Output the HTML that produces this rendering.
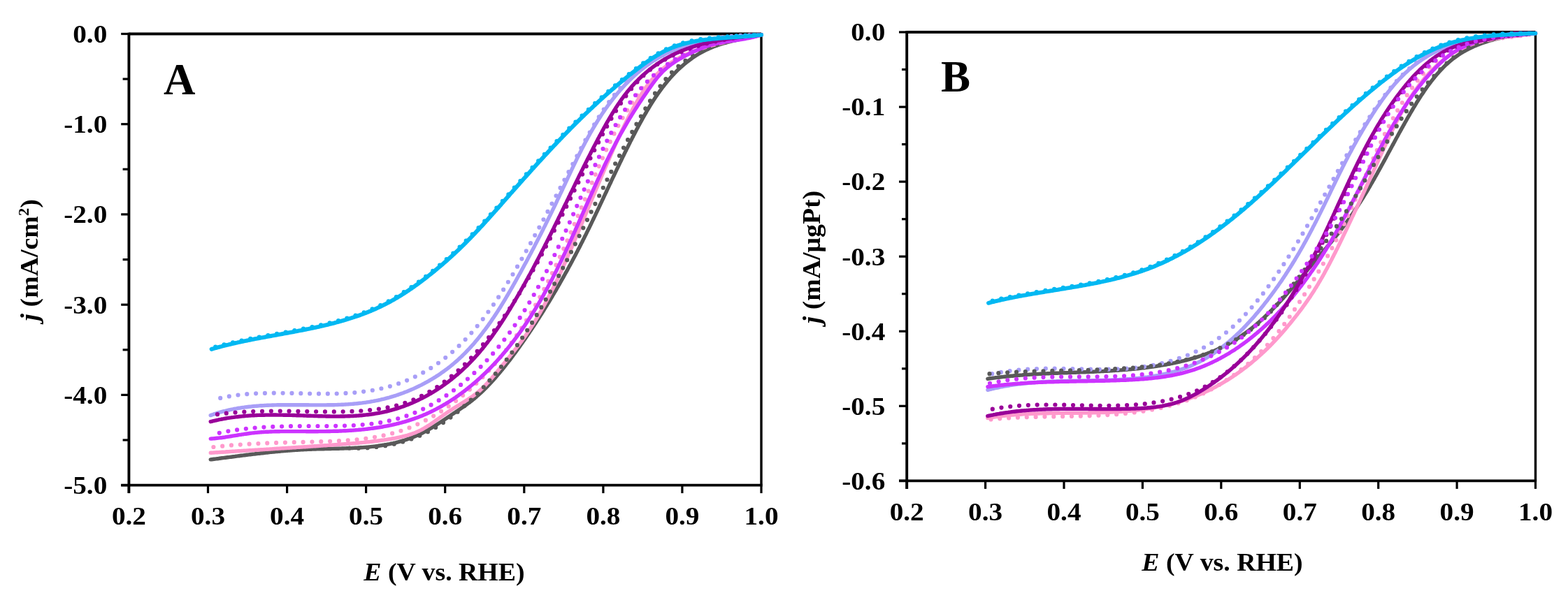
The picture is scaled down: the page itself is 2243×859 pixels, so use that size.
<!DOCTYPE html>
<html><head><meta charset="utf-8"><title>ORR polarization curves</title>
<style>
html,body{margin:0;padding:0;background:#fff;}
body{width:2243px;height:859px;overflow:hidden;}
svg{display:block;filter:blur(0.55px);}
.t{font-family:"Liberation Serif","Times New Roman",serif;font-weight:bold;font-size:36px;fill:#000;}
.big{font-family:"Liberation Serif","Times New Roman",serif;font-weight:bold;font-size:63px;fill:#000;}
</style></head><body>
<svg width="2243" height="859" viewBox="0 0 2243 859">
<rect width="2243" height="859" fill="#fff"/>
<defs><clipPath id="clA"><rect x="184.4" y="47.3" width="907.6" height="646.1"/></clipPath><clipPath id="clB"><rect x="1297.2" y="44.8" width="902.3" height="642.4"/></clipPath></defs>
<g id="panelA">
<line x1="184.4" y1="48.5" x2="1089.0" y2="48.5" stroke="#000" stroke-width="3.9"/>
<line x1="1089.0" y1="48.5" x2="1089.0" y2="694.6" stroke="#000" stroke-width="3.4"/>
<line x1="184.4" y1="46.7" x2="184.4" y2="706.1" stroke="#000" stroke-width="3.9"/>
<line x1="173.20000000000002" y1="694.6" x2="1090.6" y2="694.6" stroke="#000" stroke-width="3.9"/>
<line x1="173.20000000000002" y1="48.5" x2="184.4" y2="48.5" stroke="#000" stroke-width="3.2"/>
<text transform="translate(153.3,60.8) scale(1.09,1)" text-anchor="end" class="t">0.0</text>
<line x1="173.20000000000002" y1="177.7" x2="184.4" y2="177.7" stroke="#000" stroke-width="3.2"/>
<text transform="translate(153.3,190.0) scale(1.09,1)" text-anchor="end" class="t">-1.0</text>
<line x1="173.20000000000002" y1="306.9" x2="184.4" y2="306.9" stroke="#000" stroke-width="3.2"/>
<text transform="translate(153.3,319.2) scale(1.09,1)" text-anchor="end" class="t">-2.0</text>
<line x1="173.20000000000002" y1="436.2" x2="184.4" y2="436.2" stroke="#000" stroke-width="3.2"/>
<text transform="translate(153.3,448.5) scale(1.09,1)" text-anchor="end" class="t">-3.0</text>
<line x1="173.20000000000002" y1="565.4" x2="184.4" y2="565.4" stroke="#000" stroke-width="3.2"/>
<text transform="translate(153.3,577.7) scale(1.09,1)" text-anchor="end" class="t">-4.0</text>
<line x1="173.20000000000002" y1="694.6" x2="184.4" y2="694.6" stroke="#000" stroke-width="3.2"/>
<text transform="translate(153.3,706.9) scale(1.09,1)" text-anchor="end" class="t">-5.0</text>
<line x1="175.6" y1="113.1" x2="184.4" y2="113.1" stroke="#000" stroke-width="3.2"/>
<line x1="175.6" y1="242.3" x2="184.4" y2="242.3" stroke="#000" stroke-width="3.2"/>
<line x1="175.6" y1="371.6" x2="184.4" y2="371.6" stroke="#000" stroke-width="3.2"/>
<line x1="175.6" y1="500.8" x2="184.4" y2="500.8" stroke="#000" stroke-width="3.2"/>
<line x1="175.6" y1="630.0" x2="184.4" y2="630.0" stroke="#000" stroke-width="3.2"/>
<line x1="184.4" y1="694.6" x2="184.4" y2="706.1" stroke="#000" stroke-width="3.2"/>
<text transform="translate(184.4,750.5) scale(1.09,1)" text-anchor="middle" class="t">0.2</text>
<line x1="297.5" y1="694.6" x2="297.5" y2="706.1" stroke="#000" stroke-width="3.2"/>
<text transform="translate(297.5,750.5) scale(1.09,1)" text-anchor="middle" class="t">0.3</text>
<line x1="410.6" y1="694.6" x2="410.6" y2="706.1" stroke="#000" stroke-width="3.2"/>
<text transform="translate(410.6,750.5) scale(1.09,1)" text-anchor="middle" class="t">0.4</text>
<line x1="523.6" y1="694.6" x2="523.6" y2="706.1" stroke="#000" stroke-width="3.2"/>
<text transform="translate(523.6,750.5) scale(1.09,1)" text-anchor="middle" class="t">0.5</text>
<line x1="636.7" y1="694.6" x2="636.7" y2="706.1" stroke="#000" stroke-width="3.2"/>
<text transform="translate(636.7,750.5) scale(1.09,1)" text-anchor="middle" class="t">0.6</text>
<line x1="749.8" y1="694.6" x2="749.8" y2="706.1" stroke="#000" stroke-width="3.2"/>
<text transform="translate(749.8,750.5) scale(1.09,1)" text-anchor="middle" class="t">0.7</text>
<line x1="862.9" y1="694.6" x2="862.9" y2="706.1" stroke="#000" stroke-width="3.2"/>
<text transform="translate(862.9,750.5) scale(1.09,1)" text-anchor="middle" class="t">0.8</text>
<line x1="975.9" y1="694.6" x2="975.9" y2="706.1" stroke="#000" stroke-width="3.2"/>
<text transform="translate(975.9,750.5) scale(1.09,1)" text-anchor="middle" class="t">0.9</text>
<line x1="1089.0" y1="694.6" x2="1089.0" y2="706.1" stroke="#000" stroke-width="3.2"/>
<text transform="translate(1089.0,750.5) scale(1.09,1)" text-anchor="middle" class="t">1.0</text>
<g clip-path="url(#clA)">
<path d="M315.2 569.9 L317.0 569.5 L318.7 569.2 L320.5 568.8 L322.2 568.4 L324.0 568.1 L325.7 567.8 L327.5 567.5 L329.2 567.2 L331.0 566.9 L332.8 566.6 L334.5 566.3 L336.3 566.1 L338.0 565.9 L339.8 565.6 L341.6 565.4 L343.3 565.2 L345.1 565.0 L346.9 564.8 L348.6 564.6 L350.4 564.5 L352.2 564.3 L353.9 564.1 L355.7 564.0 L357.5 563.9 L359.3 563.7 L361.0 563.6 L362.8 563.5 L364.6 563.4 L366.4 563.3 L368.1 563.2 L369.9 563.2 L371.7 563.1 L373.5 563.0 L375.3 563.0 L377.0 562.9 L378.8 562.9 L380.6 562.8 L382.4 562.8 L384.2 562.8 L386.0 562.7 L387.7 562.7 L389.5 562.7 L391.3 562.7 L393.1 562.7 L394.9 562.7 L396.7 562.7 L398.5 562.7 L400.2 562.7 L402.0 562.7 L403.8 562.7 L405.6 562.8 L407.4 562.8 L409.2 562.8 L411.0 562.8 L412.8 562.9 L414.6 562.9 L416.3 562.9 L418.1 563.0 L419.9 563.0 L421.7 563.0 L423.5 563.1 L425.3 563.1 L427.1 563.2 L428.9 563.2 L430.7 563.2 L432.5 563.3 L434.3 563.3 L436.1 563.4 L437.9 563.4 L439.6 563.4 L441.4 563.5 L443.2 563.5 L445.0 563.5 L446.8 563.6 L448.6 563.6 L450.4 563.6 L452.2 563.7 L454.0 563.7 L455.8 563.7 L457.6 563.7 L459.4 563.7 L461.2 563.7 L463.0 563.7 L464.7 563.7 L466.5 563.7 L468.3 563.7 L470.1 563.7 L471.9 563.7 L473.7 563.7 L475.5 563.6 L477.3 563.6 L479.1 563.6 L480.9 563.5 L482.7 563.5 L484.5 563.4 L486.2 563.4 L488.0 563.3 L489.8 563.2 L491.6 563.1 L493.4 563.0 L495.2 562.9 L497.0 562.8 L498.8 562.7 L500.5 562.6 L502.3 562.5 L504.1 562.3 L505.9 562.2 L507.7 562.0 L509.5 561.8 L511.2 561.7 L513.0 561.5 L514.8 561.3 L516.6 561.1 L518.3 560.9 L520.1 560.6 L521.9 560.4 L523.7 560.2 L525.4 559.9 L527.2 559.6 L528.9 559.4 L530.7 559.1 L532.5 558.8 L534.2 558.5 L536.0 558.2 L537.7 557.8 L539.5 557.5 L541.2 557.1 L542.9 556.8 L544.7 556.4 L546.4 556.0 L548.1 555.6 L549.9 555.2 L551.6 554.7 L553.3 554.3 L555.0 553.8 L556.7 553.4 L558.4 552.9 L560.1 552.4 L561.8 551.9 L563.5 551.4 L565.2 550.8 L566.9 550.3 L568.6 549.7 L570.2 549.1 L571.9 548.5 L573.6 547.9 L575.2 547.3 L576.9 546.7 L578.5 546.0 L580.2 545.4 L581.8 544.7 L583.4 544.0 L585.0 543.3 L586.7 542.6 L588.3 541.9 L589.9 541.2 L591.5 540.4 L593.1 539.7 L594.7 538.9 L596.3 538.1 L597.8 537.3 L599.4 536.5 L601.0 535.7 L602.5 534.9 L604.1 534.0 L605.6 533.2 L607.2 532.3 L608.7 531.4 L610.2 530.6 L611.8 529.7 L613.3 528.8 L614.8 527.8 L616.3 526.9 L617.8 526.0 L619.2 525.0 L620.7 524.0 L622.2 523.1 L623.6 522.1 L625.1 521.1 L626.5 520.1 L628.0 519.1 L629.4 518.0 L630.8 517.0 L632.2 515.9 L633.6 514.9 L635.0 513.8 L636.4 512.7 L637.8 511.6 L639.2 510.5 L640.5 509.4 L641.9 508.3 L643.2 507.2 L644.6 506.0 L645.9 504.9 L647.3 503.7 L648.6 502.6 L649.9 501.4 L651.2 500.2 L652.5 499.0 L653.8 497.8 L655.1 496.6 L656.4 495.4 L657.6 494.1 L658.9 492.9 L660.2 491.7 L661.4 490.4 L662.7 489.2 L663.9 487.9 L665.1 486.6 L666.4 485.3 L667.6 484.0 L668.8 482.7 L670.0 481.4 L671.2 480.1 L672.4 478.8 L673.6 477.5 L674.8 476.1 L676.0 474.8 L677.1 473.5 L678.3 472.1 L679.5 470.7 L680.6 469.4 L681.8 468.0 L682.9 466.6 L684.0 465.2 L685.2 463.8 L686.3 462.4 L687.4 461.0 L688.5 459.6 L689.6 458.2 L690.8 456.8 L691.9 455.4 L692.9 453.9 L694.0 452.5 L695.1 451.1 L696.2 449.6 L697.3 448.2 L698.3 446.7 L699.4 445.2 L700.5 443.8 L701.5 442.3 L702.6 440.8 L703.6 439.4 L704.7 437.9 L705.7 436.4 L706.7 434.9 L707.8 433.4 L708.8 431.9 L709.8 430.4 L710.8 428.9 L711.8 427.4 L712.8 425.9 L713.8 424.4 L714.8 422.8 L715.8 421.3 L716.8 419.8 L717.8 418.3 L718.8 416.7 L719.8 415.2 L720.7 413.7 L721.7 412.1 L722.7 410.6 L723.6 409.1 L724.6 407.5 L725.5 406.0 L726.5 404.4 L727.4 402.9 L728.4 401.3 L729.3 399.8 L730.3 398.2 L731.2 396.6 L732.1 395.1 L733.1 393.5 L734.0 392.0 L734.9 390.4 L735.9 388.8 L736.8 387.3 L737.7 385.7 L738.6 384.2 L739.5 382.6 L740.4 381.0 L741.3 379.5 L742.2 377.9 L743.1 376.3 L744.0 374.8 L744.9 373.2 L745.8 371.6 L746.7 370.1 L747.6 368.5 L748.5 366.9 L749.4 365.4 L750.3 363.8 L751.1 362.3 L752.0 360.7 L752.9 359.1 L753.8 357.6 L754.6 356.0 L755.5 354.5 L756.4 352.9 L757.2 351.3 L758.1 349.8 L759.0 348.2 L759.8 346.7 L760.7 345.1 L761.6 343.5 L762.4 342.0 L763.3 340.4 L764.1 338.9 L765.0 337.3 L765.8 335.7 L766.7 334.2 L767.5 332.6 L768.4 331.1 L769.2 329.5 L770.1 328.0 L770.9 326.4 L771.8 324.9 L772.6 323.3 L773.4 321.7 L774.3 320.2 L775.1 318.6 L775.9 317.1 L776.8 315.5 L777.6 314.0 L778.4 312.4 L779.3 310.8 L780.1 309.3 L780.9 307.7 L781.8 306.2 L782.6 304.6 L783.4 303.1 L784.3 301.5 L785.1 299.9 L785.9 298.4 L786.7 296.8 L787.6 295.3 L788.4 293.7 L789.2 292.1 L790.0 290.6 L790.9 289.0 L791.7 287.5 L792.5 285.9 L793.3 284.3 L794.2 282.8 L795.0 281.2 L795.8 279.7 L796.6 278.1 L797.4 276.5 L798.3 275.0 L799.1 273.4 L799.9 271.9 L800.7 270.3 L801.6 268.7 L802.4 267.2 L803.2 265.6 L804.0 264.0 L804.8 262.5 L805.7 260.9 L806.5 259.3 L807.3 257.8 L808.1 256.2 L809.0 254.6 L809.8 253.0 L810.6 251.5 L811.4 249.9 L812.3 248.3 L813.1 246.8 L813.9 245.2 L814.7 243.6 L815.6 242.0 L816.4 240.5 L817.2 238.9 L818.0 237.3 L818.9 235.7 L819.7 234.1 L820.5 232.6 L821.4 231.0 L822.2 229.4 L823.0 227.8 L823.9 226.2 L824.7 224.7 L825.5 223.1 L826.4 221.5 L827.2 219.9 L828.1 218.3 L828.9 216.7 L829.7 215.1 L830.6 213.5 L831.4 211.9 L832.3 210.4 L833.1 208.8 L834.0 207.2 L834.8 205.6 L835.7 204.0 L836.6 202.4 L837.4 200.8 L838.3 199.2 L839.2 197.6 L840.0 196.1 L840.9 194.5 L841.8 192.9 L842.7 191.3 L843.6 189.7 L844.4 188.2 L845.3 186.6 L846.2 185.0 L847.1 183.5 L848.0 181.9 L848.9 180.3 L849.9 178.8 L850.8 177.2 L851.7 175.7 L852.6 174.1 L853.6 172.6 L854.5 171.1 L855.5 169.5 L856.4 168.0 L857.4 166.5 L858.3 165.0 L859.3 163.5 L860.3 161.9 L861.3 160.4 L862.2 158.9 L863.2 157.5 L864.2 156.0 L865.2 154.5 L866.3 153.0 L867.3 151.6 L868.3 150.1 L869.3 148.6 L870.4 147.2 L871.4 145.8 L872.5 144.3 L873.6 142.9 L874.6 141.5 L875.7 140.1 L876.8 138.7 L877.9 137.3 L879.0 135.9 L880.2 134.5 L881.3 133.2 L882.4 131.8 L883.6 130.4 L884.7 129.1 L885.9 127.8 L887.1 126.5 L888.2 125.1 L889.4 123.8 L890.6 122.6 L891.8 121.3 L893.1 120.0 L894.3 118.7 L895.5 117.5 L896.8 116.2 L898.0 115.0 L899.3 113.8 L900.6 112.6 L901.9 111.4 L903.2 110.2 L904.5 109.0 L905.8 107.8 L907.1 106.7 L908.4 105.5 L909.8 104.4 L911.1 103.3 L912.5 102.2 L913.9 101.1 L915.2 100.0 L916.6 98.9 L918.0 97.8 L919.4 96.8 L920.8 95.7 L922.3 94.7 L923.7 93.7 L925.1 92.7 L926.6 91.7 L928.0 90.7 L929.5 89.8 L931.0 88.8 L932.5 87.9 L934.0 86.9 L935.5 86.0 L937.0 85.1 L938.5 84.2 L940.0 83.4 L941.6 82.5 L943.1 81.6 L944.7 80.8 L946.3 80.0 L947.8 79.2 L949.4 78.4 L951.0 77.6 L952.6 76.8 L954.2 76.0 L955.8 75.3 L957.4 74.6 L959.0 73.8 L960.7 73.1 L962.3 72.4 L964.0 71.7 L965.6 71.1 L967.3 70.4 L968.9 69.7 L970.6 69.1 L972.3 68.5 L974.0 67.9 L975.6 67.2 L977.3 66.7 L979.0 66.1 L980.7 65.5 L982.4 64.9 L984.2 64.4 L985.9 63.9 L987.6 63.3 L989.3 62.8 L991.0 62.3 L992.8 61.8 L994.5 61.3 L996.3 60.9 L998.0 60.4 L999.8 60.0 L1001.5 59.5 L1003.3 59.1 L1005.0 58.7 L1006.8 58.3 L1008.6 57.9 L1010.3 57.5 L1012.1 57.1 L1013.9 56.7 L1015.6 56.4 L1017.4 56.0 L1019.2 55.7 L1021.0 55.4 L1022.8 55.1 L1024.6 54.8 L1026.3 54.5 L1028.1 54.2 L1029.9 53.9 L1031.7 53.6 L1033.5 53.4 L1035.3 53.1 L1037.1 52.9 L1038.9 52.7 L1040.7 52.4 L1042.5 52.2 L1044.3 52.0 L1046.0 51.8 L1047.8 51.7 L1049.6 51.5 L1051.4 51.3 L1053.2 51.2 L1055.0 51.0 L1056.8 50.9 L1058.6 50.8 L1060.4 50.6 L1062.2 50.5 L1063.9 50.4 L1065.7 50.3 L1067.5 50.2 L1069.3 50.1 L1071.1 50.1 L1072.8 50.0 L1074.6 50.0 L1076.4 49.9 L1078.2 49.9 L1079.9 49.8 L1081.7 49.8 L1083.4 49.8 L1085.2 49.8 L1087.0 49.8 L1088.7 49.8 L1089.2 49.8" fill="none" stroke="#A89EF7" stroke-width="6.2" stroke-linecap="round" stroke-dasharray="0 12.85"/>
<path d="M301.2 594.6 L302.7 594.1 L304.5 593.5 L306.2 592.9 L308.0 592.3 L309.8 591.7 L311.5 591.2 L313.3 590.7 L315.1 590.2 L316.9 589.7 L318.6 589.2 L320.4 588.7 L322.2 588.3 L324.0 587.8 L325.8 587.4 L327.6 587.0 L329.4 586.6 L331.2 586.2 L333.0 585.9 L334.8 585.5 L336.5 585.2 L338.3 584.9 L340.2 584.5 L342.0 584.2 L343.8 584.0 L345.6 583.7 L347.4 583.4 L349.2 583.2 L351.0 582.9 L352.8 582.7 L354.6 582.5 L356.4 582.3 L358.3 582.1 L360.1 581.9 L361.9 581.7 L363.7 581.5 L365.5 581.4 L367.4 581.2 L369.2 581.1 L371.0 580.9 L372.8 580.8 L374.7 580.7 L376.5 580.6 L378.3 580.5 L380.2 580.4 L382.0 580.3 L383.8 580.2 L385.7 580.1 L387.5 580.1 L389.3 580.0 L391.2 580.0 L393.0 579.9 L394.8 579.9 L396.7 579.8 L398.5 579.8 L400.3 579.8 L402.2 579.7 L404.0 579.7 L405.9 579.7 L407.7 579.7 L409.6 579.7 L411.4 579.7 L413.2 579.7 L415.1 579.7 L416.9 579.7 L418.8 579.7 L420.6 579.7 L422.5 579.7 L424.3 579.7 L426.1 579.7 L428.0 579.7 L429.8 579.7 L431.7 579.8 L433.5 579.8 L435.4 579.8 L437.2 579.8 L439.1 579.8 L440.9 579.8 L442.8 579.9 L444.6 579.9 L446.4 579.9 L448.3 579.9 L450.1 579.9 L452.0 579.9 L453.8 579.9 L455.7 579.9 L457.5 579.9 L459.3 579.9 L461.2 579.9 L463.0 579.9 L464.9 579.9 L466.7 579.9 L468.5 579.8 L470.4 579.8 L472.2 579.8 L474.1 579.8 L475.9 579.7 L477.7 579.7 L479.6 579.6 L481.4 579.6 L483.2 579.5 L485.1 579.4 L486.9 579.4 L488.7 579.3 L490.6 579.2 L492.4 579.1 L494.2 579.0 L496.0 578.9 L497.9 578.8 L499.7 578.6 L501.5 578.5 L503.3 578.4 L505.2 578.2 L507.0 578.0 L508.8 577.9 L510.6 577.7 L512.4 577.5 L514.2 577.3 L516.0 577.1 L517.9 576.9 L519.7 576.6 L521.5 576.4 L523.3 576.2 L525.1 575.9 L526.9 575.6 L528.7 575.3 L530.5 575.0 L532.3 574.7 L534.1 574.4 L535.9 574.0 L537.7 573.7 L539.5 573.3 L541.2 573.0 L543.0 572.6 L544.8 572.2 L546.6 571.7 L548.4 571.3 L550.2 570.9 L551.9 570.4 L553.7 569.9 L555.5 569.5 L557.2 569.0 L559.0 568.4 L560.8 567.9 L562.5 567.4 L564.3 566.8 L566.0 566.3 L567.8 565.7 L569.5 565.1 L571.2 564.5 L573.0 563.9 L574.7 563.3 L576.4 562.7 L578.1 562.0 L579.9 561.3 L581.6 560.7 L583.3 560.0 L585.0 559.3 L586.7 558.6 L588.4 557.8 L590.0 557.1 L591.7 556.4 L593.4 555.6 L595.1 554.8 L596.7 554.0 L598.4 553.3 L600.0 552.4 L601.7 551.6 L603.3 550.8 L605.0 549.9 L606.6 549.1 L608.2 548.2 L609.8 547.3 L611.4 546.5 L613.0 545.6 L614.6 544.6 L616.2 543.7 L617.8 542.8 L619.3 541.8 L620.9 540.9 L622.5 539.9 L624.0 538.9 L625.6 537.9 L627.1 536.9 L628.6 535.9 L630.1 534.9 L631.6 533.8 L633.1 532.8 L634.6 531.7 L636.1 530.6 L637.6 529.6 L639.0 528.5 L640.5 527.4 L641.9 526.2 L643.4 525.1 L644.8 524.0 L646.2 522.8 L647.6 521.7 L649.0 520.5 L650.4 519.3 L651.8 518.1 L653.2 516.9 L654.5 515.7 L655.9 514.5 L657.2 513.2 L658.5 512.0 L659.9 510.8 L661.2 509.5 L662.5 508.2 L663.8 506.9 L665.1 505.6 L666.3 504.3 L667.6 503.0 L668.9 501.7 L670.1 500.4 L671.4 499.1 L672.6 497.7 L673.8 496.4 L675.0 495.0 L676.3 493.6 L677.5 492.3 L678.7 490.9 L679.8 489.5 L681.0 488.1 L682.2 486.7 L683.4 485.3 L684.5 483.9 L685.7 482.4 L686.8 481.0 L688.0 479.6 L689.1 478.1 L690.2 476.7 L691.3 475.2 L692.4 473.7 L693.5 472.3 L694.6 470.8 L695.7 469.3 L696.8 467.8 L697.9 466.3 L699.0 464.8 L700.0 463.3 L701.1 461.8 L702.2 460.3 L703.2 458.8 L704.2 457.2 L705.3 455.7 L706.3 454.2 L707.3 452.6 L708.4 451.1 L709.4 449.5 L710.4 448.0 L711.4 446.4 L712.4 444.9 L713.4 443.3 L714.4 441.8 L715.4 440.2 L716.4 438.6 L717.3 437.0 L718.3 435.5 L719.3 433.9 L720.3 432.3 L721.2 430.7 L722.2 429.1 L723.1 427.5 L724.1 425.9 L725.0 424.3 L726.0 422.7 L726.9 421.1 L727.8 419.5 L728.8 417.9 L729.7 416.3 L730.6 414.7 L731.5 413.1 L732.5 411.5 L733.4 409.9 L734.3 408.3 L735.2 406.7 L736.1 405.1 L737.0 403.5 L737.9 401.9 L738.8 400.2 L739.7 398.6 L740.6 397.0 L741.5 395.4 L742.4 393.8 L743.3 392.2 L744.2 390.6 L745.1 389.0 L746.0 387.4 L746.8 385.7 L747.7 384.1 L748.6 382.5 L749.5 380.9 L750.3 379.3 L751.2 377.7 L752.1 376.1 L753.0 374.5 L753.8 372.9 L754.7 371.2 L755.5 369.6 L756.4 368.0 L757.3 366.4 L758.1 364.8 L759.0 363.2 L759.8 361.6 L760.7 359.9 L761.5 358.3 L762.4 356.7 L763.2 355.1 L764.1 353.5 L764.9 351.9 L765.7 350.3 L766.6 348.6 L767.4 347.0 L768.3 345.4 L769.1 343.8 L769.9 342.2 L770.7 340.5 L771.6 338.9 L772.4 337.3 L773.2 335.7 L774.1 334.1 L774.9 332.4 L775.7 330.8 L776.5 329.2 L777.3 327.6 L778.1 325.9 L779.0 324.3 L779.8 322.7 L780.6 321.0 L781.4 319.4 L782.2 317.8 L783.0 316.1 L783.8 314.5 L784.6 312.9 L785.4 311.2 L786.2 309.6 L787.0 308.0 L787.8 306.3 L788.6 304.7 L789.4 303.1 L790.2 301.4 L791.0 299.8 L791.8 298.1 L792.6 296.5 L793.4 294.8 L794.2 293.2 L795.0 291.6 L795.8 289.9 L796.5 288.3 L797.3 286.6 L798.1 284.9 L798.9 283.3 L799.7 281.6 L800.5 280.0 L801.2 278.3 L802.0 276.7 L802.8 275.0 L803.6 273.3 L804.4 271.7 L805.1 270.0 L805.9 268.4 L806.7 266.7 L807.5 265.0 L808.3 263.4 L809.0 261.7 L809.8 260.0 L810.6 258.4 L811.4 256.7 L812.1 255.0 L812.9 253.4 L813.7 251.7 L814.5 250.0 L815.3 248.4 L816.1 246.7 L816.8 245.0 L817.6 243.4 L818.4 241.7 L819.2 240.0 L820.0 238.4 L820.8 236.7 L821.6 235.0 L822.4 233.4 L823.2 231.7 L824.0 230.1 L824.8 228.4 L825.6 226.7 L826.4 225.1 L827.3 223.4 L828.1 221.8 L828.9 220.1 L829.7 218.5 L830.6 216.8 L831.4 215.2 L832.2 213.5 L833.1 211.9 L833.9 210.3 L834.8 208.6 L835.6 207.0 L836.5 205.4 L837.3 203.7 L838.2 202.1 L839.1 200.5 L840.0 198.9 L840.8 197.3 L841.7 195.6 L842.6 194.0 L843.5 192.4 L844.4 190.8 L845.3 189.2 L846.2 187.6 L847.1 186.0 L848.1 184.4 L849.0 182.8 L849.9 181.3 L850.9 179.7 L851.8 178.1 L852.8 176.5 L853.7 175.0 L854.7 173.4 L855.7 171.8 L856.7 170.3 L857.7 168.7 L858.7 167.2 L859.7 165.6 L860.7 164.1 L861.7 162.6 L862.7 161.1 L863.8 159.5 L864.8 158.0 L865.8 156.5 L866.9 155.0 L868.0 153.5 L869.0 152.0 L870.1 150.5 L871.2 149.0 L872.3 147.6 L873.4 146.1 L874.5 144.6 L875.7 143.2 L876.8 141.7 L877.9 140.3 L879.1 138.8 L880.2 137.4 L881.4 136.0 L882.6 134.6 L883.7 133.2 L884.9 131.8 L886.1 130.4 L887.3 129.0 L888.6 127.6 L889.8 126.3 L891.0 124.9 L892.2 123.6 L893.5 122.2 L894.7 120.9 L896.0 119.6 L897.3 118.3 L898.6 117.0 L899.8 115.7 L901.1 114.4 L902.5 113.1 L903.8 111.9 L905.1 110.6 L906.4 109.4 L907.8 108.1 L909.1 106.9 L910.5 105.7 L911.8 104.5 L913.2 103.4 L914.6 102.2 L916.0 101.0 L917.4 99.9 L918.8 98.7 L920.2 97.6 L921.6 96.5 L923.1 95.4 L924.5 94.3 L926.0 93.3 L927.5 92.2 L928.9 91.2 L930.4 90.1 L931.9 89.1 L933.4 88.1 L934.9 87.1 L936.4 86.1 L938.0 85.2 L939.5 84.2 L941.0 83.3 L942.6 82.4 L944.2 81.5 L945.7 80.6 L947.3 79.7 L948.9 78.9 L950.5 78.0 L952.1 77.2 L953.7 76.4 L955.4 75.6 L957.0 74.8 L958.7 74.0 L960.3 73.3 L962.0 72.6 L963.7 71.8 L965.3 71.2 L967.0 70.5 L968.7 69.8 L970.5 69.2 L972.2 68.5 L973.9 67.9 L975.6 67.3 L977.4 66.7 L979.1 66.2 L980.9 65.6 L982.7 65.1 L984.4 64.5 L986.2 64.0 L988.0 63.5 L989.8 63.0 L991.6 62.6 L993.4 62.1 L995.2 61.7 L997.0 61.2 L998.8 60.8 L1000.4 60.4 L1002.0 60.1 L1003.5 59.8 L1005.1 59.4 L1006.7 59.1 L1008.2 58.8 L1009.8 58.5 L1011.4 58.2 L1013.0 57.9 L1014.6 57.6 L1016.2 57.4 L1017.7 57.1 L1019.3 56.8 L1020.9 56.6 L1022.5 56.3 L1024.1 56.1 L1025.7 55.9 L1027.3 55.6 L1028.9 55.4 L1030.5 55.2 L1032.1 55.0 L1033.7 54.8 L1035.3 54.6 L1036.9 54.4 L1038.4 54.2 L1040.0 54.0 L1041.6 53.8 L1043.5 53.6 L1045.3 53.4 L1047.2 53.2 L1049.0 53.1 L1050.9 52.9 L1052.7 52.7 L1054.6 52.5 L1056.4 52.4 L1058.2 52.2 L1060.1 52.0 L1061.9 51.9 L1063.7 51.7 L1065.6 51.6 L1067.4 51.4 L1069.2 51.3 L1071.0 51.2 L1072.8 51.0 L1074.6 50.9 L1076.4 50.8 L1078.1 50.6 L1079.9 50.5 L1081.7 50.4 L1083.5 50.2 L1085.2 50.1 L1087.0 50.0 L1088.7 49.8 L1089.2 49.8" fill="none" stroke="#A89EF7" stroke-width="5.4" stroke-linecap="round" stroke-linejoin="round"/>
<path d="M301.2 657.9 L302.8 657.7 L304.5 657.5 L306.1 657.3 L307.8 657.1 L309.4 656.9 L311.0 656.7 L312.7 656.5 L314.3 656.2 L315.9 656.0 L317.5 655.8 L319.2 655.6 L320.8 655.4 L322.4 655.2 L324.0 655.0 L325.7 654.8 L327.3 654.6 L328.9 654.4 L330.5 654.2 L332.1 654.0 L333.8 653.8 L335.4 653.6 L337.0 653.3 L338.6 653.1 L340.2 652.9 L341.8 652.7 L343.4 652.5 L345.0 652.3 L346.7 652.1 L348.3 651.9 L349.9 651.7 L351.5 651.5 L353.1 651.3 L354.7 651.1 L356.3 650.9 L357.9 650.7 L359.5 650.5 L361.1 650.3 L362.7 650.1 L364.3 650.0 L365.9 649.8 L367.6 649.6 L369.2 649.4 L370.8 649.2 L372.4 649.0 L374.0 648.8 L375.6 648.7 L377.2 648.5 L378.8 648.3 L380.4 648.1 L382.0 648.0 L383.6 647.8 L385.2 647.6 L386.8 647.4 L388.4 647.3 L390.0 647.1 L391.6 647.0 L393.2 646.8 L394.9 646.6 L396.5 646.5 L398.1 646.3 L399.7 646.2 L401.3 646.0 L402.9 645.9 L404.5 645.8 L406.1 645.6 L407.7 645.5 L409.3 645.3 L411.0 645.2 L412.6 645.1 L414.2 645.0 L415.8 644.8 L417.4 644.7 L419.0 644.6 L420.7 644.5 L422.3 644.4 L423.9 644.3 L425.5 644.2 L427.2 644.1 L428.8 644.0 L430.4 643.9 L432.0 643.8 L433.7 643.7 L435.3 643.6 L436.9 643.5 L438.6 643.5 L440.2 643.4 L441.8 643.3 L443.5 643.3 L445.1 643.2 L446.8 643.1 L448.4 643.1 L450.0 643.0 L451.7 643.0 L453.3 642.9 L455.0 642.9 L456.6 642.8 L458.3 642.8 L459.9 642.8 L461.6 642.7 L463.2 642.7 L464.9 642.6 L466.5 642.6 L468.2 642.6 L469.8 642.5 L471.5 642.5 L473.1 642.5 L474.8 642.4 L476.4 642.4 L478.1 642.3 L479.7 642.3 L481.4 642.3 L483.0 642.2 L484.7 642.2 L486.3 642.1 L488.0 642.1 L489.6 642.0 L491.3 642.0 L492.9 641.9 L494.6 641.9 L496.2 641.8 L497.9 641.8 L499.5 641.7 L501.2 641.6 L502.8 641.6 L504.5 641.5 L506.1 641.4 L507.8 641.3 L509.4 641.2 L511.0 641.1 L512.7 641.1 L514.3 640.9 L515.9 640.8 L517.6 640.7 L519.2 640.6 L520.8 640.5 L522.5 640.4 L524.1 640.2 L525.7 640.1 L527.3 639.9 L529.0 639.8 L530.6 639.6 L532.2 639.4 L533.8 639.3 L535.4 639.1 L537.0 638.9 L538.7 638.7 L540.3 638.5 L541.9 638.2 L543.5 638.0 L545.1 637.8 L546.7 637.5 L548.2 637.3 L549.8 637.0 L551.4 636.7 L553.0 636.5 L554.6 636.2 L556.2 635.9 L557.7 635.6 L559.3 635.2 L560.9 634.9 L562.4 634.6 L564.0 634.2 L565.8 633.8 L567.6 633.3 L569.4 632.9 L571.2 632.4 L573.0 631.9 L574.8 631.4 L576.6 630.8 L578.4 630.3 L580.2 629.7 L581.9 629.1 L583.7 628.5 L585.4 627.9 L587.2 627.3 L588.9 626.6 L590.7 625.9 L592.2 625.3 L593.6 624.7 L595.1 624.1 L596.6 623.5 L598.1 622.8 L599.5 622.1 L601.0 621.4 L602.4 620.7 L603.9 620.0 L605.3 619.3 L606.7 618.5 L608.2 617.7 L609.6 617.0 L611.0 616.2 L612.5 615.4 L613.9 614.6 L615.3 613.7 L616.7 612.9 L618.1 612.1 L619.5 611.2 L620.9 610.4 L622.3 609.5 L623.7 608.6 L625.1 607.7 L626.5 606.8 L627.8 606.0 L629.2 605.1 L630.6 604.2 L632.0 603.2 L633.4 602.3 L634.7 601.4 L636.1 600.5 L637.5 599.6 L638.8 598.7 L640.2 597.7 L641.6 596.8 L642.9 595.9 L644.3 595.0 L645.7 594.0 L647.0 593.1 L648.4 592.2 L649.7 591.3 L651.1 590.4 L652.4 589.5 L653.8 588.6 L655.2 587.6 L656.5 586.7 L657.9 585.8 L659.2 584.9 L660.5 584.0 L661.9 583.1 L663.2 582.1 L664.5 581.2 L665.9 580.3 L667.2 579.3 L668.5 578.4 L669.8 577.4 L671.1 576.5 L672.4 575.5 L673.6 574.5 L674.9 573.5 L676.2 572.5 L677.4 571.5 L678.7 570.5 L679.9 569.4 L681.1 568.4 L682.3 567.3 L683.5 566.3 L684.8 565.2 L685.9 564.1 L687.1 563.0 L688.3 561.9 L689.5 560.8 L690.7 559.7 L691.8 558.6 L693.0 557.5 L694.1 556.3 L695.3 555.2 L696.4 554.0 L697.5 552.9 L698.6 551.7 L699.8 550.5 L700.9 549.3 L702.0 548.2 L703.1 547.0 L704.2 545.8 L705.2 544.6 L706.3 543.4 L707.4 542.1 L708.5 540.9 L709.5 539.7 L710.6 538.5 L711.6 537.2 L712.7 536.0 L713.7 534.8 L714.8 533.5 L715.8 532.3 L716.8 531.0 L717.9 529.8 L718.9 528.5 L719.9 527.3 L720.9 526.0 L721.9 524.7 L722.9 523.5 L723.9 522.2 L724.9 520.9 L725.9 519.6 L726.9 518.3 L727.9 517.1 L728.9 515.8 L729.9 514.5 L730.9 513.2 L731.8 511.9 L732.8 510.6 L733.8 509.3 L734.7 508.0 L735.7 506.7 L736.7 505.4 L737.6 504.1 L738.6 502.8 L739.5 501.5 L740.5 500.1 L741.4 498.8 L742.4 497.5 L743.3 496.2 L744.2 494.9 L745.2 493.5 L746.1 492.2 L747.0 490.9 L748.0 489.6 L748.9 488.2 L749.8 486.9 L750.8 485.6 L751.7 484.2 L752.6 482.9 L753.5 481.5 L754.4 480.2 L755.3 478.8 L756.3 477.5 L757.2 476.1 L758.1 474.8 L759.0 473.4 L759.9 472.1 L760.8 470.7 L761.7 469.4 L762.6 468.0 L763.5 466.7 L764.4 465.3 L765.3 463.9 L766.2 462.6 L767.1 461.2 L767.9 459.8 L768.8 458.5 L769.7 457.1 L770.6 455.7 L771.5 454.3 L772.3 453.0 L773.2 451.6 L774.1 450.2 L775.0 448.8 L775.8 447.4 L776.7 446.1 L777.6 444.7 L778.4 443.3 L779.3 441.9 L780.1 440.5 L781.0 439.1 L781.9 437.7 L782.7 436.3 L783.6 434.9 L784.4 433.6 L785.3 432.2 L786.1 430.8 L787.0 429.4 L787.8 428.0 L788.6 426.6 L789.5 425.2 L790.3 423.7 L791.1 422.3 L792.0 420.9 L792.8 419.5 L793.6 418.1 L794.5 416.7 L795.3 415.3 L796.1 413.9 L796.9 412.5 L797.7 411.1 L798.6 409.6 L799.4 408.2 L800.2 406.8 L801.0 405.4 L801.8 404.0 L802.6 402.5 L803.4 401.1 L804.2 399.7 L805.0 398.3 L805.8 396.9 L806.6 395.4 L807.4 394.0 L808.2 392.6 L809.0 391.1 L809.8 389.7 L810.6 388.3 L811.4 386.9 L812.2 385.4 L812.9 384.0 L813.7 382.6 L814.5 381.1 L815.3 379.7 L816.1 378.2 L816.8 376.8 L817.6 375.4 L818.4 373.9 L819.1 372.5 L819.9 371.1 L820.7 369.6 L821.4 368.2 L822.2 366.7 L823.0 365.3 L823.7 363.8 L824.5 362.4 L825.2 361.0 L826.0 359.5 L826.7 358.1 L827.5 356.6 L828.2 355.2 L829.0 353.7 L829.7 352.3 L830.4 350.8 L831.2 349.4 L831.9 347.9 L832.7 346.5 L833.4 345.0 L834.1 343.6 L834.9 342.1 L835.6 340.7 L836.3 339.2 L837.0 337.8 L837.8 336.3 L838.5 334.9 L839.2 333.4 L839.9 331.9 L840.6 330.5 L841.3 329.0 L842.1 327.6 L842.8 326.1 L843.5 324.7 L844.2 323.2 L844.9 321.8 L845.6 320.3 L846.3 318.8 L847.0 317.4 L847.7 315.9 L848.4 314.5 L849.1 313.0 L849.8 311.5 L850.5 310.1 L851.2 308.6 L851.9 307.2 L852.6 305.7 L853.3 304.2 L854.0 302.8 L854.7 301.3 L855.4 299.9 L856.1 298.4 L856.8 296.9 L857.4 295.5 L858.1 294.0 L858.8 292.5 L859.5 291.1 L860.2 289.6 L860.9 288.2 L861.6 286.7 L862.3 285.2 L863.0 283.8 L863.6 282.3 L864.3 280.8 L865.0 279.4 L865.7 277.9 L866.4 276.4 L867.1 275.0 L867.8 273.5 L868.4 272.0 L869.1 270.6 L869.8 269.1 L870.5 267.6 L871.2 266.2 L871.9 264.7 L872.6 263.2 L873.3 261.8 L874.0 260.3 L874.6 258.8 L875.3 257.4 L876.0 255.9 L876.7 254.4 L877.4 253.0 L878.1 251.5 L878.8 250.0 L879.5 248.6 L880.2 247.1 L880.9 245.6 L881.6 244.2 L882.3 242.7 L883.0 241.2 L883.7 239.8 L884.4 238.3 L885.1 236.8 L885.8 235.4 L886.5 233.9 L887.2 232.4 L887.9 231.0 L888.6 229.5 L889.3 228.0 L890.0 226.6 L890.7 225.1 L891.5 223.6 L892.2 222.2 L892.9 220.7 L893.6 219.2 L894.3 217.8 L895.1 216.3 L895.8 214.8 L896.5 213.4 L897.2 211.9 L898.0 210.4 L898.7 209.0 L899.4 207.5 L900.2 206.0 L900.9 204.6 L901.6 203.1 L902.4 201.6 L903.1 200.2 L903.9 198.7 L904.6 197.2 L905.4 195.8 L906.1 194.3 L906.9 192.8 L907.7 191.4 L908.4 189.9 L909.2 188.4 L909.9 187.0 L910.7 185.5 L911.5 184.0 L912.3 182.6 L913.0 181.1 L913.8 179.7 L914.6 178.2 L915.4 176.7 L916.2 175.3 L917.0 173.8 L917.8 172.4 L918.6 170.9 L919.4 169.5 L920.2 168.0 L921.0 166.6 L921.8 165.2 L922.6 163.7 L923.5 162.3 L924.3 160.9 L925.1 159.4 L926.0 158.0 L926.8 156.6 L927.7 155.2 L928.5 153.7 L929.4 152.3 L930.2 150.9 L931.1 149.5 L932.0 148.1 L932.8 146.7 L933.7 145.4 L934.6 144.0 L935.5 142.6 L936.4 141.2 L937.3 139.9 L938.2 138.5 L939.2 137.1 L940.1 135.8 L941.0 134.5 L941.9 133.1 L942.9 131.8 L943.8 130.5 L944.8 129.1 L945.8 127.8 L946.7 126.5 L947.7 125.2 L948.7 123.9 L949.7 122.7 L950.7 121.4 L951.7 120.1 L952.7 118.9 L953.7 117.6 L954.7 116.4 L955.8 115.1 L956.8 113.9 L957.8 112.7 L958.9 111.5 L960.0 110.3 L961.0 109.1 L962.1 107.9 L963.4 106.6 L964.7 105.2 L966.0 103.9 L967.3 102.5 L968.6 101.2 L969.9 99.9 L971.3 98.6 L972.6 97.4 L974.0 96.1 L975.4 94.9 L976.8 93.7 L978.2 92.5 L979.6 91.3 L981.0 90.1 L982.5 88.9 L983.9 87.8 L985.4 86.7 L986.9 85.6 L988.4 84.5 L989.9 83.4 L991.4 82.3 L993.0 81.3 L994.5 80.3 L996.1 79.3 L997.7 78.3 L999.0 77.5 L1000.4 76.6 L1001.8 75.8 L1003.2 75.1 L1004.6 74.3 L1006.1 73.5 L1007.5 72.8 L1008.9 72.1 L1010.4 71.3 L1011.9 70.7 L1013.4 70.0 L1014.9 69.3 L1016.4 68.7 L1017.9 68.0 L1019.4 67.4 L1021.0 66.8 L1022.5 66.2 L1024.1 65.6 L1025.7 65.1 L1027.3 64.5 L1028.9 64.0 L1030.5 63.5 L1032.1 63.0 L1033.7 62.5 L1035.3 62.0 L1036.9 61.6 L1038.6 61.1 L1040.2 60.6 L1041.8 60.2 L1043.5 59.8 L1045.1 59.4 L1046.8 58.9 L1048.4 58.5 L1050.1 58.2 L1051.7 57.8 L1053.3 57.4 L1055.0 57.0 L1056.6 56.7 L1058.3 56.3 L1059.9 55.9 L1061.5 55.6 L1063.2 55.2 L1064.8 54.9 L1066.4 54.6 L1068.0 54.2 L1069.6 53.9 L1071.2 53.6 L1072.8 53.3 L1074.3 52.9 L1076.2 52.6 L1078.0 52.2 L1079.8 51.8 L1081.5 51.5 L1083.3 51.1 L1085.0 50.7 L1086.8 50.3 L1088.5 50.0 L1089.2 49.8" fill="none" stroke="#595959" stroke-width="5.4" stroke-linecap="round" stroke-linejoin="round"/>
<path d="M305.4 640.0 L307.0 639.8 L308.6 639.6 L310.3 639.5 L311.9 639.3 L313.5 639.1 L315.1 638.9 L316.7 638.8 L318.4 638.6 L320.0 638.5 L321.6 638.3 L323.2 638.2 L324.8 638.0 L326.4 637.9 L328.1 637.7 L329.7 637.6 L331.3 637.4 L332.9 637.3 L334.5 637.2 L336.1 637.1 L337.7 636.9 L339.3 636.8 L341.0 636.7 L342.6 636.6 L344.2 636.5 L345.8 636.4 L347.4 636.2 L349.0 636.1 L350.6 636.0 L352.2 635.9 L353.8 635.8 L355.4 635.7 L357.0 635.6 L358.7 635.6 L360.3 635.5 L361.9 635.4 L363.5 635.3 L365.1 635.2 L366.7 635.1 L368.3 635.0 L369.9 635.0 L371.5 634.9 L373.1 634.8 L374.7 634.7 L376.3 634.7 L377.9 634.6 L379.5 634.5 L381.2 634.5 L382.8 634.4 L384.4 634.3 L386.0 634.3 L387.6 634.2 L389.2 634.2 L390.8 634.1 L392.4 634.1 L394.0 634.0 L395.6 633.9 L397.2 633.9 L398.8 633.8 L400.5 633.8 L402.1 633.7 L403.7 633.7 L405.3 633.6 L406.9 633.6 L408.5 633.5 L410.1 633.5 L411.7 633.5 L413.3 633.4 L414.9 633.4 L416.6 633.3 L418.2 633.3 L419.8 633.2 L421.4 633.2 L423.0 633.2 L424.6 633.1 L426.3 633.1 L427.9 633.0 L429.5 633.0 L431.1 632.9 L432.7 632.9 L434.3 632.9 L436.0 632.8 L437.6 632.8 L439.2 632.7 L440.8 632.7 L442.4 632.7 L444.1 632.6 L445.7 632.6 L447.3 632.5 L448.9 632.5 L450.6 632.4 L452.2 632.4 L453.8 632.4 L455.5 632.3 L457.1 632.3 L458.7 632.2 L460.3 632.2 L462.0 632.1 L463.6 632.1 L465.2 632.0 L466.9 632.0 L468.5 631.9 L470.1 631.8 L471.8 631.8 L473.4 631.7 L475.0 631.6 L476.6 631.6 L478.3 631.5 L479.9 631.4 L481.5 631.3 L483.2 631.3 L484.8 631.2 L486.4 631.1 L488.1 631.0 L489.7 630.9 L491.3 630.8 L492.9 630.7 L494.6 630.6 L496.2 630.5 L497.8 630.3 L499.4 630.2 L501.1 630.1 L502.7 629.9 L504.3 629.8 L505.9 629.7 L507.5 629.5 L509.2 629.4 L510.8 629.2 L512.4 629.0 L514.0 628.9 L515.6 628.7 L517.2 628.5 L518.8 628.3 L520.5 628.1 L522.1 627.9 L523.7 627.7 L525.3 627.5 L526.9 627.3 L528.5 627.0 L530.1 626.8 L531.7 626.5 L533.3 626.3 L534.9 626.0 L536.4 625.8 L538.0 625.5 L539.6 625.2 L541.2 624.9 L542.8 624.6 L544.4 624.3 L545.9 624.0 L547.5 623.6 L549.1 623.3 L550.7 623.0 L552.2 622.6 L553.8 622.2 L555.4 621.9 L556.9 621.5 L558.5 621.1 L560.0 620.7 L561.6 620.3 L563.1 619.8 L564.7 619.4 L566.2 619.0 L567.8 618.5 L569.3 618.0 L570.8 617.6 L572.3 617.1 L573.9 616.6 L575.4 616.1 L576.9 615.6 L578.4 615.0 L579.9 614.5 L581.5 613.9 L583.0 613.4 L584.5 612.8 L586.0 612.2 L587.5 611.6 L589.0 611.0 L590.4 610.4 L591.9 609.8 L593.4 609.1 L594.9 608.5 L596.4 607.8 L597.8 607.1 L599.3 606.5 L600.7 605.8 L602.2 605.1 L603.7 604.4 L605.1 603.6 L606.6 602.9 L608.0 602.2 L609.4 601.4 L610.9 600.7 L612.3 599.9 L613.7 599.1 L615.1 598.4 L616.6 597.6 L618.0 596.8 L619.4 596.0 L620.8 595.1 L622.2 594.3 L623.6 593.5 L625.0 592.6 L626.4 591.8 L627.7 590.9 L629.1 590.1 L630.5 589.2 L631.9 588.3 L633.2 587.4 L634.6 586.5 L635.9 585.6 L637.3 584.7 L638.6 583.8 L640.0 582.9 L641.3 582.0 L642.6 581.0 L644.0 580.1 L645.3 579.1 L646.6 578.2 L647.9 577.2 L649.2 576.2 L650.5 575.2 L651.8 574.3 L653.1 573.3 L654.4 572.3 L655.7 571.3 L656.9 570.3 L658.2 569.2 L659.5 568.2 L660.7 567.2 L662.0 566.2 L663.2 565.1 L664.5 564.1 L665.7 563.0 L667.0 562.0 L668.2 560.9 L669.4 559.9 L670.6 558.8 L671.8 557.7 L673.0 556.6 L674.2 555.6 L675.4 554.5 L676.6 553.4 L677.8 552.3 L679.0 551.2 L680.1 550.1 L681.3 549.0 L682.5 547.9 L683.6 546.7 L684.8 545.6 L685.9 544.5 L687.1 543.4 L688.2 542.2 L689.3 541.1 L690.5 539.9 L691.6 538.8 L692.7 537.6 L693.8 536.5 L694.9 535.3 L696.0 534.2 L697.1 533.0 L698.2 531.8 L699.3 530.6 L700.3 529.4 L701.6 528.1 L702.8 526.7 L704.1 525.3 L705.3 523.9 L706.5 522.5 L707.8 521.1 L709.0 519.6 L710.2 518.2 L711.4 516.8 L712.6 515.4 L713.8 513.9 L714.9 512.5 L716.1 511.0 L717.3 509.6 L718.5 508.1 L719.6 506.7 L720.8 505.2 L721.9 503.7 L723.0 502.3 L724.2 500.8 L725.3 499.3 L726.4 497.8 L727.5 496.3 L728.7 494.8 L729.8 493.3 L730.9 491.8 L731.9 490.3 L733.0 488.8 L734.1 487.3 L735.0 486.0 L736.0 484.6 L736.9 483.3 L737.8 482.0 L738.7 480.7 L739.6 479.4 L740.5 478.0 L741.4 476.7 L742.3 475.4 L743.2 474.1 L744.1 472.7 L744.9 471.4 L745.8 470.0 L746.7 468.7 L747.6 467.3 L748.4 466.0 L749.3 464.6 L750.2 463.3 L751.0 461.9 L751.9 460.6 L752.7 459.2 L753.6 457.8 L754.4 456.4 L755.2 455.1 L756.1 453.7 L756.9 452.3 L757.7 450.9 L758.6 449.6 L759.4 448.2 L760.2 446.8 L761.0 445.4 L761.8 444.0 L762.6 442.6 L763.4 441.2 L764.2 439.8 L765.0 438.4 L765.8 437.0 L766.6 435.6 L767.4 434.2 L768.2 432.8 L769.0 431.4 L769.8 430.0 L770.6 428.5 L771.3 427.1 L772.1 425.7 L772.9 424.3 L773.7 422.8 L774.4 421.4 L775.2 420.0 L775.9 418.6 L776.7 417.1 L777.5 415.7 L778.2 414.3 L779.0 412.8 L779.7 411.4 L780.5 409.9 L781.2 408.5 L781.9 407.0 L782.7 405.6 L783.4 404.1 L784.1 402.7 L784.9 401.2 L785.6 399.8 L786.3 398.3 L787.0 396.9 L787.8 395.4 L788.5 394.0 L789.2 392.5 L789.9 391.0 L790.6 389.6 L791.3 388.1 L792.1 386.6 L792.8 385.2 L793.5 383.7 L794.2 382.2 L794.9 380.8 L795.6 379.3 L796.3 377.8 L797.0 376.3 L797.6 374.9 L798.3 373.4 L799.0 371.9 L799.7 370.4 L800.4 368.9 L801.1 367.4 L801.8 366.0 L802.4 364.5 L803.1 363.0 L803.8 361.5 L804.5 360.0 L805.2 358.5 L805.8 357.0 L806.5 355.6 L807.2 354.1 L807.8 352.6 L808.5 351.1 L809.2 349.6 L809.8 348.1 L810.5 346.6 L811.2 345.1 L811.8 343.6 L812.5 342.1 L813.1 340.6 L813.8 339.1 L814.5 337.6 L815.1 336.1 L815.8 334.6 L816.4 333.1 L817.1 331.6 L817.7 330.1 L818.4 328.6 L819.0 327.1 L819.7 325.6 L820.3 324.1 L820.9 322.6 L821.6 321.1 L822.2 319.6 L822.9 318.1 L823.5 316.6 L824.2 315.1 L824.8 313.6 L825.4 312.1 L826.1 310.6 L826.7 309.1 L827.4 307.6 L828.0 306.1 L828.6 304.6 L829.3 303.1 L829.9 301.6 L830.5 300.1 L831.2 298.6 L831.8 297.1 L832.4 295.6 L833.1 294.1 L833.7 292.6 L834.3 291.1 L835.0 289.5 L835.6 288.0 L836.2 286.5 L836.9 285.0 L837.5 283.5 L838.1 282.0 L838.8 280.5 L839.4 279.0 L840.0 277.5 L840.7 276.1 L841.3 274.6 L841.9 273.1 L842.5 271.6 L843.2 270.1 L843.8 268.6 L844.4 267.1 L845.1 265.6 L845.7 264.1 L846.3 262.6 L847.0 261.1 L847.6 259.6 L848.2 258.1 L848.9 256.6 L849.5 255.1 L850.1 253.7 L850.8 252.2 L851.4 250.7 L852.0 249.2 L852.7 247.7 L853.3 246.2 L853.9 244.8 L854.6 243.3 L855.2 241.8 L855.9 240.3 L856.5 238.8 L857.1 237.4 L857.8 235.9 L858.4 234.4 L859.1 232.9 L859.7 231.5 L860.4 230.0 L861.0 228.5 L861.7 227.1 L862.3 225.6 L863.0 224.1 L863.6 222.7 L864.3 221.2 L864.9 219.7 L865.6 218.3 L866.3 216.8 L866.9 215.4 L867.6 213.9 L868.3 212.5 L869.0 211.0 L869.6 209.6 L870.3 208.1 L871.0 206.7 L871.7 205.2 L872.4 203.8 L873.1 202.3 L873.8 200.9 L874.5 199.5 L875.2 198.0 L875.9 196.6 L876.6 195.2 L877.3 193.7 L878.1 192.3 L878.8 190.9 L879.5 189.4 L880.2 188.0 L881.0 186.6 L881.7 185.2 L882.5 183.8 L883.2 182.3 L884.0 180.9 L884.7 179.5 L885.5 178.1 L886.3 176.7 L887.0 175.3 L887.8 173.9 L888.6 172.5 L889.4 171.1 L890.2 169.7 L891.0 168.3 L891.8 166.9 L892.6 165.5 L893.4 164.1 L894.3 162.7 L895.1 161.4 L895.9 160.0 L896.8 158.6 L897.6 157.2 L898.5 155.9 L899.4 154.5 L900.2 153.1 L901.1 151.8 L902.0 150.4 L902.9 149.0 L903.8 147.7 L904.7 146.3 L905.6 145.0 L906.5 143.7 L907.4 142.3 L908.4 141.0 L909.3 139.7 L910.3 138.4 L911.2 137.1 L912.2 135.8 L913.1 134.5 L914.1 133.2 L915.1 131.9 L916.1 130.6 L917.1 129.3 L918.1 128.1 L919.1 126.8 L920.2 125.6 L921.2 124.3 L922.2 123.1 L923.3 121.9 L924.3 120.7 L925.4 119.5 L926.5 118.3 L927.6 117.1 L928.7 115.9 L929.8 114.7 L930.9 113.6 L932.0 112.4 L933.2 111.3 L934.3 110.2 L935.4 109.1 L936.6 108.0 L937.8 106.9 L939.2 105.6 L940.5 104.4 L942.0 103.1 L943.4 101.9 L944.8 100.7 L946.2 99.6 L947.7 98.4 L949.2 97.3 L950.7 96.1 L952.2 95.0 L953.7 93.9 L955.2 92.9 L956.7 91.8 L958.3 90.8 L959.8 89.7 L961.2 88.9 L962.5 88.0 L963.9 87.2 L965.3 86.3 L966.6 85.5 L968.0 84.7 L969.4 83.9 L970.8 83.1 L972.2 82.4 L973.7 81.6 L975.1 80.8 L976.5 80.1 L977.9 79.4 L979.4 78.6 L980.8 77.9 L982.3 77.2 L983.8 76.5 L985.2 75.9 L986.7 75.2 L988.2 74.5 L989.7 73.9 L991.2 73.2 L992.6 72.6 L994.2 72.0 L995.7 71.4 L997.2 70.8 L998.7 70.2 L1000.2 69.6 L1001.7 69.0 L1003.3 68.5 L1004.8 67.9 L1006.3 67.4 L1007.9 66.8 L1009.4 66.3 L1011.0 65.8 L1012.5 65.3 L1014.1 64.8 L1015.7 64.3 L1017.2 63.8 L1018.8 63.4 L1020.4 62.9 L1022.0 62.4 L1023.5 62.0 L1025.1 61.5 L1026.7 61.1 L1028.3 60.7 L1029.9 60.3 L1031.5 59.9 L1033.1 59.5 L1034.6 59.1 L1036.2 58.7 L1037.8 58.3 L1039.4 58.0 L1041.0 57.6 L1042.6 57.2 L1044.2 56.9 L1045.8 56.6 L1047.4 56.2 L1049.0 55.9 L1050.7 55.6 L1052.3 55.3 L1053.9 55.0 L1055.5 54.7 L1057.1 54.4 L1058.7 54.1 L1060.3 53.8 L1061.9 53.5 L1063.5 53.3 L1065.1 53.0 L1066.7 52.8 L1068.3 52.5 L1069.9 52.3 L1071.5 52.0 L1073.1 51.8 L1074.7 51.6 L1076.3 51.4 L1077.9 51.2 L1079.5 51.0 L1081.3 50.7 L1083.2 50.5 L1085.0 50.3 L1086.8 50.1 L1088.7 49.9 L1089.2 49.8" fill="none" stroke="#FF99CC" stroke-width="6.2" stroke-linecap="round" stroke-dasharray="0 12.85"/>
<path d="M301.2 648.3 L302.8 648.2 L304.5 648.1 L306.1 648.0 L307.8 647.9 L309.4 647.8 L311.0 647.7 L312.7 647.6 L314.3 647.5 L315.9 647.4 L317.6 647.3 L319.2 647.2 L320.9 647.1 L322.5 647.0 L324.1 646.8 L325.8 646.7 L327.4 646.6 L329.0 646.5 L330.7 646.4 L332.3 646.3 L333.9 646.2 L335.6 646.1 L337.2 646.0 L338.8 645.9 L340.5 645.8 L342.1 645.7 L343.7 645.6 L345.4 645.5 L347.0 645.4 L348.6 645.3 L350.3 645.2 L351.9 645.1 L353.5 645.0 L355.2 644.9 L356.8 644.8 L358.4 644.7 L360.1 644.6 L361.7 644.5 L363.3 644.4 L365.0 644.3 L366.6 644.2 L368.2 644.1 L369.9 644.0 L371.5 643.9 L373.1 643.8 L374.8 643.7 L376.4 643.6 L378.0 643.5 L379.7 643.4 L381.3 643.3 L382.9 643.2 L384.6 643.1 L386.2 643.0 L387.8 642.9 L389.5 642.8 L391.1 642.6 L392.7 642.5 L394.4 642.4 L396.0 642.3 L397.6 642.2 L399.3 642.1 L400.9 642.0 L402.5 641.9 L404.2 641.8 L405.8 641.7 L407.4 641.6 L409.0 641.5 L410.7 641.4 L412.3 641.3 L413.9 641.2 L415.6 641.1 L417.2 641.0 L418.8 640.9 L420.5 640.8 L422.1 640.7 L423.7 640.5 L425.4 640.4 L427.0 640.3 L428.6 640.2 L430.3 640.1 L431.9 640.0 L433.5 639.9 L435.2 639.8 L436.8 639.7 L438.4 639.6 L440.1 639.5 L441.7 639.4 L443.3 639.2 L445.0 639.1 L446.6 639.0 L448.2 638.9 L449.9 638.8 L451.5 638.7 L453.1 638.6 L454.8 638.5 L456.4 638.4 L458.0 638.2 L459.7 638.1 L461.3 638.0 L462.9 637.9 L464.6 637.8 L466.2 637.7 L467.8 637.6 L469.5 637.4 L471.1 637.3 L472.7 637.2 L474.4 637.1 L476.0 637.0 L477.7 636.9 L479.3 636.7 L480.9 636.6 L482.6 636.5 L484.2 636.4 L485.8 636.3 L487.5 636.1 L489.1 636.0 L490.7 635.9 L492.4 635.8 L494.0 635.7 L495.7 635.5 L497.3 635.4 L498.9 635.3 L500.6 635.1 L502.2 635.0 L503.8 634.9 L505.5 634.7 L507.1 634.6 L508.8 634.5 L510.4 634.3 L512.0 634.2 L513.7 634.0 L515.3 633.9 L516.9 633.7 L518.6 633.6 L520.2 633.4 L521.8 633.2 L523.5 633.1 L525.1 632.9 L526.7 632.7 L528.4 632.6 L530.0 632.4 L531.6 632.2 L533.3 632.0 L534.9 631.8 L536.5 631.6 L538.2 631.4 L539.8 631.2 L541.4 631.0 L543.1 630.8 L544.7 630.5 L546.3 630.3 L547.9 630.1 L549.6 629.9 L551.2 629.6 L552.8 629.4 L554.4 629.1 L556.1 628.8 L557.7 628.6 L559.3 628.3 L560.9 628.0 L562.5 627.7 L564.2 627.5 L565.8 627.2 L567.4 626.8 L569.0 626.5 L570.6 626.2 L572.2 625.8 L573.8 625.5 L575.4 625.1 L577.0 624.7 L578.6 624.3 L580.1 623.9 L581.7 623.5 L583.3 623.1 L584.8 622.6 L586.4 622.1 L587.9 621.6 L589.4 621.1 L590.9 620.5 L592.4 620.0 L593.9 619.4 L595.4 618.8 L596.9 618.1 L598.4 617.5 L599.8 616.8 L601.3 616.1 L602.7 615.4 L604.1 614.6 L605.5 613.8 L606.9 613.0 L608.3 612.2 L609.7 611.4 L611.0 610.5 L612.4 609.6 L613.8 608.8 L615.1 607.9 L616.5 607.0 L617.8 606.0 L619.1 605.1 L620.5 604.2 L621.8 603.2 L623.1 602.3 L624.5 601.3 L625.8 600.4 L627.1 599.4 L628.5 598.5 L629.8 597.5 L631.2 596.6 L632.5 595.6 L633.9 594.7 L635.2 593.7 L636.6 592.8 L637.9 591.9 L639.3 590.9 L640.6 590.0 L642.0 589.1 L643.4 588.2 L644.8 587.3 L646.2 586.4 L647.5 585.5 L648.9 584.6 L650.3 583.7 L651.7 582.9 L653.1 582.0 L654.5 581.1 L655.9 580.3 L657.3 579.4 L658.7 578.5 L660.1 577.7 L661.5 576.8 L662.9 575.9 L664.3 575.1 L665.7 574.2 L667.0 573.3 L668.4 572.4 L669.8 571.5 L671.1 570.6 L672.5 569.7 L673.8 568.8 L675.2 567.9 L676.5 567.0 L677.8 566.0 L679.1 565.0 L680.4 564.1 L681.6 563.1 L682.9 562.1 L684.1 561.0 L685.3 560.0 L686.6 559.0 L687.7 557.9 L688.9 556.8 L690.1 555.7 L691.2 554.6 L692.4 553.4 L693.5 552.3 L694.6 551.1 L695.7 550.0 L696.8 548.8 L697.9 547.6 L699.0 546.4 L700.1 545.2 L701.2 544.0 L702.2 542.8 L703.3 541.6 L704.3 540.3 L705.4 539.1 L706.4 537.8 L707.5 536.6 L708.5 535.3 L709.5 534.1 L710.6 532.8 L711.6 531.6 L712.7 530.3 L713.7 529.0 L714.7 527.8 L715.8 526.5 L716.8 525.2 L717.9 524.0 L718.9 522.7 L719.9 521.4 L721.0 520.2 L722.0 518.9 L723.1 517.7 L724.1 516.4 L725.2 515.1 L726.2 513.8 L727.2 512.6 L728.3 511.3 L729.3 510.0 L730.3 508.7 L731.4 507.5 L732.4 506.2 L733.4 504.9 L734.5 503.6 L735.5 502.3 L736.5 501.0 L737.5 499.7 L738.5 498.5 L739.5 497.2 L740.5 495.9 L741.5 494.6 L742.5 493.2 L743.5 491.9 L744.4 490.6 L745.4 489.3 L746.4 488.0 L747.3 486.7 L748.3 485.3 L749.2 484.0 L750.2 482.7 L751.1 481.3 L752.1 480.0 L753.0 478.6 L753.9 477.3 L754.8 475.9 L755.7 474.6 L756.6 473.2 L757.5 471.9 L758.4 470.5 L759.3 469.1 L760.2 467.8 L761.1 466.4 L762.0 465.0 L762.8 463.6 L763.7 462.3 L764.6 460.9 L765.4 459.5 L766.3 458.1 L767.1 456.7 L768.0 455.3 L768.8 453.9 L769.6 452.5 L770.4 451.1 L771.3 449.7 L772.1 448.3 L772.9 446.9 L773.7 445.5 L774.5 444.0 L775.3 442.6 L776.1 441.2 L776.9 439.8 L777.7 438.4 L778.5 436.9 L779.3 435.5 L780.1 434.1 L780.8 432.6 L781.6 431.2 L782.4 429.7 L783.1 428.3 L783.9 426.9 L784.6 425.4 L785.4 424.0 L786.1 422.5 L786.9 421.1 L787.6 419.6 L788.4 418.2 L789.1 416.7 L789.8 415.2 L790.6 413.8 L791.3 412.3 L792.0 410.8 L792.7 409.4 L793.5 407.9 L794.2 406.4 L794.9 405.0 L795.6 403.5 L796.3 402.0 L797.0 400.5 L797.7 399.1 L798.4 397.6 L799.1 396.1 L799.8 394.6 L800.5 393.1 L801.2 391.6 L801.9 390.2 L802.6 388.7 L803.2 387.2 L803.9 385.7 L804.6 384.2 L805.3 382.7 L805.9 381.2 L806.6 379.7 L807.3 378.2 L808.0 376.7 L808.6 375.2 L809.3 373.7 L810.0 372.2 L810.6 370.7 L811.3 369.2 L811.9 367.7 L812.6 366.2 L813.2 364.7 L813.9 363.2 L814.6 361.7 L815.2 360.2 L815.9 358.7 L816.5 357.2 L817.2 355.7 L817.8 354.2 L818.4 352.7 L819.1 351.2 L819.7 349.6 L820.4 348.1 L821.0 346.6 L821.7 345.1 L822.3 343.6 L822.9 342.1 L823.6 340.6 L824.2 339.1 L824.9 337.5 L825.5 336.0 L826.1 334.5 L826.8 333.0 L827.4 331.5 L828.0 330.0 L828.7 328.5 L829.3 327.0 L830.0 325.4 L830.6 323.9 L831.2 322.4 L831.9 320.9 L832.5 319.4 L833.1 317.9 L833.8 316.4 L834.4 314.8 L835.0 313.3 L835.7 311.8 L836.3 310.3 L836.9 308.8 L837.5 307.3 L838.2 305.8 L838.8 304.3 L839.4 302.7 L840.1 301.2 L840.7 299.7 L841.3 298.2 L842.0 296.7 L842.6 295.2 L843.2 293.7 L843.9 292.1 L844.5 290.6 L845.1 289.1 L845.8 287.6 L846.4 286.1 L847.0 284.6 L847.6 283.1 L848.3 281.6 L848.9 280.1 L849.5 278.5 L850.2 277.0 L850.8 275.5 L851.4 274.0 L852.1 272.5 L852.7 271.0 L853.3 269.5 L854.0 268.0 L854.6 266.5 L855.2 265.0 L855.9 263.5 L856.5 262.0 L857.1 260.5 L857.8 258.9 L858.4 257.4 L859.1 255.9 L859.7 254.4 L860.3 252.9 L861.0 251.4 L861.6 249.9 L862.3 248.4 L862.9 246.9 L863.5 245.4 L864.2 243.9 L864.8 242.4 L865.5 240.9 L866.1 239.4 L866.8 237.9 L867.4 236.4 L868.0 234.9 L868.7 233.4 L869.3 232.0 L870.0 230.5 L870.6 229.0 L871.3 227.5 L871.9 226.0 L872.6 224.5 L873.2 223.0 L873.9 221.5 L874.5 220.0 L875.2 218.5 L875.9 217.0 L876.5 215.6 L877.2 214.1 L877.8 212.6 L878.5 211.1 L879.2 209.6 L879.8 208.1 L880.5 206.7 L881.2 205.2 L881.8 203.7 L882.5 202.2 L883.2 200.7 L883.8 199.3 L884.5 197.8 L885.2 196.3 L885.9 194.8 L886.6 193.4 L887.3 191.9 L888.0 190.4 L888.7 188.9 L889.4 187.5 L890.1 186.0 L890.8 184.5 L891.5 183.0 L892.2 181.6 L892.9 180.1 L893.6 178.6 L894.3 177.2 L895.1 175.7 L895.8 174.2 L896.5 172.7 L897.3 171.3 L898.0 169.8 L898.7 168.3 L899.5 166.9 L900.2 165.4 L901.0 163.9 L901.8 162.5 L902.5 161.0 L903.3 159.5 L904.1 158.1 L904.9 156.6 L905.7 155.1 L906.5 153.7 L907.3 152.2 L908.1 150.8 L908.9 149.3 L909.7 147.9 L910.5 146.4 L911.4 145.0 L912.2 143.5 L913.1 142.1 L913.9 140.7 L914.8 139.2 L915.6 137.8 L916.5 136.4 L917.4 135.0 L918.3 133.6 L919.2 132.2 L920.1 130.8 L921.0 129.5 L922.0 128.1 L922.9 126.7 L923.9 125.4 L924.8 124.0 L925.8 122.7 L926.8 121.4 L927.8 120.1 L928.8 118.8 L929.8 117.5 L930.8 116.2 L931.9 115.0 L932.9 113.7 L934.0 112.5 L935.0 111.3 L936.1 110.1 L937.2 108.9 L938.3 107.7 L939.4 106.5 L940.6 105.4 L941.7 104.3 L942.9 103.2 L944.1 102.1 L945.2 101.0 L946.4 99.9 L947.7 98.9 L948.9 97.8 L950.1 96.8 L951.4 95.8 L952.6 94.9 L953.9 93.9 L955.2 93.0 L956.5 92.0 L957.8 91.1 L959.2 90.2 L960.5 89.3 L961.9 88.5 L963.2 87.6 L964.6 86.8 L966.0 85.9 L967.4 85.1 L968.8 84.3 L970.2 83.6 L971.6 82.8 L973.1 82.0 L974.5 81.3 L976.0 80.6 L977.4 79.9 L978.9 79.2 L980.4 78.5 L981.9 77.8 L983.4 77.1 L984.9 76.5 L986.4 75.8 L987.9 75.2 L989.4 74.6 L990.9 74.0 L992.5 73.4 L994.0 72.8 L995.6 72.2 L997.1 71.7 L998.7 71.1 L1000.3 70.6 L1001.8 70.0 L1003.4 69.5 L1005.0 69.0 L1006.6 68.5 L1008.2 68.0 L1009.8 67.5 L1011.4 67.0 L1013.0 66.6 L1014.6 66.1 L1016.2 65.6 L1017.8 65.2 L1019.4 64.7 L1021.1 64.3 L1022.7 63.9 L1024.3 63.5 L1025.9 63.1 L1027.6 62.6 L1029.2 62.2 L1030.8 61.9 L1032.5 61.5 L1034.1 61.1 L1035.7 60.7 L1037.4 60.3 L1039.0 60.0 L1040.6 59.6 L1042.3 59.2 L1043.9 58.9 L1045.5 58.5 L1047.1 58.2 L1048.8 57.9 L1050.4 57.5 L1052.0 57.2 L1053.7 56.9 L1055.3 56.5 L1056.9 56.2 L1058.5 55.9 L1060.1 55.6 L1061.7 55.2 L1063.3 54.9 L1064.9 54.6 L1066.5 54.3 L1068.1 54.0 L1069.7 53.7 L1071.3 53.4 L1072.9 53.1 L1074.5 52.7 L1076.1 52.4 L1077.9 52.1 L1079.7 51.7 L1081.5 51.4 L1083.3 51.0 L1085.1 50.6 L1086.9 50.3 L1088.7 49.9 L1089.2 49.8" fill="none" stroke="#FF99CC" stroke-width="5.4" stroke-linecap="round" stroke-linejoin="round"/>
<path d="M500.0 641.5 L501.8 641.6 L503.6 641.6 L505.4 641.6 L507.2 641.7 L509.0 641.7 L510.8 641.7 L512.5 641.7 L514.3 641.6 L516.1 641.6 L517.9 641.6 L519.7 641.5 L521.5 641.4 L523.3 641.3 L525.1 641.2 L526.9 641.1 L528.6 641.0 L530.4 640.8 L532.2 640.7 L534.0 640.5 L535.8 640.3 L537.5 640.1 L539.3 639.9 L541.1 639.7 L542.9 639.5 L544.6 639.2 L546.4 639.0 L548.2 638.7 L549.9 638.4 L551.7 638.1 L553.4 637.8 L555.2 637.5 L556.9 637.1 L558.7 636.8 L560.4 636.4 L562.2 636.0 L563.9 635.6 L565.6 635.2 L567.3 634.8 L569.1 634.4 L570.8 633.9 L572.5 633.4 L574.2 633.0 L575.9 632.5 L577.6 632.0 L579.3 631.5 L581.0 630.9 L582.7 630.4 L584.3 629.8 L586.0 629.2 L587.7 628.7 L589.3 628.1 L591.0 627.4 L592.7 626.8 L594.3 626.2 L595.9 625.5 L597.6 624.9 L599.2 624.2 L600.8 623.5 L602.4 622.8 L604.0 622.0 L605.6 621.3 L607.2 620.5 L608.8 619.8 L610.4 619.0 L612.0 618.2 L613.5 617.4 L615.1 616.6 L616.6 615.7 L618.2 614.9 L619.7 614.0 L621.2 613.1 L622.7 612.2 L624.3 611.3 L625.8 610.4 L627.3 609.5 L628.8 608.5 L630.2 607.6 L631.7 606.6 L633.2 605.7 L634.6 604.7 L636.1 603.7 L637.5 602.7 L639.0 601.6 L640.4 600.6 L641.9 599.6 L643.3 598.5 L644.7 597.4 L646.1 596.4 L647.5 595.3 L648.9 594.2 L650.3 593.1 L651.7 592.0 L653.0 590.9 L654.4 589.8 L655.8 588.6 L657.1 587.5 L658.5 586.3 L659.8 585.2 L661.2 584.0 L662.5 582.8 L663.8 581.7 L665.2 580.5 L666.5 579.3 L667.8 578.1 L669.1 576.9 L670.4 575.7 L671.7 574.5 L673.0 573.3 L674.3 572.0 L675.5 570.8 L676.8 569.6 L678.1 568.3 L679.3 567.1 L680.6 565.8 L681.8 564.6 L683.1 563.3 L684.3 562.1 L685.6 560.8 L686.8 559.5 L688.0 558.2 L689.2 557.0 L690.4 555.7 L691.7 554.4 L692.9 553.1 L694.1 551.8 L695.3 550.5 L696.4 549.2 L697.6 547.8 L698.8 546.5 L700.0 545.2 L701.1 543.9 L702.3 542.5 L703.5 541.2 L704.6 539.9 L705.8 538.5 L706.9 537.2 L708.1 535.8 L709.2 534.5 L710.3 533.1 L711.5 531.8 L712.6 530.4 L713.7 529.0 L714.8 527.6 L715.9 526.3 L717.0 524.9 L718.1 523.5 L719.2 522.1 L720.3 520.7 L721.4 519.3 L722.5 517.9 L723.6 516.5 L724.6 515.1 L725.7 513.7 L726.8 512.3 L727.8 510.8 L728.9 509.4 L729.9 508.0 L731.0 506.6 L732.0 505.1 L733.1 503.7 L734.1 502.3 L735.2 500.8 L736.2 499.4 L737.2 497.9 L738.2 496.5 L739.3 495.0 L740.3 493.6 L741.3 492.1 L742.3 490.7 L743.3 489.2 L744.3 487.7 L745.3 486.2 L746.3 484.8 L747.3 483.3 L748.3 481.8 L749.2 480.3 L750.2 478.9 L751.2 477.4 L752.2 475.9 L753.1 474.4 L754.1 472.9 L755.1 471.4 L756.0 469.9 L757.0 468.4 L757.9 466.9 L758.9 465.4 L759.8 463.9 L760.8 462.4 L761.7 460.9 L762.7 459.3 L763.6 457.8 L764.5 456.3 L765.4 454.8 L766.4 453.3 L767.3 451.7 L768.2 450.2 L769.1 448.7 L770.0 447.2 L771.0 445.6 L771.9 444.1 L772.8 442.6 L773.7 441.0 L774.6 439.5 L775.5 437.9 L776.4 436.4 L777.3 434.9 L778.1 433.3 L779.0 431.8 L779.9 430.2 L780.8 428.7 L781.7 427.1 L782.6 425.6 L783.4 424.0 L784.3 422.5 L785.2 420.9 L786.0 419.4 L786.9 417.8 L787.8 416.2 L788.6 414.7 L789.5 413.1 L790.3 411.6 L791.2 410.0 L792.1 408.4 L792.9 406.9 L793.8 405.3 L794.6 403.7 L795.4 402.2 L796.3 400.6 L797.1 399.0 L798.0 397.5 L798.8 395.9 L799.6 394.3 L800.5 392.8 L801.3 391.2 L802.1 389.6 L803.0 388.0 L803.8 386.5 L804.6 384.9 L805.4 383.3 L806.3 381.7 L807.1 380.2 L807.9 378.6 L808.7 377.0 L809.5 375.4 L810.4 373.9 L811.2 372.3 L812.0 370.7 L812.8 369.1 L813.6 367.5 L814.4 366.0 L815.2 364.4 L816.0 362.8 L816.8 361.2 L817.6 359.6 L818.4 358.1 L819.2 356.5 L820.0 354.9 L820.8 353.3 L821.6 351.7 L822.4 350.1 L823.2 348.6 L824.0 347.0 L824.8 345.4 L825.6 343.8 L826.4 342.2 L827.2 340.6 L828.0 339.1 L828.8 337.5 L829.6 335.9 L830.4 334.3 L831.2 332.7 L832.0 331.1 L832.7 329.5 L833.5 327.9 L834.3 326.4 L835.1 324.8 L835.9 323.2 L836.7 321.6 L837.5 320.0 L838.2 318.4 L839.0 316.8 L839.8 315.2 L840.6 313.7 L841.4 312.1 L842.2 310.5 L843.0 308.9 L843.7 307.3 L844.5 305.7 L845.3 304.1 L846.1 302.5 L846.9 301.0 L847.7 299.4 L848.4 297.8 L849.2 296.2 L850.0 294.6 L850.8 293.0 L851.6 291.4 L852.4 289.8 L853.1 288.2 L853.9 286.7 L854.7 285.1 L855.5 283.5 L856.3 281.9 L857.1 280.3 L857.8 278.7 L858.6 277.1 L859.4 275.5 L860.2 274.0 L861.0 272.4 L861.8 270.8 L862.6 269.2 L863.4 267.6 L864.2 266.0 L864.9 264.4 L865.7 262.9 L866.5 261.3 L867.3 259.7 L868.1 258.1 L868.9 256.5 L869.7 254.9 L870.5 253.4 L871.3 251.8 L872.1 250.2 L872.9 248.6 L873.7 247.0 L874.5 245.5 L875.3 243.9 L876.1 242.3 L876.9 240.7 L877.7 239.1 L878.5 237.6 L879.3 236.0 L880.1 234.4 L880.9 232.8 L881.8 231.2 L882.6 229.7 L883.4 228.1 L884.2 226.5 L885.0 224.9 L885.8 223.4 L886.7 221.8 L887.5 220.2 L888.3 218.6 L889.1 217.1 L890.0 215.5 L890.8 213.9 L891.6 212.4 L892.4 210.8 L893.3 209.2 L894.1 207.7 L894.9 206.1 L895.8 204.5 L896.6 203.0 L897.5 201.4 L898.3 199.8 L899.2 198.3 L900.0 196.7 L900.9 195.1 L901.7 193.6 L902.6 192.0 L903.4 190.5 L904.3 188.9 L905.1 187.3 L906.0 185.8 L906.9 184.2 L907.7 182.7 L908.6 181.1 L909.5 179.6 L910.3 178.0 L911.2 176.5 L912.1 174.9 L913.0 173.4 L913.9 171.8 L914.7 170.3 L915.6 168.7 L916.5 167.2 L917.4 165.6 L918.3 164.1 L919.2 162.5 L920.1 161.0 L921.0 159.4 L921.9 157.9 L922.8 156.4 L923.7 154.8 L924.7 153.3 L925.6 151.8 L926.5 150.2 L927.4 148.7 L928.4 147.2 L929.3 145.7 L930.2 144.1 L931.2 142.6 L932.1 141.1 L933.1 139.6 L934.1 138.1 L935.1 136.6 L936.0 135.2 L937.0 133.7 L938.0 132.2 L939.0 130.8 L940.0 129.3 L941.1 127.9 L942.1 126.4 L943.1 125.0 L944.2 123.6 L945.2 122.2 L946.3 120.8 L947.4 119.4 L948.5 118.0 L949.5 116.6 L950.7 115.2 L951.8 113.9 L952.9 112.6 L954.0 111.2 L955.2 109.9 L956.4 108.6 L957.5 107.3 L958.7 106.1 L959.9 104.8 L961.1 103.5 L962.4 102.3 L963.6 101.1 L964.9 99.9 L966.2 98.7 L967.4 97.5 L968.7 96.4 L970.0 95.2 L971.4 94.1 L972.7 93.0 L974.1 91.9 L975.4 90.8 L976.8 89.7 L978.2 88.7 L979.6 87.6 L981.0 86.6 L982.4 85.6 L983.9 84.6 L985.3 83.6 L986.8 82.6 L988.3 81.7 L989.7 80.8 L991.2 79.8 L992.7 78.9 L994.2 78.0 L995.8 77.2 L997.3 76.3 L998.9 75.5 L1000.4 74.6 L1002.0 73.8 L1003.6 73.0 L1005.1 72.2 L1006.7 71.4 L1008.3 70.7 L1010.0 69.9 L1011.6 69.2 L1013.2 68.5 L1014.8 67.8 L1016.5 67.1 L1018.1 66.5 L1019.8 65.8 L1021.5 65.2 L1023.2 64.5 L1024.8 63.9 L1026.5 63.3 L1028.2 62.8 L1029.9 62.2 L1031.7 61.6 L1033.4 61.1 L1035.1 60.6 L1036.8 60.1 L1038.5 59.6 L1040.3 59.1 L1042.0 58.6 L1043.8 58.1 L1045.5 57.7 L1047.3 57.2 L1049.0 56.8 L1050.8 56.4 L1052.5 56.0 L1054.3 55.6 L1056.0 55.2 L1057.8 54.8 L1059.6 54.5 L1061.3 54.1 L1063.1 53.8 L1064.9 53.5 L1066.6 53.1 L1068.4 52.8 L1070.2 52.5 L1071.9 52.2 L1073.7 52.0 L1075.4 51.7 L1077.2 51.4 L1079.0 51.2 L1080.7 50.9 L1082.5 50.7 L1084.2 50.4 L1086.0 50.2 L1087.7 50.0 L1089.2 49.8" fill="none" stroke="#595959" stroke-width="6.2" stroke-linecap="round" stroke-dasharray="0 12.85"/>
<path d="M313.8 619.8 L315.4 619.5 L316.9 619.2 L318.8 618.8 L320.6 618.4 L322.4 618.1 L324.3 617.8 L326.1 617.4 L327.9 617.1 L329.7 616.8 L331.6 616.5 L333.4 616.2 L335.2 615.9 L337.0 615.7 L338.9 615.4 L340.7 615.2 L342.5 614.9 L344.3 614.7 L346.2 614.4 L348.0 614.2 L349.8 614.0 L351.6 613.8 L353.5 613.6 L355.3 613.4 L357.1 613.2 L358.9 613.0 L360.8 612.8 L362.6 612.7 L364.4 612.5 L366.2 612.4 L368.0 612.2 L369.9 612.1 L371.7 611.9 L373.5 611.8 L375.4 611.7 L377.2 611.6 L379.0 611.5 L380.8 611.4 L382.7 611.3 L384.5 611.2 L386.3 611.1 L388.1 611.0 L390.0 610.9 L391.8 610.8 L393.6 610.8 L395.5 610.7 L397.3 610.6 L399.1 610.6 L401.0 610.5 L402.8 610.5 L404.6 610.4 L406.5 610.4 L408.3 610.3 L410.1 610.3 L412.0 610.2 L413.8 610.2 L415.7 610.2 L417.5 610.2 L419.4 610.1 L421.2 610.1 L423.0 610.1 L424.9 610.1 L426.7 610.1 L428.6 610.1 L430.4 610.0 L432.3 610.0 L434.1 610.0 L436.0 610.0 L437.9 610.0 L439.7 610.0 L441.6 610.0 L443.4 610.0 L445.3 610.0 L447.2 610.0 L449.0 610.0 L450.9 610.0 L452.5 610.0 L454.1 610.0 L455.7 610.0 L457.3 610.0 L458.9 610.0 L460.5 610.0 L462.1 610.0 L463.7 610.0 L465.3 610.0 L466.9 610.0 L468.5 610.0 L470.1 610.0 L471.7 610.0 L473.3 610.0 L474.9 609.9 L476.5 609.9 L478.2 609.9 L479.8 609.9 L481.4 609.8 L483.0 609.8 L484.6 609.8 L486.2 609.7 L487.8 609.7 L489.4 609.7 L491.0 609.6 L492.6 609.6 L494.2 609.5 L495.8 609.5 L497.4 609.4 L499.0 609.3 L500.6 609.3 L502.5 609.2 L504.3 609.1 L506.2 609.0 L508.0 608.9 L509.9 608.7 L511.8 608.6 L513.6 608.5 L515.5 608.3 L517.3 608.2 L519.2 608.0 L521.0 607.9 L522.8 607.7 L524.7 607.5 L526.5 607.3 L528.4 607.1 L530.2 606.9 L532.0 606.7 L533.9 606.4 L535.7 606.2 L537.5 605.9 L539.3 605.7 L541.1 605.4 L543.0 605.1 L544.8 604.8 L546.6 604.5 L548.4 604.2 L550.2 603.8 L552.0 603.5 L553.8 603.1 L555.6 602.7 L557.3 602.3 L559.1 601.9 L560.9 601.5 L562.7 601.1 L564.4 600.6 L566.2 600.2 L568.0 599.7 L569.7 599.2 L571.5 598.7 L573.2 598.2 L574.9 597.6 L576.7 597.1 L578.4 596.5 L580.1 595.9 L581.9 595.3 L583.6 594.7 L585.3 594.1 L587.0 593.4 L588.7 592.8 L590.4 592.1 L592.1 591.4 L593.8 590.7 L595.4 590.0 L597.1 589.3 L598.8 588.5 L600.5 587.8 L602.1 587.0 L603.8 586.2 L605.4 585.5 L607.1 584.7 L608.7 583.8 L610.3 583.0 L612.0 582.2 L613.6 581.3 L615.2 580.4 L616.8 579.6 L618.4 578.7 L620.0 577.8 L621.6 576.8 L623.2 575.9 L624.8 575.0 L626.4 574.0 L627.9 573.1 L629.5 572.1 L631.1 571.1 L632.6 570.1 L634.2 569.1 L635.7 568.1 L637.2 567.1 L638.8 566.0 L640.3 565.0 L641.8 563.9 L643.3 562.9 L644.8 561.8 L646.3 560.7 L647.8 559.6 L649.3 558.5 L650.8 557.4 L652.3 556.3 L653.8 555.1 L655.2 554.0 L656.7 552.8 L658.1 551.7 L659.6 550.5 L661.0 549.3 L662.4 548.2 L663.9 547.0 L665.3 545.8 L666.7 544.6 L668.1 543.3 L669.5 542.1 L670.9 540.9 L672.3 539.6 L673.7 538.4 L675.0 537.1 L676.4 535.9 L677.8 534.6 L679.1 533.3 L680.5 532.1 L681.8 530.8 L683.1 529.5 L684.5 528.2 L685.8 526.9 L687.1 525.6 L688.4 524.3 L689.7 522.9 L691.0 521.6 L692.3 520.3 L693.5 518.9 L694.8 517.6 L696.1 516.3 L697.3 514.9 L698.6 513.5 L699.8 512.2 L701.0 510.8 L702.3 509.4 L703.5 508.1 L704.7 506.7 L705.9 505.3 L707.1 503.9 L708.3 502.5 L709.5 501.1 L710.7 499.7 L711.9 498.3 L713.0 496.9 L714.2 495.4 L715.3 494.0 L716.5 492.6 L717.6 491.1 L718.8 489.7 L719.9 488.3 L721.0 486.8 L722.1 485.4 L723.3 483.9 L724.4 482.5 L725.5 481.0 L726.6 479.5 L727.6 478.0 L728.7 476.6 L729.8 475.1 L730.9 473.6 L731.9 472.1 L733.0 470.6 L734.1 469.1 L735.1 467.6 L736.2 466.1 L737.2 464.6 L738.2 463.1 L739.3 461.6 L740.3 460.1 L741.3 458.5 L742.3 457.0 L743.3 455.5 L744.3 454.0 L745.3 452.4 L746.3 450.9 L747.3 449.3 L748.3 447.8 L749.3 446.2 L750.2 444.7 L751.2 443.1 L752.2 441.6 L753.1 440.0 L754.1 438.4 L755.0 436.9 L756.0 435.3 L756.9 433.7 L757.9 432.1 L758.8 430.5 L759.7 429.0 L760.7 427.4 L761.6 425.8 L762.5 424.2 L763.4 422.6 L764.3 421.0 L765.2 419.4 L766.1 417.8 L767.0 416.2 L767.9 414.6 L768.8 413.0 L769.7 411.3 L770.6 409.7 L771.5 408.1 L772.4 406.5 L773.2 404.8 L774.1 403.2 L775.0 401.6 L775.8 400.0 L776.7 398.3 L777.5 396.7 L778.4 395.0 L779.3 393.4 L780.1 391.8 L780.9 390.1 L781.8 388.5 L782.6 386.8 L783.5 385.2 L784.3 383.5 L785.1 381.9 L785.9 380.2 L786.8 378.5 L787.6 376.9 L788.4 375.2 L789.2 373.6 L790.0 371.9 L790.9 370.2 L791.7 368.6 L792.5 366.9 L793.3 365.2 L794.1 363.5 L794.9 361.9 L795.7 360.2 L796.5 358.5 L797.3 356.8 L798.1 355.1 L798.8 353.5 L799.6 351.8 L800.4 350.1 L801.2 348.4 L802.0 346.7 L802.8 345.0 L803.5 343.3 L804.3 341.7 L805.1 340.0 L805.9 338.3 L806.6 336.6 L807.4 334.9 L808.2 333.2 L809.0 331.5 L809.7 329.8 L810.5 328.1 L811.3 326.4 L812.0 324.7 L812.8 323.0 L813.5 321.3 L814.3 319.6 L815.1 317.9 L815.8 316.2 L816.6 314.5 L817.3 312.8 L818.1 311.1 L818.8 309.4 L819.6 307.7 L820.4 306.0 L821.1 304.3 L821.9 302.6 L822.6 300.9 L823.4 299.2 L824.1 297.5 L824.9 295.8 L825.6 294.1 L826.4 292.4 L827.1 290.7 L827.9 289.0 L828.6 287.3 L829.4 285.6 L830.1 283.9 L830.9 282.2 L831.6 280.5 L832.4 278.8 L833.1 277.1 L833.9 275.4 L834.6 273.7 L835.4 272.0 L836.1 270.3 L836.9 268.6 L837.7 266.9 L838.4 265.2 L839.2 263.5 L839.9 261.8 L840.7 260.1 L841.4 258.4 L842.2 256.7 L842.9 255.0 L843.7 253.3 L844.5 251.6 L845.2 249.9 L846.0 248.2 L846.8 246.5 L847.5 244.8 L848.3 243.2 L849.1 241.5 L849.8 239.8 L850.6 238.1 L851.4 236.4 L852.2 234.7 L852.9 233.1 L853.7 231.4 L854.5 229.7 L855.3 228.0 L856.1 226.4 L856.9 224.7 L857.6 223.0 L858.4 221.4 L859.2 219.7 L860.0 218.0 L860.8 216.4 L861.7 214.7 L862.5 213.1 L863.3 211.4 L864.1 209.8 L864.9 208.1 L865.8 206.5 L866.6 204.8 L867.4 203.2 L868.3 201.6 L869.1 199.9 L870.0 198.3 L870.8 196.7 L871.7 195.0 L872.5 193.4 L873.4 191.8 L874.3 190.2 L875.2 188.6 L876.0 187.0 L876.9 185.4 L877.8 183.8 L878.7 182.2 L879.6 180.6 L880.6 179.0 L881.5 177.4 L882.4 175.8 L883.3 174.2 L884.3 172.6 L885.2 171.1 L886.2 169.5 L887.1 167.9 L888.1 166.4 L889.1 164.8 L890.1 163.2 L891.0 161.7 L892.0 160.1 L893.0 158.6 L894.1 157.1 L895.1 155.5 L896.1 154.0 L897.1 152.5 L898.2 151.0 L899.2 149.5 L900.3 148.0 L901.4 146.5 L902.4 145.0 L903.5 143.5 L904.6 142.0 L905.7 140.5 L906.8 139.1 L907.9 137.6 L909.1 136.2 L910.2 134.7 L911.4 133.3 L912.5 131.8 L913.7 130.4 L914.9 129.0 L916.0 127.6 L917.2 126.2 L918.4 124.9 L919.7 123.5 L920.9 122.1 L922.1 120.8 L923.4 119.4 L924.6 118.1 L925.9 116.8 L927.1 115.5 L928.4 114.2 L929.7 112.9 L931.0 111.6 L932.4 110.4 L933.7 109.1 L935.0 107.9 L936.4 106.6 L937.7 105.4 L939.1 104.2 L940.5 103.0 L941.9 101.9 L943.3 100.7 L944.7 99.6 L946.1 98.4 L947.6 97.3 L949.0 96.2 L950.5 95.1 L952.0 94.0 L953.4 93.0 L954.9 91.9 L956.4 90.9 L958.0 89.9 L959.5 88.9 L961.0 87.9 L962.5 86.9 L964.1 85.9 L965.7 85.0 L967.2 84.0 L968.8 83.1 L970.4 82.2 L972.0 81.3 L973.6 80.4 L975.2 79.5 L976.8 78.6 L978.5 77.8 L980.1 77.0 L981.7 76.1 L983.4 75.3 L985.1 74.5 L986.7 73.7 L988.4 73.0 L990.1 72.2 L991.8 71.5 L993.5 70.7 L995.2 70.0 L996.9 69.3 L998.6 68.6 L1000.3 67.9 L1002.1 67.3 L1003.8 66.6 L1005.5 66.0 L1007.3 65.3 L1009.0 64.7 L1010.8 64.1 L1012.5 63.5 L1014.3 63.0 L1016.1 62.4 L1017.8 61.8 L1019.6 61.3 L1021.4 60.8 L1023.2 60.3 L1025.0 59.7 L1026.8 59.3 L1028.6 58.8 L1030.4 58.3 L1032.2 57.9 L1034.0 57.4 L1035.8 57.0 L1037.6 56.6 L1039.5 56.2 L1041.3 55.8 L1043.1 55.4 L1044.9 55.0 L1046.8 54.7 L1048.6 54.3 L1050.4 54.0 L1052.3 53.7 L1054.1 53.4 L1056.0 53.1 L1057.8 52.8 L1059.6 52.5 L1061.5 52.3 L1063.3 52.0 L1065.2 51.8 L1067.0 51.6 L1068.9 51.4 L1070.7 51.2 L1072.6 51.0 L1074.4 50.8 L1076.3 50.6 L1078.1 50.5 L1080.0 50.3 L1081.8 50.2 L1083.7 50.1 L1085.5 50.0 L1087.4 49.9 L1089.2 49.8" fill="none" stroke="#CC33FF" stroke-width="6.2" stroke-linecap="round" stroke-dasharray="0 12.85"/>
<path d="M301.2 628.1 L303.1 628.0 L304.9 627.9 L306.8 627.7 L308.6 627.5 L310.5 627.3 L312.3 627.1 L314.2 626.9 L316.0 626.7 L317.9 626.5 L319.7 626.2 L321.6 626.0 L323.4 625.7 L325.2 625.4 L327.1 625.1 L328.9 624.8 L330.8 624.5 L332.6 624.2 L334.5 623.9 L336.3 623.6 L338.1 623.3 L340.0 623.0 L341.8 622.7 L343.7 622.4 L345.2 622.2 L346.8 621.9 L348.4 621.7 L350.0 621.4 L351.6 621.2 L353.2 621.0 L354.7 620.8 L356.3 620.5 L357.9 620.3 L359.5 620.1 L361.1 619.9 L362.7 619.8 L364.3 619.6 L365.9 619.4 L367.5 619.3 L369.1 619.1 L370.7 619.0 L372.3 618.9 L373.9 618.7 L375.5 618.6 L377.1 618.5 L378.7 618.4 L380.3 618.3 L381.9 618.2 L383.5 618.2 L385.1 618.1 L386.7 618.0 L388.3 618.0 L389.9 617.9 L391.5 617.9 L393.2 617.8 L394.8 617.8 L396.4 617.7 L398.0 617.7 L399.6 617.7 L401.2 617.6 L402.8 617.6 L404.5 617.6 L406.1 617.6 L407.7 617.6 L409.3 617.6 L410.9 617.6 L412.5 617.6 L414.2 617.6 L415.8 617.6 L417.4 617.6 L419.0 617.6 L420.6 617.6 L422.2 617.6 L423.8 617.6 L425.5 617.6 L427.1 617.6 L428.7 617.6 L430.3 617.6 L431.9 617.6 L433.5 617.6 L435.1 617.6 L436.8 617.6 L438.4 617.7 L440.0 617.7 L441.6 617.7 L443.2 617.7 L444.8 617.7 L446.4 617.7 L448.0 617.7 L449.6 617.7 L451.3 617.7 L452.9 617.7 L454.5 617.7 L456.1 617.6 L457.7 617.6 L459.3 617.6 L460.9 617.6 L462.5 617.6 L464.1 617.6 L465.7 617.6 L467.3 617.5 L468.9 617.5 L470.5 617.5 L472.1 617.5 L473.8 617.4 L475.4 617.4 L477.0 617.3 L478.6 617.3 L480.2 617.3 L481.8 617.2 L483.4 617.2 L485.0 617.1 L486.6 617.0 L488.2 617.0 L489.8 616.9 L491.4 616.8 L493.0 616.8 L494.6 616.7 L496.2 616.6 L497.8 616.5 L499.4 616.4 L501.0 616.3 L502.6 616.2 L504.2 616.1 L505.8 616.0 L507.4 615.9 L509.0 615.7 L510.6 615.6 L512.2 615.5 L513.8 615.3 L515.4 615.2 L517.0 615.1 L518.6 614.9 L520.2 614.7 L521.8 614.6 L523.4 614.4 L525.0 614.2 L526.6 614.0 L528.2 613.8 L529.8 613.6 L531.4 613.4 L533.0 613.2 L534.6 613.0 L536.2 612.8 L537.8 612.5 L539.4 612.3 L541.0 612.1 L542.6 611.8 L544.2 611.5 L545.8 611.3 L547.4 611.0 L548.9 610.7 L550.5 610.4 L552.1 610.1 L553.7 609.8 L555.3 609.5 L556.9 609.2 L558.5 608.9 L560.0 608.5 L561.6 608.2 L563.2 607.8 L564.8 607.4 L566.3 607.1 L567.9 606.7 L569.5 606.3 L571.1 605.9 L572.6 605.5 L574.2 605.1 L575.7 604.7 L577.3 604.2 L578.8 603.8 L580.4 603.3 L581.9 602.9 L583.5 602.4 L585.0 601.9 L586.5 601.4 L588.1 600.9 L589.6 600.4 L591.1 599.9 L592.6 599.4 L594.2 598.8 L595.7 598.3 L597.2 597.7 L598.7 597.2 L600.2 596.6 L601.7 596.0 L603.2 595.4 L604.7 594.8 L606.1 594.1 L607.6 593.5 L609.1 592.9 L610.6 592.2 L612.0 591.6 L613.5 590.9 L614.9 590.2 L616.4 589.5 L617.8 588.8 L619.3 588.1 L620.7 587.4 L622.1 586.6 L623.6 585.9 L625.0 585.2 L626.4 584.4 L627.8 583.6 L629.2 582.9 L630.6 582.1 L632.0 581.3 L633.4 580.5 L634.8 579.7 L636.2 578.9 L637.6 578.0 L638.9 577.2 L640.3 576.4 L641.7 575.5 L643.0 574.7 L644.4 573.8 L645.7 572.9 L647.1 572.0 L648.4 571.2 L649.7 570.3 L651.1 569.4 L652.4 568.5 L653.7 567.5 L655.0 566.6 L656.3 565.7 L657.6 564.7 L658.9 563.8 L660.2 562.9 L661.5 561.9 L662.8 560.9 L664.1 560.0 L665.4 559.0 L666.6 558.0 L667.9 557.0 L669.1 556.0 L670.4 555.0 L671.6 554.0 L672.9 553.0 L674.1 552.0 L675.3 551.0 L676.6 549.9 L677.8 548.9 L679.0 547.9 L680.2 546.8 L681.4 545.8 L682.6 544.7 L683.8 543.6 L685.0 542.6 L686.2 541.5 L687.4 540.4 L688.6 539.3 L689.7 538.2 L690.9 537.1 L692.1 536.0 L693.2 534.9 L694.4 533.8 L695.5 532.7 L696.7 531.6 L697.8 530.4 L698.9 529.3 L700.1 528.1 L701.2 527.0 L702.3 525.9 L703.4 524.7 L704.5 523.5 L705.6 522.4 L706.7 521.2 L707.8 520.0 L708.9 518.9 L710.0 517.7 L711.1 516.5 L712.2 515.3 L713.3 514.1 L714.3 512.9 L715.4 511.7 L716.4 510.5 L717.5 509.3 L718.6 508.0 L719.6 506.8 L720.6 505.6 L721.7 504.4 L722.7 503.1 L723.7 501.9 L724.8 500.6 L725.8 499.4 L726.8 498.1 L727.8 496.9 L728.8 495.6 L729.8 494.4 L730.8 493.1 L731.8 491.8 L732.8 490.6 L733.8 489.3 L734.8 488.0 L735.7 486.7 L736.7 485.4 L737.7 484.1 L738.6 482.8 L739.6 481.5 L740.5 480.2 L741.5 478.9 L742.4 477.6 L743.4 476.3 L744.3 475.0 L745.3 473.7 L746.2 472.4 L747.1 471.0 L748.0 469.7 L749.0 468.4 L749.9 467.0 L750.8 465.7 L751.7 464.4 L752.6 463.0 L753.5 461.7 L754.4 460.3 L755.3 459.0 L756.2 457.6 L757.0 456.3 L757.9 454.9 L758.8 453.5 L759.7 452.2 L760.5 450.8 L761.4 449.4 L762.3 448.1 L763.1 446.7 L764.0 445.3 L764.8 444.0 L765.6 442.6 L766.5 441.2 L767.3 439.8 L768.2 438.4 L769.0 437.0 L769.8 435.6 L770.6 434.3 L771.4 432.9 L772.3 431.5 L773.1 430.1 L773.9 428.7 L774.7 427.3 L775.5 425.9 L776.3 424.5 L777.1 423.1 L777.9 421.7 L778.6 420.2 L779.4 418.8 L780.2 417.4 L781.0 416.0 L781.8 414.6 L782.5 413.2 L783.3 411.8 L784.1 410.3 L784.8 408.9 L785.6 407.5 L786.3 406.1 L787.1 404.7 L787.8 403.2 L788.6 401.8 L789.3 400.4 L790.1 398.9 L790.8 397.5 L791.5 396.1 L792.3 394.6 L793.0 393.2 L793.7 391.8 L794.4 390.3 L795.2 388.9 L795.9 387.5 L796.6 386.0 L797.3 384.6 L798.0 383.1 L798.7 381.7 L799.4 380.2 L800.1 378.8 L800.8 377.4 L801.5 375.9 L802.2 374.5 L802.9 373.0 L803.6 371.6 L804.3 370.1 L805.0 368.6 L805.7 367.2 L806.4 365.7 L807.1 364.3 L807.8 362.8 L808.5 361.4 L809.1 359.9 L809.8 358.5 L810.5 357.0 L811.2 355.5 L811.8 354.1 L812.5 352.6 L813.2 351.2 L813.9 349.7 L814.5 348.2 L815.2 346.8 L815.9 345.3 L816.5 343.8 L817.2 342.4 L817.9 340.9 L818.5 339.4 L819.2 338.0 L819.8 336.5 L820.5 335.0 L821.2 333.6 L821.8 332.1 L822.5 330.6 L823.1 329.2 L823.8 327.7 L824.4 326.2 L825.1 324.8 L825.8 323.3 L826.4 321.8 L827.1 320.3 L827.7 318.9 L828.4 317.4 L829.0 315.9 L829.7 314.5 L830.3 313.0 L831.0 311.5 L831.6 310.0 L832.3 308.6 L832.9 307.1 L833.6 305.6 L834.2 304.2 L834.9 302.7 L835.5 301.2 L836.2 299.7 L836.8 298.3 L837.5 296.8 L838.1 295.3 L838.8 293.9 L839.4 292.4 L840.1 290.9 L840.7 289.4 L841.4 288.0 L842.0 286.5 L842.7 285.0 L843.4 283.6 L844.0 282.1 L844.7 280.6 L845.3 279.2 L846.0 277.7 L846.6 276.2 L847.3 274.8 L848.0 273.3 L848.6 271.8 L849.3 270.4 L849.9 268.9 L850.6 267.4 L851.3 266.0 L851.9 264.5 L852.6 263.0 L853.3 261.6 L853.9 260.1 L854.6 258.6 L855.3 257.2 L856.0 255.7 L856.6 254.3 L857.3 252.8 L858.0 251.3 L858.7 249.9 L859.3 248.4 L860.0 247.0 L860.7 245.5 L861.4 244.1 L862.1 242.6 L862.8 241.1 L863.5 239.7 L864.1 238.2 L864.8 236.8 L865.5 235.3 L866.2 233.9 L866.9 232.4 L867.6 231.0 L868.3 229.6 L869.1 228.1 L869.8 226.7 L870.5 225.2 L871.2 223.8 L871.9 222.3 L872.6 220.9 L873.3 219.5 L874.1 218.0 L874.8 216.6 L875.5 215.2 L876.2 213.7 L877.0 212.3 L877.7 210.9 L878.5 209.4 L879.2 208.0 L879.9 206.6 L880.7 205.2 L881.4 203.7 L882.2 202.3 L882.9 200.9 L883.7 199.5 L884.5 198.1 L885.2 196.6 L886.0 195.2 L886.8 193.8 L887.5 192.4 L888.3 191.0 L889.1 189.6 L889.9 188.2 L890.7 186.8 L891.5 185.4 L892.3 184.0 L893.1 182.6 L893.9 181.2 L894.7 179.8 L895.5 178.4 L896.3 177.0 L897.1 175.6 L897.9 174.2 L898.7 172.8 L899.6 171.4 L900.4 170.0 L901.2 168.6 L902.1 167.3 L902.9 165.9 L903.8 164.5 L904.6 163.1 L905.5 161.8 L906.3 160.4 L907.2 159.0 L908.1 157.6 L908.9 156.3 L909.8 154.9 L910.7 153.6 L911.6 152.2 L912.4 150.8 L913.3 149.5 L914.2 148.1 L915.1 146.8 L916.0 145.4 L916.9 144.1 L917.8 142.7 L918.7 141.4 L919.6 140.0 L920.5 138.7 L921.4 137.4 L922.4 136.0 L923.3 134.7 L924.2 133.4 L925.1 132.0 L926.0 130.7 L926.9 129.4 L927.8 128.0 L928.8 126.7 L929.7 125.4 L930.6 124.1 L931.5 122.8 L932.5 121.5 L933.4 120.2 L934.4 118.9 L935.5 117.4 L936.6 115.9 L937.7 114.4 L938.9 113.0 L940.0 111.5 L941.2 110.1 L942.4 108.7 L943.6 107.3 L944.9 105.9 L946.1 104.6 L947.4 103.2 L948.7 101.9 L950.0 100.6 L951.4 99.4 L952.8 98.2 L954.2 97.0 L955.6 95.8 L957.1 94.6 L958.5 93.5 L960.0 92.4 L961.3 91.4 L962.7 90.5 L964.0 89.6 L965.3 88.7 L966.7 87.8 L968.0 87.0 L969.4 86.1 L970.8 85.3 L972.2 84.4 L973.6 83.6 L975.0 82.8 L976.4 82.0 L977.9 81.2 L979.3 80.5 L980.8 79.7 L982.2 78.9 L983.7 78.2 L985.1 77.5 L986.6 76.7 L988.1 76.0 L989.6 75.3 L991.0 74.6 L992.5 73.9 L994.0 73.2 L995.5 72.5 L996.9 71.9 L998.4 71.2 L999.9 70.5 L1001.4 69.9 L1002.9 69.3 L1004.4 68.7 L1005.9 68.1 L1007.4 67.5 L1008.9 66.9 L1010.4 66.4 L1011.9 65.9 L1013.5 65.4 L1015.2 64.8 L1017.0 64.3 L1018.8 63.8 L1020.6 63.3 L1022.4 62.9 L1024.2 62.5 L1026.1 62.1 L1027.9 61.7 L1029.7 61.3 L1031.5 61.0 L1033.4 60.6 L1035.2 60.3 L1037.0 60.0 L1038.9 59.7 L1040.7 59.4 L1042.3 59.2 L1043.9 58.9 L1045.5 58.7 L1047.1 58.4 L1048.7 58.2 L1050.2 58.0 L1051.8 57.8 L1053.4 57.5 L1055.0 57.3 L1056.6 57.0 L1058.2 56.8 L1059.8 56.6 L1061.3 56.3 L1062.9 56.1 L1064.5 55.8 L1066.1 55.5 L1067.7 55.2 L1069.2 54.9 L1070.8 54.6 L1072.4 54.3 L1073.9 54.0 L1075.5 53.6 L1077.1 53.3 L1078.6 52.9 L1080.2 52.5 L1081.7 52.1 L1083.3 51.7 L1084.8 51.2 L1086.4 50.7 L1087.9 50.2 L1089.2 49.8" fill="none" stroke="#CC33FF" stroke-width="5.4" stroke-linecap="round" stroke-linejoin="round"/>
<path d="M301.2 603.7 L302.8 603.3 L304.3 602.9 L305.9 602.5 L307.5 602.2 L309.0 601.8 L310.6 601.5 L312.2 601.1 L314.0 600.7 L315.8 600.4 L317.6 600.0 L319.5 599.7 L321.3 599.3 L323.1 599.0 L324.9 598.7 L326.8 598.4 L328.6 598.1 L330.4 597.9 L332.2 597.6 L334.1 597.4 L335.9 597.1 L337.7 596.9 L339.6 596.7 L341.4 596.5 L343.2 596.3 L345.1 596.1 L346.9 595.9 L348.7 595.7 L350.5 595.6 L352.4 595.4 L354.2 595.3 L356.0 595.1 L357.9 595.0 L359.7 594.9 L361.5 594.8 L363.4 594.7 L365.2 594.6 L367.1 594.5 L368.9 594.4 L370.7 594.4 L372.6 594.3 L374.4 594.3 L376.2 594.2 L378.1 594.2 L379.9 594.1 L381.8 594.1 L383.6 594.1 L385.5 594.1 L387.3 594.0 L389.1 594.0 L391.0 594.0 L392.8 594.0 L394.7 594.0 L396.5 594.1 L398.4 594.1 L400.2 594.1 L402.1 594.1 L403.9 594.1 L405.8 594.2 L407.6 594.2 L409.5 594.2 L411.3 594.3 L413.2 594.3 L415.1 594.4 L416.9 594.4 L418.8 594.5 L420.6 594.5 L422.5 594.6 L424.4 594.7 L426.2 594.7 L428.1 594.8 L429.7 594.8 L431.3 594.9 L432.9 594.9 L434.5 595.0 L436.1 595.1 L437.7 595.1 L439.3 595.2 L440.9 595.2 L442.5 595.3 L444.1 595.3 L445.7 595.4 L447.3 595.4 L448.9 595.5 L450.6 595.5 L452.2 595.6 L453.8 595.6 L455.4 595.7 L457.0 595.7 L458.6 595.8 L460.2 595.8 L461.8 595.9 L463.4 595.9 L465.0 595.9 L466.6 596.0 L468.2 596.0 L469.9 596.0 L471.5 596.0 L473.1 596.1 L474.7 596.1 L476.3 596.1 L477.9 596.1 L479.5 596.1 L481.1 596.1 L482.7 596.1 L484.3 596.1 L485.9 596.1 L487.5 596.0 L489.1 596.0 L490.7 596.0 L492.6 596.0 L494.4 595.9 L496.3 595.9 L498.2 595.8 L500.0 595.7 L501.9 595.6 L503.7 595.6 L505.6 595.5 L507.4 595.4 L509.3 595.2 L511.1 595.1 L513.0 595.0 L514.8 594.8 L516.7 594.7 L518.5 594.5 L520.4 594.3 L522.2 594.1 L524.0 593.9 L525.9 593.7 L527.7 593.5 L529.5 593.3 L531.3 593.0 L533.2 592.8 L535.0 592.5 L536.8 592.2 L538.6 591.9 L540.4 591.6 L542.2 591.3 L544.0 590.9 L545.8 590.6 L547.6 590.2 L549.4 589.8 L551.2 589.4 L553.0 589.0 L554.7 588.6 L556.5 588.1 L558.3 587.7 L560.1 587.2 L561.8 586.7 L563.6 586.2 L565.3 585.7 L567.1 585.1 L568.8 584.6 L570.6 584.0 L572.3 583.4 L574.1 582.8 L575.8 582.2 L577.5 581.6 L579.2 581.0 L580.9 580.3 L582.7 579.7 L584.4 579.0 L586.1 578.3 L587.8 577.6 L589.5 576.9 L591.1 576.1 L592.8 575.4 L594.5 574.6 L596.2 573.8 L597.8 573.0 L599.5 572.2 L601.1 571.4 L602.8 570.6 L604.4 569.8 L606.1 568.9 L607.7 568.1 L609.3 567.2 L610.9 566.3 L612.5 565.4 L614.1 564.5 L615.7 563.6 L617.3 562.6 L618.9 561.7 L620.5 560.7 L622.1 559.7 L623.6 558.7 L625.2 557.8 L626.7 556.7 L628.3 555.7 L629.8 554.7 L631.4 553.7 L632.9 552.6 L634.4 551.5 L635.9 550.5 L637.4 549.4 L638.9 548.3 L640.4 547.2 L641.9 546.1 L643.4 544.9 L644.8 543.8 L646.3 542.7 L647.7 541.5 L649.2 540.3 L650.6 539.1 L652.0 538.0 L653.4 536.8 L654.9 535.6 L656.3 534.3 L657.7 533.1 L659.0 531.9 L660.4 530.6 L661.8 529.4 L663.1 528.1 L664.5 526.8 L665.8 525.6 L667.2 524.3 L668.5 523.0 L669.8 521.7 L671.1 520.4 L672.4 519.0 L673.7 517.7 L675.0 516.4 L676.3 515.0 L677.5 513.7 L678.8 512.3 L680.0 510.9 L681.3 509.5 L682.5 508.2 L683.7 506.8 L684.9 505.4 L686.1 504.0 L687.3 502.5 L688.5 501.1 L689.7 499.7 L690.9 498.2 L692.0 496.8 L693.2 495.4 L694.3 493.9 L695.5 492.4 L696.6 491.0 L697.8 489.5 L698.9 488.0 L700.0 486.5 L701.1 485.1 L702.2 483.6 L703.3 482.1 L704.4 480.6 L705.5 479.0 L706.6 477.5 L707.6 476.0 L708.7 474.5 L709.8 473.0 L710.8 471.4 L711.9 469.9 L712.9 468.3 L714.0 466.8 L715.0 465.2 L716.0 463.7 L717.1 462.1 L718.1 460.6 L719.1 459.0 L720.1 457.4 L721.1 455.9 L722.1 454.3 L723.1 452.7 L724.1 451.1 L725.1 449.6 L726.1 448.0 L727.0 446.4 L728.0 444.8 L729.0 443.2 L730.0 441.6 L730.9 440.0 L731.9 438.4 L732.8 436.8 L733.8 435.2 L734.7 433.6 L735.7 432.0 L736.6 430.4 L737.6 428.8 L738.5 427.2 L739.4 425.6 L740.4 424.0 L741.3 422.4 L742.2 420.8 L743.2 419.2 L744.1 417.6 L745.0 416.0 L745.9 414.3 L746.8 412.7 L747.7 411.1 L748.6 409.5 L749.6 407.9 L750.5 406.3 L751.4 404.6 L752.3 403.0 L753.1 401.4 L754.0 399.8 L754.9 398.2 L755.8 396.5 L756.7 394.9 L757.6 393.3 L758.5 391.7 L759.4 390.0 L760.2 388.4 L761.1 386.8 L762.0 385.2 L762.9 383.5 L763.7 381.9 L764.6 380.3 L765.5 378.6 L766.3 377.0 L767.2 375.4 L768.0 373.7 L768.9 372.1 L769.8 370.5 L770.6 368.8 L771.5 367.2 L772.3 365.6 L773.2 363.9 L774.0 362.3 L774.9 360.6 L775.7 359.0 L776.5 357.4 L777.4 355.7 L778.2 354.1 L779.1 352.4 L779.9 350.8 L780.7 349.1 L781.6 347.5 L782.4 345.9 L783.2 344.2 L784.1 342.6 L784.9 340.9 L785.7 339.3 L786.5 337.6 L787.4 336.0 L788.2 334.3 L789.0 332.7 L789.8 331.0 L790.7 329.4 L791.5 327.7 L792.3 326.1 L793.1 324.4 L793.9 322.7 L794.8 321.1 L795.6 319.4 L796.4 317.8 L797.2 316.1 L798.0 314.5 L798.8 312.8 L799.6 311.1 L800.5 309.5 L801.3 307.8 L802.1 306.2 L802.9 304.5 L803.7 302.9 L804.5 301.2 L805.3 299.5 L806.1 297.9 L806.9 296.2 L807.7 294.5 L808.6 292.9 L809.4 291.2 L810.2 289.6 L811.0 287.9 L811.8 286.2 L812.6 284.6 L813.4 282.9 L814.2 281.2 L815.0 279.6 L815.8 277.9 L816.6 276.2 L817.4 274.6 L818.3 272.9 L819.1 271.2 L819.9 269.6 L820.7 267.9 L821.5 266.3 L822.3 264.6 L823.1 262.9 L823.9 261.3 L824.8 259.6 L825.6 257.9 L826.4 256.3 L827.2 254.6 L828.0 252.9 L828.8 251.3 L829.7 249.6 L830.5 247.9 L831.3 246.3 L832.1 244.6 L833.0 242.9 L833.8 241.3 L834.6 239.6 L835.4 238.0 L836.3 236.3 L837.1 234.6 L837.9 233.0 L838.8 231.3 L839.6 229.7 L840.4 228.0 L841.3 226.3 L842.1 224.7 L843.0 223.0 L843.8 221.4 L844.7 219.7 L845.5 218.0 L846.4 216.4 L847.2 214.7 L848.1 213.1 L848.9 211.4 L849.8 209.8 L850.6 208.1 L851.5 206.5 L852.4 204.8 L853.2 203.2 L854.1 201.5 L855.0 199.9 L855.7 198.4 L856.5 197.0 L857.2 195.6 L858.0 194.2 L858.8 192.8 L859.5 191.4 L860.3 190.0 L861.0 188.6 L861.8 187.2 L862.6 185.8 L863.3 184.3 L864.1 182.9 L864.9 181.5 L865.7 180.1 L866.5 178.7 L867.2 177.3 L868.0 175.9 L868.8 174.5 L869.6 173.2 L870.4 171.8 L871.2 170.4 L872.0 169.0 L872.8 167.6 L873.7 166.2 L874.6 164.6 L875.6 163.0 L876.5 161.4 L877.5 159.9 L878.5 158.3 L879.5 156.7 L880.5 155.1 L881.5 153.6 L882.5 152.0 L883.5 150.5 L884.6 148.9 L885.6 147.4 L886.6 145.9 L887.7 144.4 L888.8 142.8 L889.8 141.3 L890.9 139.9 L892.0 138.4 L893.1 136.9 L894.2 135.4 L895.4 134.0 L896.5 132.5 L897.6 131.1 L898.8 129.7 L900.0 128.3 L901.1 126.9 L902.3 125.5 L903.5 124.1 L904.8 122.7 L906.0 121.4 L907.2 120.0 L908.5 118.7 L909.7 117.4 L911.0 116.1 L912.3 114.8 L913.6 113.5 L914.9 112.2 L916.2 111.0 L917.5 109.7 L918.8 108.5 L920.2 107.3 L921.6 106.1 L922.9 104.9 L924.3 103.7 L925.7 102.5 L927.1 101.4 L928.5 100.2 L929.9 99.1 L931.4 98.0 L932.8 96.9 L934.3 95.8 L935.7 94.7 L937.2 93.7 L938.7 92.6 L940.2 91.6 L941.7 90.5 L943.2 89.5 L944.7 88.6 L946.3 87.6 L947.8 86.6 L949.4 85.7 L950.9 84.7 L952.5 83.8 L954.1 82.9 L955.7 82.0 L957.3 81.2 L958.9 80.3 L960.5 79.5 L962.2 78.6 L963.8 77.8 L965.5 77.0 L967.1 76.2 L968.8 75.5 L970.5 74.7 L972.2 74.0 L973.9 73.3 L975.6 72.6 L977.3 71.9 L979.0 71.2 L980.8 70.6 L982.5 69.9 L984.3 69.3 L986.0 68.7 L987.8 68.1 L989.3 67.6 L990.8 67.1 L992.4 66.6 L993.9 66.1 L995.4 65.6 L997.0 65.2 L998.5 64.7 L1000.1 64.3 L1001.6 63.9 L1003.2 63.5 L1004.8 63.0 L1006.3 62.6 L1007.9 62.2 L1009.5 61.9 L1011.0 61.5 L1012.6 61.1 L1014.2 60.7 L1015.8 60.4 L1017.4 60.0 L1018.9 59.7 L1020.5 59.4 L1022.1 59.0 L1023.7 58.7 L1025.3 58.4 L1026.9 58.1 L1028.5 57.8 L1030.1 57.5 L1031.7 57.2 L1033.3 56.9 L1034.9 56.7 L1036.5 56.4 L1038.1 56.1 L1039.7 55.9 L1041.3 55.6 L1042.9 55.4 L1044.5 55.1 L1046.1 54.9 L1047.7 54.7 L1049.3 54.4 L1050.9 54.2 L1052.5 54.0 L1054.0 53.8 L1055.6 53.6 L1057.2 53.4 L1058.8 53.2 L1060.7 52.9 L1062.5 52.7 L1064.4 52.5 L1066.2 52.3 L1068.0 52.1 L1069.9 51.8 L1071.7 51.6 L1073.5 51.4 L1075.3 51.2 L1077.2 51.0 L1079.0 50.9 L1080.8 50.7 L1082.6 50.5 L1084.4 50.3 L1086.2 50.1 L1087.9 49.9 L1089.2 49.8" fill="none" stroke="#990099" stroke-width="5.4" stroke-linecap="round" stroke-linejoin="round"/>
<path d="M311.0 593.2 L312.8 593.0 L314.7 592.7 L316.5 592.5 L318.3 592.3 L320.2 592.1 L322.0 591.9 L323.8 591.7 L325.6 591.5 L327.5 591.3 L329.3 591.1 L331.1 591.0 L332.9 590.8 L334.8 590.7 L336.6 590.5 L338.4 590.4 L340.2 590.3 L342.0 590.1 L343.8 590.0 L345.7 589.9 L347.5 589.8 L349.3 589.7 L351.1 589.6 L352.9 589.5 L354.7 589.4 L356.5 589.3 L358.4 589.2 L360.2 589.2 L362.0 589.1 L363.8 589.0 L365.6 589.0 L367.4 588.9 L369.2 588.9 L371.0 588.8 L372.8 588.8 L374.6 588.8 L376.4 588.7 L378.3 588.7 L380.1 588.7 L381.9 588.7 L383.7 588.6 L385.5 588.6 L387.3 588.6 L389.1 588.6 L390.9 588.6 L392.7 588.6 L394.5 588.6 L396.3 588.6 L398.1 588.6 L399.9 588.6 L401.8 588.6 L403.6 588.6 L405.4 588.7 L407.2 588.7 L409.0 588.7 L410.8 588.7 L412.6 588.7 L414.4 588.7 L416.2 588.8 L418.0 588.8 L419.9 588.8 L421.7 588.8 L423.5 588.9 L425.3 588.9 L427.1 588.9 L428.9 588.9 L430.7 589.0 L432.6 589.0 L434.4 589.0 L436.2 589.1 L438.0 589.1 L439.8 589.1 L441.7 589.1 L443.5 589.2 L445.3 589.2 L447.1 589.2 L449.0 589.2 L450.8 589.3 L452.6 589.3 L454.4 589.3 L456.3 589.3 L458.1 589.4 L459.9 589.4 L461.8 589.4 L463.6 589.4 L465.4 589.4 L467.3 589.4 L469.1 589.4 L471.0 589.4 L472.8 589.4 L474.6 589.4 L476.5 589.4 L478.3 589.4 L480.2 589.4 L482.0 589.4 L483.9 589.4 L485.7 589.3 L487.6 589.3 L489.4 589.3 L491.3 589.3 L493.2 589.2 L495.0 589.2 L496.9 589.1 L498.7 589.1 L500.6 589.0 L502.4 588.9 L504.3 588.9 L506.1 588.8 L508.0 588.7 L509.8 588.6 L511.7 588.5 L513.5 588.4 L515.4 588.3 L517.2 588.2 L519.1 588.0 L520.9 587.9 L522.8 587.7 L524.6 587.6 L526.4 587.4 L528.3 587.2 L530.1 587.0 L531.9 586.8 L533.8 586.6 L535.6 586.4 L537.4 586.2 L539.2 585.9 L541.0 585.7 L542.8 585.4 L544.7 585.2 L546.5 584.9 L548.3 584.6 L550.0 584.3 L551.8 583.9 L553.6 583.6 L555.4 583.2 L557.2 582.9 L559.0 582.5 L560.7 582.1 L562.5 581.7 L564.2 581.3 L566.0 580.8 L567.7 580.4 L569.5 579.9 L571.2 579.4 L572.9 578.9 L574.6 578.4 L576.3 577.9 L578.1 577.3 L579.8 576.7 L581.4 576.2 L583.1 575.6 L584.8 574.9 L586.5 574.3 L588.1 573.7 L589.8 573.0 L591.5 572.3 L593.1 571.6 L594.7 570.9 L596.4 570.2 L598.0 569.4 L599.6 568.6 L601.2 567.9 L602.8 567.1 L604.4 566.3 L606.0 565.4 L607.6 564.6 L609.2 563.8 L610.7 562.9 L612.3 562.0 L613.9 561.1 L615.4 560.2 L616.9 559.3 L618.5 558.3 L620.0 557.4 L621.5 556.4 L623.0 555.5 L624.6 554.5 L626.1 553.5 L627.6 552.5 L629.0 551.4 L630.5 550.4 L632.0 549.3 L633.5 548.3 L634.9 547.2 L636.4 546.1 L637.8 545.0 L639.3 543.9 L640.7 542.8 L642.2 541.7 L643.6 540.5 L645.0 539.4 L646.4 538.2 L647.8 537.0 L649.2 535.9 L650.6 534.7 L652.0 533.5 L653.4 532.3 L654.8 531.0 L656.1 529.8 L657.5 528.6 L658.8 527.3 L660.2 526.1 L661.5 524.8 L662.9 523.5 L664.2 522.2 L665.5 520.9 L666.8 519.6 L668.1 518.3 L669.4 517.0 L670.7 515.7 L672.0 514.4 L673.3 513.0 L674.6 511.7 L675.9 510.3 L677.1 509.0 L678.4 507.6 L679.7 506.2 L680.9 504.8 L682.2 503.5 L683.4 502.1 L684.6 500.7 L685.8 499.3 L687.1 497.9 L688.3 496.5 L689.5 495.0 L690.7 493.6 L691.9 492.2 L693.1 490.7 L694.3 489.3 L695.4 487.9 L696.6 486.4 L697.8 485.0 L698.9 483.5 L700.1 482.1 L701.2 480.6 L702.4 479.1 L703.5 477.7 L704.6 476.2 L705.8 474.7 L706.9 473.2 L708.0 471.8 L709.1 470.3 L710.2 468.8 L711.3 467.3 L712.4 465.8 L713.5 464.3 L714.5 462.8 L715.6 461.3 L716.7 459.8 L717.7 458.3 L718.8 456.8 L719.8 455.3 L720.9 453.8 L721.9 452.3 L723.0 450.8 L724.0 449.3 L725.0 447.8 L726.0 446.3 L727.0 444.8 L728.1 443.3 L729.1 441.8 L730.1 440.3 L731.0 438.8 L732.0 437.2 L733.0 435.7 L734.0 434.2 L735.0 432.7 L736.0 431.1 L736.9 429.6 L737.9 428.1 L738.9 426.6 L739.8 425.0 L740.8 423.5 L741.7 422.0 L742.7 420.4 L743.6 418.9 L744.6 417.3 L745.5 415.8 L746.4 414.3 L747.4 412.7 L748.3 411.2 L749.2 409.6 L750.1 408.1 L751.1 406.5 L752.0 404.9 L752.9 403.4 L753.8 401.8 L754.7 400.3 L755.6 398.7 L756.5 397.1 L757.4 395.5 L758.4 394.0 L759.3 392.4 L760.2 390.8 L761.1 389.2 L761.9 387.7 L762.8 386.1 L763.7 384.5 L764.6 382.9 L765.5 381.3 L766.4 379.7 L767.3 378.1 L768.2 376.5 L769.0 374.9 L769.9 373.3 L770.8 371.7 L771.7 370.1 L772.6 368.5 L773.4 366.9 L774.3 365.3 L775.2 363.7 L776.0 362.1 L776.9 360.5 L777.8 358.9 L778.6 357.3 L779.5 355.7 L780.3 354.1 L781.2 352.4 L782.0 350.8 L782.9 349.2 L783.7 347.6 L784.6 346.0 L785.4 344.4 L786.3 342.7 L787.1 341.1 L788.0 339.5 L788.8 337.9 L789.7 336.2 L790.5 334.6 L791.3 333.0 L792.2 331.4 L793.0 329.8 L793.8 328.1 L794.7 326.5 L795.5 324.9 L796.3 323.3 L797.2 321.6 L798.0 320.0 L798.8 318.4 L799.7 316.7 L800.5 315.1 L801.3 313.5 L802.1 311.9 L802.9 310.2 L803.8 308.6 L804.6 307.0 L805.4 305.3 L806.2 303.7 L807.0 302.1 L807.9 300.5 L808.7 298.8 L809.5 297.2 L810.3 295.6 L811.1 293.9 L811.9 292.3 L812.7 290.7 L813.5 289.0 L814.4 287.4 L815.2 285.8 L816.0 284.1 L816.8 282.5 L817.6 280.9 L818.4 279.2 L819.2 277.6 L820.0 276.0 L820.8 274.3 L821.6 272.7 L822.5 271.1 L823.3 269.4 L824.1 267.8 L824.9 266.2 L825.7 264.5 L826.5 262.9 L827.3 261.3 L828.1 259.6 L828.9 258.0 L829.7 256.4 L830.5 254.7 L831.3 253.1 L832.1 251.5 L833.0 249.8 L833.8 248.2 L834.6 246.6 L835.4 244.9 L836.2 243.3 L837.0 241.7 L837.8 240.0 L838.6 238.4 L839.4 236.8 L840.2 235.1 L841.1 233.5 L841.9 231.9 L842.7 230.2 L843.5 228.6 L844.3 227.0 L845.1 225.3 L845.9 223.7 L846.8 222.1 L847.6 220.4 L848.4 218.8 L849.2 217.2 L850.0 215.6 L850.9 213.9 L851.7 212.3 L852.5 210.7 L853.3 209.1 L854.2 207.4 L855.0 205.8 L855.8 204.2 L856.7 202.6 L857.5 200.9 L858.3 199.3 L859.2 197.7 L860.0 196.1 L860.9 194.5 L861.7 192.8 L862.6 191.2 L863.5 189.6 L864.3 188.0 L865.2 186.4 L866.1 184.8 L866.9 183.2 L867.8 181.6 L868.7 180.0 L869.6 178.4 L870.5 176.8 L871.4 175.2 L872.3 173.6 L873.2 172.0 L874.1 170.4 L875.1 168.8 L876.0 167.2 L876.9 165.7 L877.9 164.1 L878.8 162.5 L879.8 160.9 L880.7 159.4 L881.7 157.8 L882.7 156.2 L883.6 154.7 L884.6 153.1 L885.6 151.6 L886.6 150.0 L887.6 148.5 L888.7 146.9 L889.7 145.4 L890.7 143.9 L891.8 142.4 L892.8 140.9 L893.9 139.4 L895.0 137.9 L896.0 136.4 L897.1 134.9 L898.2 133.4 L899.3 132.0 L900.5 130.5 L901.6 129.1 L902.7 127.6 L903.9 126.2 L905.0 124.8 L906.2 123.4 L907.4 122.0 L908.6 120.6 L909.8 119.3 L911.0 117.9 L912.2 116.6 L913.4 115.2 L914.7 113.9 L915.9 112.6 L917.2 111.3 L918.5 110.1 L919.8 108.8 L921.1 107.6 L922.4 106.3 L923.7 105.1 L925.1 103.9 L926.4 102.7 L927.8 101.6 L929.2 100.4 L930.6 99.3 L932.0 98.2 L933.4 97.1 L934.9 96.0 L936.3 95.0 L937.8 93.9 L939.2 92.9 L940.7 91.9 L942.2 90.9 L943.7 89.9 L945.2 89.0 L946.8 88.0 L948.3 87.1 L949.9 86.2 L951.4 85.3 L953.0 84.4 L954.6 83.5 L956.2 82.7 L957.8 81.8 L959.4 81.0 L961.0 80.2 L962.6 79.4 L964.3 78.6 L965.9 77.8 L967.6 77.1 L969.2 76.3 L970.9 75.6 L972.6 74.9 L974.3 74.2 L976.0 73.5 L977.7 72.8 L979.4 72.2 L981.1 71.5 L982.8 70.9 L984.5 70.3 L986.3 69.6 L988.0 69.0 L989.7 68.5 L991.5 67.9 L993.2 67.3 L995.0 66.8 L996.8 66.2 L998.5 65.7 L1000.3 65.2 L1002.1 64.6 L1003.9 64.1 L1005.7 63.7 L1007.5 63.2 L1009.3 62.7 L1011.1 62.2 L1012.9 61.8 L1014.7 61.4 L1016.5 60.9 L1018.3 60.5 L1020.1 60.1 L1021.9 59.7 L1023.7 59.3 L1025.6 58.9 L1027.4 58.5 L1029.2 58.2 L1031.0 57.8 L1032.8 57.5 L1034.7 57.1 L1036.5 56.8 L1038.3 56.5 L1040.1 56.1 L1042.0 55.8 L1043.8 55.5 L1045.6 55.2 L1047.4 54.9 L1049.3 54.6 L1051.1 54.4 L1052.9 54.1 L1054.7 53.8 L1056.5 53.6 L1058.3 53.3 L1060.2 53.1 L1062.0 52.8 L1063.8 52.6 L1065.6 52.4 L1067.4 52.2 L1069.2 51.9 L1071.0 51.7 L1072.8 51.5 L1074.6 51.3 L1076.3 51.1 L1078.1 50.9 L1079.9 50.7 L1081.7 50.6 L1083.4 50.4 L1085.2 50.2 L1086.9 50.0 L1088.7 49.9 L1089.2 49.8" fill="none" stroke="#990099" stroke-width="6.2" stroke-linecap="round" stroke-dasharray="0 12.85"/>
<path d="M308.2 496.6 L309.8 496.2 L311.4 495.7 L313.0 495.3 L314.6 494.9 L316.1 494.5 L317.7 494.1 L319.3 493.6 L320.9 493.2 L322.5 492.8 L324.1 492.4 L325.7 492.1 L327.3 491.7 L328.9 491.3 L330.5 490.9 L332.1 490.5 L333.7 490.2 L335.3 489.8 L336.9 489.4 L338.5 489.1 L340.1 488.7 L341.7 488.4 L343.3 488.0 L345.0 487.7 L346.6 487.3 L348.2 487.0 L349.8 486.6 L351.4 486.3 L353.0 486.0 L354.7 485.6 L356.3 485.3 L357.9 485.0 L359.5 484.7 L361.1 484.3 L362.8 484.0 L364.4 483.7 L366.0 483.4 L367.6 483.1 L369.3 482.8 L370.9 482.5 L372.5 482.1 L374.1 481.8 L375.8 481.5 L377.4 481.2 L379.0 480.9 L380.7 480.6 L382.3 480.3 L383.9 480.0 L385.5 479.7 L387.2 479.4 L388.8 479.1 L390.4 478.8 L392.1 478.5 L393.7 478.2 L395.3 477.9 L396.9 477.6 L398.6 477.3 L400.2 477.0 L401.8 476.8 L403.5 476.5 L405.1 476.2 L406.7 475.9 L408.4 475.6 L410.0 475.3 L411.6 475.0 L413.2 474.7 L414.9 474.4 L416.5 474.1 L418.1 473.8 L419.7 473.4 L421.4 473.1 L423.0 472.8 L424.6 472.5 L426.2 472.2 L427.9 471.9 L429.5 471.6 L431.1 471.3 L432.7 471.0 L434.3 470.6 L436.0 470.3 L437.6 470.0 L439.2 469.7 L440.8 469.3 L442.4 469.0 L444.0 468.7 L445.7 468.3 L447.3 468.0 L448.9 467.6 L450.5 467.3 L452.1 467.0 L453.7 466.6 L455.3 466.2 L456.9 465.9 L458.5 465.5 L460.1 465.2 L461.7 464.8 L463.3 464.4 L464.9 464.0 L466.5 463.7 L468.1 463.3 L469.7 462.9 L471.3 462.5 L472.9 462.1 L474.5 461.7 L476.1 461.3 L477.6 460.9 L479.2 460.5 L480.8 460.0 L482.4 459.6 L484.0 459.2 L485.5 458.7 L487.1 458.3 L488.7 457.9 L490.2 457.4 L491.8 456.9 L493.4 456.5 L494.9 456.0 L496.5 455.5 L498.1 455.1 L499.6 454.6 L501.2 454.1 L502.7 453.6 L504.3 453.1 L505.8 452.6 L507.3 452.1 L508.9 451.5 L510.4 451.0 L512.0 450.5 L513.5 449.9 L515.0 449.4 L516.6 448.8 L518.1 448.3 L519.6 447.7 L521.1 447.1 L522.6 446.5 L524.2 445.9 L525.7 445.3 L527.2 444.7 L528.7 444.1 L530.2 443.5 L531.7 442.8 L533.2 442.2 L534.7 441.6 L536.2 440.9 L537.6 440.2 L539.1 439.6 L540.6 438.9 L542.1 438.2 L543.6 437.5 L545.0 436.8 L546.5 436.1 L548.0 435.3 L549.4 434.6 L550.9 433.9 L552.3 433.1 L553.8 432.4 L555.2 431.6 L556.7 430.8 L558.1 430.0 L559.5 429.2 L561.0 428.4 L562.4 427.6 L563.8 426.8 L565.3 426.0 L566.7 425.1 L568.1 424.3 L569.5 423.4 L570.9 422.6 L572.3 421.7 L573.7 420.8 L575.1 419.9 L576.5 419.0 L577.9 418.1 L579.3 417.2 L580.7 416.3 L582.1 415.4 L583.4 414.5 L584.8 413.6 L586.2 412.6 L587.6 411.7 L588.9 410.7 L590.3 409.8 L591.6 408.8 L593.0 407.9 L594.3 406.9 L595.7 405.9 L597.0 404.9 L598.4 404.0 L599.7 403.0 L601.0 402.0 L602.4 401.0 L603.7 400.0 L605.0 399.0 L606.3 398.0 L607.6 397.0 L608.9 396.0 L610.3 394.9 L611.6 393.9 L612.9 392.9 L614.1 391.9 L615.4 390.8 L616.7 389.8 L618.0 388.8 L619.3 387.7 L620.6 386.7 L621.8 385.6 L623.1 384.6 L624.4 383.6 L625.6 382.5 L626.9 381.5 L628.1 380.4 L629.4 379.3 L630.6 378.3 L631.9 377.2 L633.1 376.1 L634.3 375.1 L635.6 374.0 L636.8 372.9 L638.0 371.9 L639.2 370.8 L640.5 369.7 L641.7 368.6 L642.9 367.5 L644.1 366.4 L645.3 365.3 L646.5 364.2 L647.7 363.1 L648.9 362.0 L650.1 360.9 L651.3 359.8 L652.5 358.7 L653.6 357.6 L654.8 356.4 L656.0 355.3 L657.2 354.2 L658.3 353.0 L659.5 351.9 L660.7 350.8 L661.8 349.6 L663.0 348.5 L664.1 347.3 L665.3 346.2 L666.4 345.0 L667.6 343.8 L668.7 342.7 L669.9 341.5 L671.0 340.3 L672.2 339.2 L673.3 338.0 L674.4 336.8 L675.6 335.6 L676.7 334.5 L677.8 333.3 L679.0 332.1 L680.1 330.9 L681.2 329.7 L682.3 328.5 L683.5 327.3 L684.6 326.1 L685.7 324.9 L686.8 323.7 L687.9 322.5 L689.0 321.3 L690.1 320.1 L691.2 318.9 L692.4 317.7 L693.5 316.4 L694.6 315.2 L695.7 314.0 L696.8 312.8 L697.9 311.6 L699.0 310.3 L700.1 309.1 L701.2 307.9 L702.3 306.7 L703.4 305.4 L704.5 304.2 L705.6 303.0 L706.7 301.8 L707.7 300.5 L708.8 299.3 L709.9 298.1 L711.0 296.8 L712.1 295.6 L713.2 294.3 L714.3 293.1 L715.4 291.9 L716.5 290.6 L717.6 289.4 L718.7 288.2 L719.8 286.9 L720.8 285.7 L721.9 284.4 L723.0 283.2 L724.1 282.0 L725.2 280.7 L726.3 279.5 L727.4 278.2 L728.5 277.0 L729.6 275.8 L730.7 274.5 L731.8 273.3 L732.8 272.0 L733.9 270.8 L735.0 269.6 L736.1 268.3 L737.2 267.1 L738.3 265.9 L739.4 264.6 L740.5 263.4 L741.6 262.1 L742.7 260.9 L743.8 259.7 L744.9 258.4 L746.0 257.2 L747.1 256.0 L748.2 254.7 L749.3 253.5 L750.4 252.3 L751.5 251.0 L752.6 249.8 L753.7 248.6 L754.8 247.3 L755.9 246.1 L757.0 244.9 L758.1 243.7 L759.2 242.4 L760.3 241.2 L761.4 240.0 L762.6 238.8 L763.7 237.5 L764.8 236.3 L765.9 235.1 L767.0 233.9 L768.1 232.6 L769.2 231.4 L770.3 230.2 L771.5 229.0 L772.6 227.8 L773.7 226.5 L774.8 225.3 L775.9 224.1 L777.1 222.9 L778.2 221.7 L779.3 220.5 L780.4 219.3 L781.5 218.0 L782.7 216.8 L783.8 215.6 L784.9 214.4 L786.1 213.2 L787.2 212.0 L788.3 210.8 L789.4 209.6 L790.6 208.4 L791.7 207.2 L792.8 206.0 L794.0 204.8 L795.1 203.6 L796.3 202.4 L797.4 201.2 L798.5 200.0 L799.7 198.8 L800.8 197.6 L802.0 196.4 L803.1 195.3 L804.3 194.1 L805.4 192.9 L806.6 191.7 L807.7 190.5 L808.9 189.3 L810.0 188.2 L811.2 187.0 L812.3 185.8 L813.5 184.6 L814.6 183.4 L815.8 182.3 L817.0 181.1 L818.1 179.9 L819.3 178.8 L820.4 177.6 L821.6 176.4 L822.8 175.3 L824.0 174.1 L825.1 172.9 L826.3 171.8 L827.5 170.6 L828.7 169.5 L829.8 168.3 L831.0 167.2 L832.2 166.0 L833.4 164.9 L834.6 163.7 L835.7 162.6 L836.9 161.4 L838.1 160.3 L839.3 159.2 L840.5 158.0 L841.7 156.9 L842.9 155.7 L844.1 154.6 L845.3 153.5 L846.5 152.4 L847.7 151.2 L848.9 150.1 L850.1 149.0 L851.3 147.9 L852.5 146.7 L853.7 145.6 L854.9 144.5 L856.2 143.4 L857.4 142.3 L858.6 141.2 L859.8 140.1 L861.0 139.0 L862.3 137.9 L863.5 136.8 L864.7 135.7 L865.9 134.6 L867.2 133.5 L868.4 132.4 L869.6 131.3 L870.9 130.2 L872.1 129.1 L873.4 128.1 L874.6 127.0 L875.9 125.9 L877.1 124.8 L878.4 123.7 L879.6 122.7 L880.9 121.6 L882.1 120.5 L883.4 119.5 L884.6 118.4 L885.9 117.4 L887.2 116.3 L888.4 115.3 L889.7 114.2 L891.0 113.2 L892.2 112.1 L893.5 111.1 L894.8 110.0 L896.1 109.0 L897.4 108.0 L898.7 106.9 L899.9 105.9 L901.2 104.9 L902.5 103.8 L903.8 102.8 L905.1 101.8 L906.4 100.8 L907.7 99.8 L909.0 98.8 L910.3 97.7 L911.6 96.7 L912.9 95.7 L914.3 94.7 L915.6 93.7 L916.9 92.8 L918.2 91.8 L919.6 90.8 L920.9 89.8 L922.2 88.9 L923.6 87.9 L924.9 87.0 L926.3 86.0 L927.7 85.1 L929.0 84.2 L930.4 83.2 L931.8 82.3 L933.2 81.4 L934.5 80.6 L935.9 79.7 L937.3 78.8 L938.8 78.0 L940.2 77.1 L941.6 76.3 L943.0 75.5 L944.5 74.7 L945.9 73.9 L947.3 73.1 L948.8 72.4 L950.3 71.6 L951.7 70.9 L953.2 70.2 L954.7 69.5 L956.2 68.8 L957.7 68.1 L959.2 67.5 L960.8 66.8 L962.3 66.2 L963.9 65.6 L965.4 65.1 L967.0 64.5 L968.5 64.0 L970.1 63.4 L971.7 62.9 L973.3 62.5 L974.9 62.0 L976.5 61.5 L978.1 61.1 L979.7 60.7 L981.3 60.3 L983.0 59.9 L984.6 59.5 L986.2 59.1 L987.9 58.8 L989.5 58.4 L991.2 58.1 L992.8 57.8 L994.5 57.5 L996.1 57.2 L997.8 56.9 L999.4 56.6 L1001.1 56.4 L1002.8 56.1 L1004.4 55.9 L1006.1 55.6 L1007.7 55.4 L1009.4 55.2 L1011.1 55.0 L1012.7 54.8 L1014.4 54.6 L1016.1 54.4 L1017.7 54.2 L1019.4 54.1 L1021.0 53.9 L1022.7 53.8 L1024.4 53.6 L1026.0 53.5 L1027.7 53.3 L1029.3 53.2 L1031.0 53.0 L1032.7 52.9 L1034.3 52.8 L1036.0 52.7 L1037.6 52.5 L1039.3 52.4 L1040.9 52.3 L1042.6 52.2 L1044.2 52.1 L1045.9 52.0 L1047.5 51.8 L1049.2 51.7 L1050.8 51.6 L1052.5 51.5 L1054.1 51.4 L1055.7 51.3 L1057.4 51.2 L1059.0 51.1 L1060.7 50.9 L1062.3 50.8 L1063.9 50.7 L1065.6 50.6 L1067.2 50.4 L1068.8 50.3 L1070.5 50.2 L1072.1 50.0 L1073.7 49.9 L1075.4 49.7 L1077.0 49.6 L1078.6 49.4 L1080.2 49.2 L1081.8 49.1 L1083.5 48.9 L1085.1 48.7 L1086.7 48.5 L1088.3 48.3 L1089.0 48.2" fill="none" stroke="#00B8F2" stroke-width="6.2" stroke-linecap="round" stroke-dasharray="0 12.85"/>
<path d="M302.6 499.9 L304.2 499.4 L305.7 499.0 L307.3 498.5 L308.9 498.1 L310.5 497.7 L312.0 497.2 L313.6 496.8 L315.2 496.4 L316.8 496.0 L318.4 495.5 L319.9 495.1 L321.5 494.7 L323.1 494.3 L324.7 493.9 L326.3 493.6 L327.9 493.2 L329.5 492.8 L331.1 492.4 L332.7 492.0 L334.3 491.7 L335.9 491.3 L337.5 490.9 L339.1 490.6 L340.7 490.2 L342.3 489.9 L343.9 489.5 L345.5 489.2 L347.1 488.8 L348.7 488.5 L350.4 488.1 L352.0 487.8 L353.6 487.5 L355.2 487.2 L356.8 486.8 L358.4 486.5 L360.1 486.2 L361.7 485.9 L363.3 485.5 L364.9 485.2 L366.5 484.9 L368.2 484.6 L369.8 484.3 L371.4 484.0 L373.0 483.7 L374.7 483.4 L376.3 483.1 L377.9 482.8 L379.5 482.5 L381.2 482.2 L382.8 481.9 L384.4 481.6 L386.1 481.3 L387.7 481.0 L389.3 480.7 L390.9 480.4 L392.6 480.1 L394.2 479.8 L395.8 479.5 L397.5 479.2 L399.1 478.9 L400.7 478.6 L402.4 478.3 L404.0 478.0 L405.6 477.7 L407.2 477.4 L408.9 477.1 L410.5 476.8 L412.1 476.5 L413.8 476.2 L415.4 475.9 L417.0 475.6 L418.6 475.3 L420.3 475.0 L421.9 474.7 L423.5 474.4 L425.1 474.1 L426.8 473.7 L428.4 473.4 L430.0 473.1 L431.6 472.8 L433.3 472.5 L434.9 472.2 L436.5 471.8 L438.1 471.5 L439.8 471.2 L441.4 470.9 L443.0 470.5 L444.6 470.2 L446.2 469.8 L447.8 469.5 L449.4 469.2 L451.1 468.8 L452.7 468.5 L454.3 468.1 L455.9 467.8 L457.5 467.4 L459.1 467.0 L460.7 466.7 L462.3 466.3 L463.9 465.9 L465.5 465.5 L467.1 465.2 L468.7 464.8 L470.3 464.4 L471.9 464.0 L473.5 463.6 L475.1 463.2 L476.7 462.8 L478.3 462.4 L479.9 461.9 L481.4 461.5 L483.0 461.1 L484.6 460.7 L486.2 460.2 L487.8 459.8 L489.3 459.3 L490.9 458.9 L492.5 458.4 L494.1 458.0 L495.6 457.5 L497.2 457.0 L498.7 456.5 L500.3 456.0 L501.9 455.5 L503.4 455.0 L505.0 454.5 L506.5 454.0 L508.1 453.5 L509.6 453.0 L511.2 452.4 L512.7 451.9 L514.3 451.4 L515.8 450.8 L517.3 450.2 L518.9 449.7 L520.4 449.1 L521.9 448.5 L523.4 447.9 L525.0 447.3 L526.5 446.7 L528.0 446.1 L529.5 445.5 L531.0 444.9 L532.5 444.2 L534.0 443.6 L535.5 442.9 L537.0 442.3 L538.5 441.6 L540.0 440.9 L541.5 440.2 L543.0 439.5 L544.5 438.8 L545.9 438.1 L547.4 437.4 L548.9 436.7 L550.4 435.9 L551.8 435.2 L553.3 434.4 L554.7 433.7 L556.2 432.9 L557.6 432.1 L559.1 431.3 L560.5 430.5 L562.0 429.7 L563.4 428.9 L564.8 428.0 L566.3 427.2 L567.7 426.4 L569.1 425.5 L570.5 424.7 L572.0 423.8 L573.4 422.9 L574.8 422.0 L576.2 421.1 L577.6 420.3 L579.0 419.4 L580.4 418.4 L581.8 417.5 L583.2 416.6 L584.5 415.7 L585.9 414.7 L587.3 413.8 L588.7 412.9 L590.0 411.9 L591.4 411.0 L592.8 410.0 L594.1 409.0 L595.5 408.1 L596.8 407.1 L598.2 406.1 L599.5 405.1 L600.9 404.1 L602.2 403.1 L603.5 402.1 L604.8 401.1 L606.2 400.1 L607.5 399.1 L608.8 398.1 L610.1 397.1 L611.4 396.1 L612.7 395.0 L614.0 394.0 L615.3 393.0 L616.6 391.9 L617.9 390.9 L619.2 389.9 L620.5 388.8 L621.8 387.8 L623.0 386.7 L624.3 385.7 L625.6 384.6 L626.8 383.6 L628.1 382.5 L629.3 381.5 L630.6 380.4 L631.8 379.3 L633.1 378.3 L634.3 377.2 L635.6 376.1 L636.8 375.1 L638.0 374.0 L639.3 372.9 L640.5 371.8 L641.7 370.7 L642.9 369.6 L644.1 368.5 L645.3 367.4 L646.6 366.3 L647.8 365.2 L649.0 364.1 L650.2 363.0 L651.3 361.9 L652.5 360.8 L653.7 359.7 L654.9 358.6 L656.1 357.4 L657.3 356.3 L658.4 355.2 L659.6 354.0 L660.8 352.9 L662.0 351.7 L663.1 350.6 L664.3 349.4 L665.4 348.3 L666.6 347.1 L667.7 346.0 L668.9 344.8 L670.0 343.6 L671.2 342.5 L672.3 341.3 L673.5 340.1 L674.6 338.9 L675.8 337.8 L676.9 336.6 L678.0 335.4 L679.2 334.2 L680.3 333.0 L681.4 331.8 L682.5 330.6 L683.7 329.4 L684.8 328.2 L685.9 327.0 L687.0 325.8 L688.1 324.6 L689.3 323.4 L690.4 322.2 L691.5 321.0 L692.6 319.8 L693.7 318.6 L694.8 317.3 L695.9 316.1 L697.0 314.9 L698.1 313.7 L699.2 312.5 L700.3 311.2 L701.4 310.0 L702.5 308.8 L703.6 307.6 L704.7 306.3 L705.8 305.1 L706.9 303.9 L708.0 302.6 L709.1 301.4 L710.2 300.2 L711.3 298.9 L712.4 297.7 L713.5 296.5 L714.6 295.2 L715.7 294.0 L716.7 292.8 L717.8 291.5 L718.9 290.3 L720.0 289.0 L721.1 287.8 L722.2 286.6 L723.3 285.3 L724.4 284.1 L725.5 282.8 L726.6 281.6 L727.7 280.4 L728.7 279.1 L729.8 277.9 L730.9 276.6 L732.0 275.4 L733.1 274.2 L734.2 272.9 L735.3 271.7 L736.4 270.4 L737.5 269.2 L738.6 268.0 L739.7 266.7 L740.8 265.5 L741.9 264.3 L743.0 263.0 L744.1 261.8 L745.2 260.6 L746.3 259.3 L747.3 258.1 L748.4 256.9 L749.5 255.6 L750.6 254.4 L751.7 253.2 L752.9 251.9 L754.0 250.7 L755.1 249.5 L756.2 248.2 L757.3 247.0 L758.4 245.8 L759.5 244.6 L760.6 243.3 L761.7 242.1 L762.8 240.9 L763.9 239.7 L765.0 238.4 L766.1 237.2 L767.2 236.0 L768.3 234.8 L769.5 233.5 L770.6 232.3 L771.7 231.1 L772.8 229.9 L773.9 228.7 L775.0 227.5 L776.2 226.2 L777.3 225.0 L778.4 223.8 L779.5 222.6 L780.6 221.4 L781.8 220.2 L782.9 219.0 L784.0 217.8 L785.1 216.5 L786.3 215.3 L787.4 214.1 L788.5 212.9 L789.6 211.7 L790.8 210.5 L791.9 209.3 L793.0 208.1 L794.2 206.9 L795.3 205.7 L796.4 204.5 L797.6 203.3 L798.7 202.1 L799.9 201.0 L801.0 199.8 L802.1 198.6 L803.3 197.4 L804.4 196.2 L805.6 195.0 L806.7 193.8 L807.9 192.6 L809.0 191.5 L810.2 190.3 L811.3 189.1 L812.5 187.9 L813.6 186.8 L814.8 185.6 L815.9 184.4 L817.1 183.2 L818.3 182.1 L819.4 180.9 L820.6 179.7 L821.7 178.6 L822.9 177.4 L824.1 176.2 L825.2 175.1 L826.4 173.9 L827.6 172.8 L828.8 171.6 L829.9 170.5 L831.1 169.3 L832.3 168.2 L833.5 167.0 L834.7 165.9 L835.8 164.7 L837.0 163.6 L838.2 162.4 L839.4 161.3 L840.6 160.2 L841.8 159.0 L843.0 157.9 L844.2 156.7 L845.4 155.6 L846.6 154.5 L847.8 153.4 L849.0 152.2 L850.2 151.1 L851.4 150.0 L852.6 148.9 L853.8 147.8 L855.0 146.6 L856.2 145.5 L857.4 144.4 L858.6 143.3 L859.8 142.2 L861.1 141.1 L862.3 140.0 L863.5 138.9 L864.7 137.8 L866.0 136.7 L867.2 135.6 L868.4 134.5 L869.6 133.4 L870.9 132.4 L872.1 131.3 L873.4 130.2 L874.6 129.1 L875.8 128.0 L877.1 127.0 L878.3 125.9 L879.6 124.8 L880.8 123.7 L882.1 122.7 L883.3 121.6 L884.6 120.6 L885.8 119.5 L887.1 118.4 L888.4 117.4 L889.6 116.3 L890.9 115.3 L892.2 114.2 L893.4 113.2 L894.7 112.2 L896.0 111.1 L897.3 110.1 L898.6 109.0 L899.8 108.0 L901.1 107.0 L902.4 106.0 L903.7 104.9 L905.0 103.9 L906.3 102.9 L907.6 101.9 L908.9 100.9 L910.2 99.9 L911.5 98.9 L912.8 97.9 L914.1 96.9 L915.4 95.9 L916.7 94.9 L918.1 93.9 L919.4 92.9 L920.7 92.0 L922.0 91.0 L923.4 90.0 L924.7 89.1 L926.1 88.1 L927.4 87.2 L928.8 86.3 L930.1 85.4 L931.5 84.5 L932.8 83.6 L934.2 82.7 L935.6 81.8 L937.0 80.9 L938.4 80.1 L939.8 79.2 L941.2 78.4 L942.6 77.6 L944.0 76.8 L945.4 76.0 L946.9 75.2 L948.3 74.4 L949.7 73.7 L951.2 72.9 L952.7 72.2 L954.1 71.5 L955.6 70.8 L957.1 70.2 L958.6 69.5 L960.1 68.9 L961.6 68.2 L963.1 67.6 L964.6 67.1 L966.2 66.5 L967.7 65.9 L969.3 65.4 L970.8 64.9 L972.4 64.4 L974.0 63.9 L975.6 63.5 L977.2 63.0 L978.7 62.6 L980.3 62.2 L982.0 61.7 L983.6 61.4 L985.2 61.0 L986.8 60.6 L988.4 60.3 L990.1 59.9 L991.7 59.6 L993.3 59.3 L995.0 59.0 L996.6 58.7 L998.3 58.4 L999.9 58.2 L1001.6 57.9 L1003.2 57.7 L1004.9 57.4 L1006.5 57.2 L1008.2 57.0 L1009.8 56.8 L1011.5 56.6 L1013.2 56.4 L1014.8 56.2 L1016.5 56.0 L1018.1 55.8 L1019.8 55.6 L1021.4 55.5 L1023.1 55.3 L1024.7 55.2 L1026.4 55.0 L1028.1 54.9 L1029.7 54.7 L1031.4 54.6 L1033.0 54.5 L1034.7 54.4 L1036.3 54.2 L1038.0 54.1 L1039.6 54.0 L1041.3 53.9 L1042.9 53.8 L1044.6 53.6 L1046.2 53.5 L1047.9 53.4 L1049.5 53.3 L1051.2 53.2 L1052.8 53.1 L1054.4 53.0 L1056.1 52.9 L1057.7 52.7 L1059.4 52.6 L1061.0 52.5 L1062.7 52.4 L1064.3 52.3 L1065.9 52.1 L1067.6 52.0 L1069.2 51.9 L1070.8 51.7 L1072.5 51.6 L1074.1 51.4 L1075.7 51.3 L1077.4 51.1 L1079.0 51.0 L1080.6 50.8 L1082.2 50.6 L1083.9 50.4 L1085.5 50.3 L1087.1 50.1 L1088.7 49.9 L1089.2 49.8" fill="none" stroke="#00B8F2" stroke-width="5.9" stroke-linecap="round" stroke-linejoin="round"/>
</g>
<text x="234" y="135" class="big">A</text>
<text transform="translate(635.4,831) scale(1.05,1)" text-anchor="middle" class="t"><tspan font-style="italic">E</tspan> (V vs. RHE)</text>
<text transform="translate(53.5,372.3) rotate(-90) scale(1.05,1)" text-anchor="middle" class="t"><tspan font-style="italic">j</tspan> (mA/cm<tspan font-size="22" dy="-13">2</tspan><tspan dy="13">)</tspan></text>
</g>
<g id="panelB">
<line x1="1297.2" y1="46.0" x2="2196.5" y2="46.0" stroke="#000" stroke-width="3.9"/>
<line x1="2196.5" y1="46.0" x2="2196.5" y2="688.4" stroke="#000" stroke-width="3.4"/>
<line x1="1297.2" y1="44.2" x2="1297.2" y2="699.9" stroke="#000" stroke-width="3.9"/>
<line x1="1286.0" y1="688.4" x2="2198.1" y2="688.4" stroke="#000" stroke-width="3.9"/>
<line x1="1286.0" y1="46.0" x2="1297.2" y2="46.0" stroke="#000" stroke-width="3.2"/>
<text transform="translate(1266.3,58.3) scale(1.09,1)" text-anchor="end" class="t">0.0</text>
<line x1="1286.0" y1="153.1" x2="1297.2" y2="153.1" stroke="#000" stroke-width="3.2"/>
<text transform="translate(1266.3,165.4) scale(1.09,1)" text-anchor="end" class="t">-0.1</text>
<line x1="1286.0" y1="260.1" x2="1297.2" y2="260.1" stroke="#000" stroke-width="3.2"/>
<text transform="translate(1266.3,272.4) scale(1.09,1)" text-anchor="end" class="t">-0.2</text>
<line x1="1286.0" y1="367.2" x2="1297.2" y2="367.2" stroke="#000" stroke-width="3.2"/>
<text transform="translate(1266.3,379.5) scale(1.09,1)" text-anchor="end" class="t">-0.3</text>
<line x1="1286.0" y1="474.3" x2="1297.2" y2="474.3" stroke="#000" stroke-width="3.2"/>
<text transform="translate(1266.3,486.6) scale(1.09,1)" text-anchor="end" class="t">-0.4</text>
<line x1="1286.0" y1="581.3" x2="1297.2" y2="581.3" stroke="#000" stroke-width="3.2"/>
<text transform="translate(1266.3,593.6) scale(1.09,1)" text-anchor="end" class="t">-0.5</text>
<line x1="1286.0" y1="688.4" x2="1297.2" y2="688.4" stroke="#000" stroke-width="3.2"/>
<text transform="translate(1266.3,700.7) scale(1.09,1)" text-anchor="end" class="t">-0.6</text>
<line x1="1290.0" y1="99.5" x2="1297.2" y2="99.5" stroke="#000" stroke-width="3.2"/>
<line x1="1290.0" y1="206.6" x2="1297.2" y2="206.6" stroke="#000" stroke-width="3.2"/>
<line x1="1290.0" y1="313.7" x2="1297.2" y2="313.7" stroke="#000" stroke-width="3.2"/>
<line x1="1290.0" y1="420.7" x2="1297.2" y2="420.7" stroke="#000" stroke-width="3.2"/>
<line x1="1290.0" y1="527.8" x2="1297.2" y2="527.8" stroke="#000" stroke-width="3.2"/>
<line x1="1290.0" y1="634.9" x2="1297.2" y2="634.9" stroke="#000" stroke-width="3.2"/>
<line x1="1297.2" y1="688.4" x2="1297.2" y2="699.9" stroke="#000" stroke-width="3.2"/>
<text transform="translate(1297.2,745.0) scale(1.09,1)" text-anchor="middle" class="t">0.2</text>
<line x1="1409.6" y1="688.4" x2="1409.6" y2="699.9" stroke="#000" stroke-width="3.2"/>
<text transform="translate(1409.6,745.0) scale(1.09,1)" text-anchor="middle" class="t">0.3</text>
<line x1="1522.0" y1="688.4" x2="1522.0" y2="699.9" stroke="#000" stroke-width="3.2"/>
<text transform="translate(1522.0,745.0) scale(1.09,1)" text-anchor="middle" class="t">0.4</text>
<line x1="1634.4" y1="688.4" x2="1634.4" y2="699.9" stroke="#000" stroke-width="3.2"/>
<text transform="translate(1634.4,745.0) scale(1.09,1)" text-anchor="middle" class="t">0.5</text>
<line x1="1746.8" y1="688.4" x2="1746.8" y2="699.9" stroke="#000" stroke-width="3.2"/>
<text transform="translate(1746.8,745.0) scale(1.09,1)" text-anchor="middle" class="t">0.6</text>
<line x1="1859.3" y1="688.4" x2="1859.3" y2="699.9" stroke="#000" stroke-width="3.2"/>
<text transform="translate(1859.3,745.0) scale(1.09,1)" text-anchor="middle" class="t">0.7</text>
<line x1="1971.7" y1="688.4" x2="1971.7" y2="699.9" stroke="#000" stroke-width="3.2"/>
<text transform="translate(1971.7,745.0) scale(1.09,1)" text-anchor="middle" class="t">0.8</text>
<line x1="2084.1" y1="688.4" x2="2084.1" y2="699.9" stroke="#000" stroke-width="3.2"/>
<text transform="translate(2084.1,745.0) scale(1.09,1)" text-anchor="middle" class="t">0.9</text>
<line x1="2196.5" y1="688.4" x2="2196.5" y2="699.9" stroke="#000" stroke-width="3.2"/>
<text transform="translate(2196.5,745.0) scale(1.09,1)" text-anchor="middle" class="t">1.0</text>
<g clip-path="url(#clB)">
<path d="M1412.9 542.3 L1414.7 542.0 L1416.4 541.8 L1418.2 541.6 L1420.0 541.3 L1421.7 541.1 L1423.5 540.8 L1425.2 540.6 L1427.0 540.4 L1428.8 540.2 L1430.5 540.0 L1432.3 539.8 L1434.0 539.6 L1435.8 539.4 L1437.5 539.2 L1439.3 539.0 L1441.1 538.8 L1442.8 538.7 L1444.6 538.5 L1446.3 538.3 L1448.1 538.2 L1449.8 538.0 L1451.6 537.8 L1453.3 537.7 L1455.1 537.5 L1456.8 537.4 L1458.5 537.2 L1460.3 537.1 L1462.0 537.0 L1463.8 536.8 L1465.5 536.7 L1467.3 536.6 L1469.0 536.5 L1470.8 536.4 L1472.5 536.2 L1474.2 536.1 L1476.0 536.0 L1477.7 535.9 L1479.5 535.8 L1481.2 535.7 L1482.9 535.6 L1484.7 535.5 L1486.4 535.4 L1488.1 535.3 L1489.9 535.2 L1491.6 535.1 L1493.4 535.1 L1495.1 535.0 L1496.8 534.9 L1498.6 534.8 L1500.3 534.7 L1502.0 534.6 L1503.8 534.6 L1505.5 534.5 L1507.2 534.4 L1509.0 534.3 L1510.7 534.3 L1512.4 534.2 L1514.2 534.1 L1515.9 534.1 L1517.6 534.0 L1519.4 533.9 L1521.1 533.9 L1522.8 533.8 L1524.6 533.7 L1526.3 533.7 L1528.0 533.6 L1529.8 533.5 L1531.5 533.5 L1533.2 533.4 L1535.0 533.3 L1536.7 533.3 L1538.4 533.2 L1540.2 533.1 L1541.9 533.1 L1543.6 533.0 L1545.4 532.9 L1547.1 532.9 L1548.9 532.8 L1550.6 532.7 L1552.3 532.7 L1554.1 532.6 L1555.8 532.5 L1557.5 532.5 L1559.3 532.4 L1561.0 532.3 L1562.7 532.2 L1564.5 532.2 L1566.2 532.1 L1568.0 532.0 L1569.7 531.9 L1571.4 531.8 L1573.2 531.7 L1574.9 531.6 L1576.6 531.6 L1578.4 531.5 L1580.1 531.4 L1581.9 531.3 L1583.6 531.2 L1585.4 531.1 L1587.1 531.0 L1588.8 530.9 L1590.6 530.7 L1592.3 530.6 L1594.1 530.5 L1595.8 530.4 L1597.6 530.3 L1599.3 530.2 L1601.1 530.0 L1602.8 529.9 L1604.6 529.8 L1606.3 529.6 L1608.1 529.5 L1609.8 529.3 L1611.6 529.2 L1613.3 529.0 L1615.1 528.9 L1616.8 528.7 L1618.6 528.6 L1620.3 528.4 L1622.1 528.2 L1623.9 528.0 L1625.6 527.9 L1627.4 527.7 L1629.1 527.5 L1630.9 527.3 L1632.7 527.1 L1634.4 526.9 L1636.2 526.7 L1637.9 526.5 L1639.7 526.2 L1641.5 526.0 L1643.2 525.8 L1645.0 525.6 L1646.8 525.3 L1648.5 525.1 L1650.3 524.8 L1652.1 524.6 L1653.8 524.3 L1655.6 524.0 L1657.3 523.7 L1659.1 523.5 L1660.8 523.2 L1662.6 522.9 L1664.4 522.6 L1666.1 522.3 L1667.9 522.0 L1669.6 521.6 L1671.4 521.3 L1673.1 521.0 L1674.8 520.6 L1676.6 520.3 L1678.3 519.9 L1680.1 519.6 L1681.8 519.2 L1683.5 518.8 L1685.3 518.4 L1687.0 518.0 L1688.7 517.6 L1690.4 517.2 L1692.2 516.8 L1693.9 516.4 L1695.6 515.9 L1697.3 515.5 L1699.0 515.0 L1700.7 514.6 L1702.4 514.1 L1704.1 513.6 L1705.8 513.1 L1707.5 512.7 L1709.2 512.1 L1710.8 511.6 L1712.5 511.1 L1714.2 510.6 L1715.9 510.0 L1717.5 509.5 L1719.2 508.9 L1720.8 508.4 L1722.5 507.8 L1724.1 507.2 L1725.8 506.6 L1727.4 506.0 L1729.0 505.3 L1730.7 504.7 L1732.3 504.1 L1733.9 503.4 L1735.5 502.8 L1737.1 502.1 L1738.7 501.4 L1740.3 500.7 L1741.9 500.0 L1743.4 499.3 L1745.0 498.6 L1746.6 497.8 L1748.1 497.1 L1749.7 496.3 L1751.2 495.5 L1752.8 494.7 L1754.3 493.9 L1755.8 493.1 L1757.3 492.3 L1758.8 491.5 L1760.3 490.6 L1761.8 489.8 L1763.3 488.9 L1764.8 488.0 L1766.3 487.1 L1767.7 486.2 L1769.2 485.3 L1770.6 484.4 L1772.1 483.4 L1773.5 482.5 L1774.9 481.5 L1776.4 480.5 L1777.8 479.5 L1779.2 478.5 L1780.6 477.5 L1782.0 476.5 L1783.4 475.5 L1784.8 474.4 L1786.1 473.4 L1787.5 472.3 L1788.9 471.3 L1790.2 470.2 L1791.6 469.1 L1792.9 468.0 L1794.3 466.9 L1795.6 465.8 L1796.9 464.7 L1798.3 463.5 L1799.6 462.4 L1800.9 461.2 L1802.2 460.1 L1803.5 458.9 L1804.8 457.7 L1806.1 456.6 L1807.4 455.4 L1808.7 454.2 L1809.9 453.0 L1811.2 451.8 L1812.5 450.6 L1813.7 449.3 L1815.0 448.1 L1816.3 446.9 L1817.5 445.6 L1818.8 444.4 L1820.0 443.2 L1821.2 441.9 L1822.5 440.6 L1823.7 439.4 L1824.9 438.1 L1826.1 436.8 L1827.4 435.5 L1828.6 434.2 L1829.8 433.0 L1831.0 431.7 L1832.2 430.4 L1833.4 429.1 L1834.6 427.7 L1835.8 426.4 L1837.0 425.1 L1838.2 423.8 L1839.3 422.5 L1840.5 421.2 L1841.7 419.8 L1842.9 418.5 L1844.1 417.2 L1845.2 415.8 L1846.4 414.5 L1847.6 413.1 L1848.7 411.8 L1849.9 410.5 L1851.0 409.1 L1852.2 407.8 L1853.4 406.4 L1854.5 405.1 L1855.7 403.7 L1856.8 402.4 L1858.0 401.0 L1859.1 399.7 L1860.3 398.3 L1861.4 397.0 L1862.5 395.6 L1863.7 394.3 L1864.8 392.9 L1866.0 391.5 L1867.1 390.2 L1868.2 388.8 L1869.4 387.5 L1870.5 386.1 L1871.6 384.8 L1872.8 383.5 L1873.9 382.1 L1875.0 380.8 L1876.2 379.4 L1877.3 378.1 L1878.4 376.7 L1879.5 375.4 L1880.7 374.1 L1881.8 372.8 L1882.9 371.4 L1884.1 370.1 L1885.2 368.8 L1886.3 367.5 L1887.5 366.1 L1888.6 364.8 L1889.7 363.5 L1890.8 362.2 L1892.0 360.9 L1893.1 359.6 L1894.2 358.3 L1895.4 357.0 L1896.5 355.7 L1897.6 354.4 L1898.7 353.0 L1899.8 351.7 L1900.9 350.4 L1902.1 349.1 L1903.2 347.8 L1904.3 346.5 L1905.4 345.1 L1906.5 343.8 L1907.6 342.5 L1908.7 341.1 L1909.8 339.8 L1910.8 338.4 L1911.9 337.1 L1913.0 335.7 L1914.1 334.4 L1915.1 333.0 L1916.2 331.6 L1917.3 330.3 L1918.3 328.9 L1919.4 327.5 L1920.4 326.1 L1921.5 324.7 L1922.5 323.3 L1923.6 321.9 L1924.6 320.5 L1925.6 319.1 L1926.6 317.7 L1927.7 316.2 L1928.7 314.8 L1929.7 313.4 L1930.7 311.9 L1931.7 310.5 L1932.7 309.1 L1933.7 307.6 L1934.7 306.2 L1935.7 304.7 L1936.7 303.2 L1937.7 301.8 L1938.7 300.3 L1939.6 298.8 L1940.6 297.4 L1941.6 295.9 L1942.5 294.4 L1943.5 292.9 L1944.4 291.4 L1945.4 290.0 L1946.3 288.5 L1947.3 287.0 L1948.2 285.5 L1949.2 284.0 L1950.1 282.5 L1951.0 281.0 L1951.9 279.5 L1952.8 278.0 L1953.8 276.5 L1954.7 275.0 L1955.6 273.5 L1956.5 272.0 L1957.4 270.5 L1958.2 269.0 L1959.1 267.5 L1960.0 266.0 L1960.9 264.4 L1961.8 262.9 L1962.7 261.4 L1963.5 259.9 L1964.4 258.4 L1965.3 256.9 L1966.1 255.4 L1967.0 253.8 L1967.8 252.3 L1968.7 250.8 L1969.5 249.3 L1970.4 247.8 L1971.2 246.2 L1972.1 244.7 L1972.9 243.2 L1973.8 241.7 L1974.6 240.1 L1975.5 238.6 L1976.3 237.1 L1977.1 235.6 L1978.0 234.0 L1978.8 232.5 L1979.6 231.0 L1980.5 229.5 L1981.3 227.9 L1982.1 226.4 L1982.9 224.9 L1983.8 223.3 L1984.6 221.8 L1985.4 220.3 L1986.2 218.7 L1987.1 217.2 L1987.9 215.7 L1988.7 214.1 L1989.6 212.6 L1990.4 211.1 L1991.2 209.5 L1992.0 208.0 L1992.9 206.5 L1993.7 204.9 L1994.5 203.4 L1995.3 201.9 L1996.2 200.3 L1997.0 198.8 L1997.8 197.3 L1998.7 195.7 L1999.5 194.2 L2000.3 192.7 L2001.2 191.1 L2002.0 189.6 L2002.9 188.1 L2003.7 186.5 L2004.6 185.0 L2005.4 183.5 L2006.3 181.9 L2007.1 180.4 L2008.0 178.9 L2008.8 177.4 L2009.7 175.8 L2010.5 174.3 L2011.4 172.8 L2012.3 171.2 L2013.1 169.7 L2014.0 168.2 L2014.9 166.6 L2015.8 165.1 L2016.7 163.6 L2017.5 162.1 L2018.4 160.5 L2019.3 159.0 L2020.2 157.5 L2021.1 156.0 L2022.0 154.4 L2022.9 152.9 L2023.9 151.4 L2024.8 149.9 L2025.7 148.4 L2026.6 146.8 L2027.6 145.3 L2028.5 143.8 L2029.5 142.3 L2030.4 140.8 L2031.4 139.3 L2032.3 137.8 L2033.3 136.3 L2034.3 134.9 L2035.3 133.4 L2036.3 131.9 L2037.2 130.5 L2038.3 129.0 L2039.3 127.5 L2040.3 126.1 L2041.3 124.6 L2042.3 123.2 L2043.4 121.8 L2044.4 120.4 L2045.5 119.0 L2046.5 117.6 L2047.6 116.2 L2048.7 114.8 L2049.8 113.4 L2050.9 112.0 L2052.0 110.7 L2053.1 109.3 L2054.2 108.0 L2055.4 106.6 L2056.5 105.3 L2057.7 104.0 L2058.8 102.7 L2060.0 101.4 L2061.2 100.1 L2062.4 98.9 L2063.6 97.6 L2064.8 96.4 L2066.0 95.2 L2067.3 93.9 L2068.5 92.7 L2069.8 91.6 L2071.1 90.4 L2072.4 89.2 L2073.7 88.1 L2075.0 87.0 L2076.3 85.9 L2077.7 84.8 L2079.0 83.7 L2080.4 82.7 L2081.8 81.7 L2083.2 80.7 L2084.6 79.7 L2086.0 78.7 L2087.5 77.8 L2088.9 76.8 L2090.4 75.9 L2091.8 75.0 L2093.3 74.2 L2094.8 73.3 L2096.3 72.5 L2097.9 71.6 L2099.4 70.8 L2100.9 70.0 L2102.5 69.3 L2104.1 68.5 L2105.6 67.8 L2107.2 67.0 L2108.8 66.3 L2110.4 65.6 L2112.0 65.0 L2113.6 64.3 L2115.3 63.7 L2116.9 63.0 L2118.5 62.4 L2120.2 61.8 L2121.9 61.2 L2123.5 60.7 L2125.2 60.1 L2126.9 59.6 L2128.5 59.0 L2130.2 58.5 L2131.9 58.0 L2133.6 57.5 L2135.3 57.1 L2137.0 56.6 L2138.7 56.1 L2140.5 55.7 L2142.2 55.3 L2143.9 54.9 L2145.6 54.5 L2147.4 54.1 L2149.1 53.7 L2150.8 53.4 L2152.6 53.0 L2154.3 52.7 L2156.1 52.4 L2157.8 52.0 L2159.5 51.7 L2161.3 51.4 L2163.0 51.2 L2164.8 50.9 L2166.5 50.6 L2168.3 50.4 L2170.0 50.1 L2171.8 49.9 L2173.5 49.7 L2175.3 49.5 L2177.0 49.3 L2178.7 49.1 L2180.5 48.9 L2182.2 48.7 L2184.0 48.6 L2185.7 48.4 L2187.4 48.3 L2189.1 48.1 L2190.9 48.0 L2192.6 47.9 L2194.3 47.7 L2196.0 47.6 L2196.5 47.6" fill="none" stroke="#595959" stroke-width="5.4" stroke-linecap="round" stroke-linejoin="round"/>
<path d="M1412.9 558.3 L1414.7 557.8 L1416.5 557.4 L1418.3 557.0 L1420.1 556.5 L1421.8 556.1 L1423.6 555.7 L1425.4 555.3 L1427.2 555.0 L1429.0 554.6 L1430.7 554.2 L1432.5 553.9 L1434.3 553.5 L1436.1 553.2 L1437.8 552.9 L1439.6 552.6 L1441.4 552.3 L1443.2 552.0 L1444.9 551.7 L1446.7 551.4 L1448.5 551.1 L1450.2 550.9 L1452.0 550.6 L1453.8 550.4 L1455.5 550.1 L1457.3 549.9 L1459.1 549.7 L1460.8 549.5 L1462.6 549.3 L1464.3 549.1 L1466.1 548.9 L1467.9 548.7 L1469.6 548.5 L1471.4 548.3 L1473.1 548.1 L1474.9 548.0 L1476.7 547.8 L1478.4 547.7 L1480.2 547.5 L1481.9 547.4 L1483.7 547.3 L1485.4 547.1 L1487.2 547.0 L1489.0 546.9 L1490.7 546.8 L1492.5 546.7 L1494.2 546.6 L1496.0 546.5 L1497.8 546.4 L1499.5 546.3 L1501.3 546.2 L1503.0 546.1 L1504.8 546.1 L1506.6 546.0 L1508.3 545.9 L1510.1 545.9 L1511.9 545.8 L1513.6 545.7 L1515.4 545.7 L1517.1 545.6 L1518.9 545.6 L1520.7 545.5 L1522.5 545.5 L1524.2 545.4 L1526.0 545.4 L1527.8 545.3 L1529.5 545.3 L1531.3 545.3 L1533.1 545.2 L1534.9 545.2 L1536.6 545.2 L1538.4 545.1 L1540.2 545.1 L1542.0 545.1 L1543.8 545.0 L1545.6 545.0 L1547.3 545.0 L1549.1 545.0 L1550.9 544.9 L1552.7 544.9 L1554.5 544.9 L1556.3 544.8 L1558.1 544.8 L1559.9 544.8 L1561.7 544.7 L1563.5 544.7 L1565.3 544.7 L1567.1 544.6 L1568.9 544.6 L1570.7 544.6 L1572.5 544.5 L1574.4 544.5 L1576.2 544.4 L1578.0 544.4 L1579.8 544.3 L1581.6 544.3 L1583.4 544.2 L1585.2 544.2 L1587.1 544.1 L1588.9 544.1 L1590.7 544.0 L1592.5 543.9 L1594.3 543.8 L1596.1 543.8 L1598.0 543.7 L1599.8 543.6 L1601.6 543.5 L1603.4 543.4 L1605.2 543.3 L1607.0 543.2 L1608.9 543.1 L1610.7 542.9 L1612.5 542.8 L1614.3 542.7 L1616.1 542.5 L1617.9 542.4 L1619.7 542.2 L1621.5 542.1 L1623.3 541.9 L1625.1 541.7 L1626.9 541.6 L1628.7 541.4 L1630.5 541.2 L1632.3 541.0 L1634.1 540.8 L1635.9 540.6 L1637.7 540.3 L1639.5 540.1 L1641.3 539.9 L1643.0 539.6 L1644.8 539.3 L1646.6 539.1 L1648.3 538.8 L1650.1 538.5 L1651.9 538.2 L1653.6 537.9 L1655.4 537.6 L1657.2 537.3 L1658.9 536.9 L1660.6 536.6 L1662.4 536.2 L1664.1 535.8 L1665.9 535.5 L1667.6 535.1 L1669.3 534.7 L1671.0 534.3 L1672.8 533.8 L1674.5 533.4 L1676.2 532.9 L1677.9 532.5 L1679.6 532.0 L1681.3 531.5 L1683.0 531.0 L1684.6 530.5 L1686.3 530.0 L1688.0 529.4 L1689.6 528.9 L1691.3 528.3 L1693.0 527.7 L1694.6 527.1 L1696.3 526.5 L1697.9 525.9 L1699.5 525.3 L1701.1 524.6 L1702.8 524.0 L1704.4 523.3 L1706.0 522.6 L1707.6 521.9 L1709.2 521.1 L1710.8 520.4 L1712.3 519.6 L1713.9 518.9 L1715.5 518.1 L1717.0 517.3 L1718.6 516.4 L1720.1 515.6 L1721.7 514.8 L1723.2 513.9 L1724.7 513.0 L1726.2 512.1 L1727.7 511.2 L1729.2 510.3 L1730.7 509.4 L1732.2 508.4 L1733.7 507.4 L1735.2 506.5 L1736.6 505.5 L1738.1 504.5 L1739.6 503.5 L1741.0 502.4 L1742.5 501.4 L1743.9 500.4 L1745.3 499.3 L1746.7 498.2 L1748.2 497.1 L1749.6 496.1 L1751.0 494.9 L1752.4 493.8 L1753.8 492.7 L1755.1 491.6 L1756.5 490.4 L1757.9 489.3 L1759.3 488.1 L1760.6 486.9 L1762.0 485.7 L1763.3 484.5 L1764.7 483.3 L1766.0 482.1 L1767.3 480.9 L1768.6 479.6 L1769.9 478.4 L1771.3 477.1 L1772.6 475.9 L1773.9 474.6 L1775.1 473.3 L1776.4 472.1 L1777.7 470.8 L1779.0 469.5 L1780.2 468.2 L1781.5 466.9 L1782.8 465.5 L1784.0 464.2 L1785.2 462.9 L1786.5 461.5 L1787.7 460.2 L1788.9 458.8 L1790.1 457.5 L1791.4 456.1 L1792.6 454.8 L1793.8 453.4 L1795.0 452.0 L1796.1 450.6 L1797.3 449.2 L1798.5 447.9 L1799.7 446.5 L1800.8 445.1 L1802.0 443.7 L1803.1 442.3 L1804.3 440.8 L1805.4 439.4 L1806.6 438.0 L1807.7 436.6 L1808.8 435.2 L1809.9 433.7 L1811.0 432.3 L1812.2 430.9 L1813.3 429.5 L1814.3 428.0 L1815.4 426.6 L1816.5 425.2 L1817.6 423.7 L1818.7 422.3 L1819.7 420.8 L1820.8 419.4 L1821.9 417.9 L1822.9 416.5 L1824.0 415.0 L1825.0 413.6 L1826.0 412.1 L1827.1 410.7 L1828.1 409.2 L1829.1 407.7 L1830.1 406.3 L1831.1 404.8 L1832.2 403.3 L1833.2 401.9 L1834.2 400.4 L1835.1 398.9 L1836.1 397.4 L1837.1 395.9 L1838.1 394.5 L1839.1 393.0 L1840.0 391.5 L1841.0 390.0 L1842.0 388.5 L1842.9 387.0 L1843.9 385.5 L1844.8 384.0 L1845.8 382.5 L1846.7 381.0 L1847.7 379.5 L1848.6 378.0 L1849.5 376.5 L1850.4 375.0 L1851.4 373.5 L1852.3 372.0 L1853.2 370.4 L1854.1 368.9 L1855.0 367.4 L1855.9 365.9 L1856.8 364.3 L1857.7 362.8 L1858.6 361.3 L1859.5 359.7 L1860.4 358.2 L1861.2 356.7 L1862.1 355.1 L1863.0 353.6 L1863.9 352.0 L1864.7 350.5 L1865.6 348.9 L1866.5 347.4 L1867.3 345.8 L1868.2 344.3 L1869.0 342.7 L1869.9 341.2 L1870.7 339.6 L1871.6 338.0 L1872.4 336.5 L1873.2 334.9 L1874.1 333.3 L1874.9 331.7 L1875.7 330.2 L1876.6 328.6 L1877.4 327.0 L1878.2 325.4 L1879.0 323.8 L1879.9 322.2 L1880.7 320.6 L1881.5 319.1 L1882.3 317.5 L1883.1 315.9 L1883.9 314.3 L1884.7 312.7 L1885.5 311.1 L1886.3 309.5 L1887.1 307.9 L1887.9 306.3 L1888.7 304.7 L1889.5 303.1 L1890.3 301.5 L1891.1 299.9 L1891.9 298.3 L1892.7 296.6 L1893.5 295.0 L1894.3 293.4 L1895.0 291.8 L1895.8 290.2 L1896.6 288.6 L1897.4 287.0 L1898.2 285.4 L1899.0 283.8 L1899.7 282.2 L1900.5 280.6 L1901.3 279.0 L1902.1 277.3 L1902.9 275.7 L1903.6 274.1 L1904.4 272.5 L1905.2 270.9 L1906.0 269.3 L1906.7 267.7 L1907.5 266.1 L1908.3 264.5 L1909.1 262.9 L1909.8 261.3 L1910.6 259.7 L1911.4 258.1 L1912.2 256.5 L1913.0 254.9 L1913.7 253.3 L1914.5 251.7 L1915.3 250.1 L1916.1 248.5 L1916.9 246.9 L1917.7 245.3 L1918.5 243.7 L1919.3 242.1 L1920.1 240.5 L1920.9 238.9 L1921.7 237.3 L1922.5 235.7 L1923.3 234.1 L1924.1 232.6 L1924.9 231.0 L1925.7 229.4 L1926.6 227.8 L1927.4 226.2 L1928.2 224.6 L1929.0 223.1 L1929.8 221.5 L1930.7 219.9 L1931.5 218.3 L1932.4 216.8 L1933.2 215.2 L1934.0 213.6 L1934.9 212.1 L1935.7 210.5 L1936.6 208.9 L1937.4 207.4 L1938.3 205.8 L1939.2 204.3 L1940.0 202.7 L1940.9 201.1 L1941.8 199.6 L1942.6 198.0 L1943.5 196.5 L1944.4 194.9 L1945.3 193.4 L1946.2 191.8 L1947.1 190.3 L1948.0 188.8 L1948.9 187.2 L1949.8 185.7 L1950.7 184.1 L1951.6 182.6 L1952.5 181.1 L1953.4 179.5 L1954.4 178.0 L1955.3 176.5 L1956.2 175.0 L1957.2 173.4 L1958.1 171.9 L1959.1 170.4 L1960.0 168.9 L1961.0 167.4 L1962.0 165.9 L1962.9 164.4 L1963.9 162.8 L1964.9 161.3 L1965.9 159.8 L1966.8 158.3 L1967.8 156.8 L1968.8 155.3 L1969.8 153.8 L1970.8 152.3 L1971.9 150.9 L1972.9 149.4 L1973.9 147.9 L1974.9 146.4 L1976.0 145.0 L1977.0 143.5 L1978.1 142.0 L1979.1 140.6 L1980.2 139.1 L1981.3 137.7 L1982.4 136.2 L1983.4 134.8 L1984.5 133.4 L1985.6 131.9 L1986.8 130.5 L1987.9 129.1 L1989.0 127.7 L1990.1 126.3 L1991.3 125.0 L1992.4 123.6 L1993.6 122.2 L1994.7 120.8 L1995.9 119.5 L1997.1 118.2 L1998.3 116.8 L1999.5 115.5 L2000.7 114.2 L2001.9 112.9 L2003.2 111.6 L2004.4 110.3 L2005.7 109.0 L2006.9 107.8 L2008.2 106.5 L2009.5 105.3 L2010.8 104.1 L2012.1 102.9 L2013.4 101.7 L2014.7 100.5 L2016.0 99.3 L2017.4 98.1 L2018.8 97.0 L2020.1 95.9 L2021.5 94.7 L2022.9 93.6 L2024.3 92.5 L2025.7 91.5 L2027.1 90.4 L2028.6 89.3 L2030.0 88.3 L2031.5 87.3 L2032.9 86.3 L2034.4 85.3 L2035.9 84.3 L2037.4 83.3 L2038.9 82.4 L2040.4 81.4 L2041.9 80.5 L2043.4 79.6 L2045.0 78.7 L2046.5 77.9 L2048.1 77.0 L2049.6 76.2 L2051.2 75.3 L2052.8 74.5 L2054.4 73.7 L2056.0 72.9 L2057.6 72.2 L2059.2 71.4 L2060.8 70.7 L2062.4 70.0 L2064.1 69.3 L2065.7 68.6 L2067.4 68.0 L2069.0 67.3 L2070.7 66.7 L2072.3 66.1 L2074.0 65.4 L2075.7 64.9 L2077.4 64.3 L2079.1 63.7 L2080.8 63.2 L2082.5 62.6 L2084.2 62.1 L2085.9 61.6 L2087.7 61.1 L2089.4 60.6 L2091.1 60.2 L2092.9 59.7 L2094.6 59.3 L2096.3 58.8 L2098.1 58.4 L2099.8 58.0 L2101.6 57.6 L2103.4 57.2 L2105.1 56.8 L2106.9 56.5 L2108.7 56.1 L2110.4 55.8 L2112.2 55.5 L2114.0 55.1 L2115.8 54.8 L2117.6 54.5 L2119.4 54.2 L2121.2 53.9 L2122.9 53.7 L2124.7 53.4 L2126.5 53.1 L2128.3 52.9 L2130.1 52.6 L2131.9 52.4 L2133.7 52.2 L2135.5 52.0 L2137.3 51.8 L2139.1 51.6 L2140.9 51.4 L2142.7 51.2 L2144.5 51.0 L2146.3 50.8 L2148.1 50.6 L2149.9 50.5 L2151.7 50.3 L2153.5 50.2 L2155.3 50.0 L2157.1 49.9 L2158.9 49.7 L2160.7 49.6 L2162.5 49.5 L2164.3 49.4 L2166.1 49.2 L2167.9 49.1 L2169.7 49.0 L2171.4 48.9 L2173.2 48.8 L2175.0 48.7 L2176.8 48.6 L2178.5 48.5 L2180.3 48.4 L2182.1 48.3 L2183.8 48.2 L2185.6 48.1 L2187.3 48.0 L2189.1 48.0 L2190.8 47.9 L2192.5 47.8 L2194.3 47.7 L2196.0 47.6 L2196.5 47.6" fill="none" stroke="#A89EF7" stroke-width="5.4" stroke-linecap="round" stroke-linejoin="round"/>
<path d="M1419.2 535.2 L1420.9 534.9 L1422.7 534.6 L1424.4 534.2 L1426.1 533.9 L1427.8 533.6 L1429.6 533.3 L1431.3 533.0 L1433.0 532.8 L1434.8 532.5 L1436.5 532.2 L1438.2 532.0 L1440.0 531.7 L1441.7 531.5 L1443.4 531.2 L1445.2 531.0 L1446.9 530.8 L1448.7 530.6 L1450.4 530.4 L1452.1 530.2 L1453.9 530.0 L1455.6 529.8 L1457.3 529.7 L1459.1 529.5 L1460.8 529.3 L1462.6 529.2 L1464.3 529.0 L1466.0 528.9 L1467.8 528.8 L1469.5 528.7 L1471.3 528.6 L1473.0 528.5 L1474.8 528.4 L1476.5 528.3 L1478.3 528.2 L1480.0 528.1 L1481.8 528.1 L1483.5 528.0 L1485.3 527.9 L1487.0 527.9 L1488.8 527.8 L1490.5 527.8 L1492.3 527.8 L1494.0 527.7 L1495.8 527.7 L1497.5 527.7 L1499.3 527.7 L1501.0 527.7 L1502.8 527.7 L1504.5 527.7 L1506.3 527.7 L1508.0 527.7 L1509.8 527.7 L1511.5 527.7 L1513.3 527.7 L1515.0 527.8 L1516.8 527.8 L1518.6 527.8 L1520.3 527.8 L1522.1 527.9 L1523.8 527.9 L1525.6 527.9 L1527.3 528.0 L1529.1 528.0 L1530.9 528.0 L1532.6 528.1 L1534.4 528.1 L1536.1 528.2 L1537.9 528.2 L1539.6 528.2 L1541.4 528.3 L1543.2 528.3 L1544.9 528.4 L1546.7 528.4 L1548.4 528.4 L1550.2 528.5 L1552.0 528.5 L1553.7 528.6 L1555.5 528.6 L1557.2 528.6 L1559.0 528.6 L1560.7 528.7 L1562.5 528.7 L1564.3 528.7 L1566.0 528.7 L1567.8 528.8 L1569.5 528.8 L1571.3 528.8 L1573.0 528.8 L1574.8 528.8 L1576.5 528.8 L1578.3 528.8 L1580.1 528.8 L1581.8 528.8 L1583.6 528.7 L1585.3 528.7 L1587.1 528.7 L1588.8 528.7 L1590.6 528.6 L1592.3 528.6 L1594.1 528.5 L1595.8 528.5 L1597.6 528.4 L1599.3 528.3 L1601.1 528.3 L1602.8 528.2 L1604.6 528.1 L1606.3 528.0 L1608.1 527.9 L1609.8 527.8 L1611.6 527.7 L1613.3 527.5 L1615.1 527.4 L1616.8 527.3 L1618.6 527.1 L1620.3 526.9 L1622.1 526.8 L1623.8 526.6 L1625.5 526.4 L1627.3 526.2 L1629.0 526.0 L1630.8 525.8 L1632.5 525.6 L1634.2 525.3 L1636.0 525.1 L1637.7 524.8 L1639.4 524.6 L1641.2 524.3 L1642.9 524.0 L1644.6 523.7 L1646.4 523.4 L1648.1 523.1 L1649.8 522.7 L1651.5 522.4 L1653.2 522.1 L1655.0 521.7 L1656.7 521.3 L1658.4 521.0 L1660.1 520.6 L1661.8 520.2 L1663.5 519.8 L1665.2 519.4 L1666.9 518.9 L1668.6 518.5 L1670.3 518.0 L1672.0 517.6 L1673.6 517.1 L1675.3 516.6 L1677.0 516.1 L1678.7 515.6 L1680.3 515.1 L1682.0 514.6 L1683.7 514.0 L1685.3 513.5 L1687.0 512.9 L1688.6 512.3 L1690.2 511.8 L1691.9 511.2 L1693.5 510.6 L1695.1 509.9 L1696.8 509.3 L1698.4 508.7 L1700.0 508.0 L1701.6 507.3 L1703.2 506.7 L1704.8 506.0 L1706.4 505.3 L1707.9 504.6 L1709.5 503.8 L1711.1 503.1 L1712.6 502.4 L1714.2 501.6 L1715.7 500.8 L1717.3 500.0 L1718.8 499.2 L1720.4 498.4 L1721.9 497.6 L1723.4 496.8 L1724.9 495.9 L1726.4 495.1 L1727.9 494.2 L1729.4 493.3 L1730.9 492.4 L1732.3 491.5 L1733.8 490.6 L1735.3 489.7 L1736.7 488.7 L1738.2 487.8 L1739.6 486.8 L1741.0 485.8 L1742.4 484.8 L1743.8 483.8 L1745.2 482.8 L1746.6 481.7 L1748.0 480.7 L1749.4 479.6 L1750.8 478.6 L1752.1 477.5 L1753.5 476.4 L1754.8 475.3 L1756.2 474.2 L1757.5 473.1 L1758.9 471.9 L1760.2 470.8 L1761.5 469.7 L1762.8 468.5 L1764.1 467.3 L1765.4 466.1 L1766.7 465.0 L1768.0 463.8 L1769.2 462.6 L1770.5 461.3 L1771.8 460.1 L1773.0 458.9 L1774.3 457.6 L1775.5 456.4 L1776.8 455.1 L1778.0 453.9 L1779.2 452.6 L1780.4 451.3 L1781.6 450.0 L1782.8 448.7 L1784.0 447.4 L1785.2 446.1 L1786.4 444.8 L1787.6 443.5 L1788.8 442.2 L1789.9 440.8 L1791.1 439.5 L1792.3 438.1 L1793.4 436.8 L1794.6 435.4 L1795.7 434.1 L1796.8 432.7 L1798.0 431.3 L1799.1 429.9 L1800.2 428.6 L1801.3 427.2 L1802.4 425.8 L1803.5 424.4 L1804.6 423.0 L1805.7 421.6 L1806.8 420.2 L1807.9 418.8 L1809.0 417.3 L1810.0 415.9 L1811.1 414.5 L1812.2 413.1 L1813.2 411.6 L1814.3 410.2 L1815.3 408.8 L1816.4 407.3 L1817.4 405.9 L1818.5 404.4 L1819.5 403.0 L1820.5 401.6 L1821.6 400.1 L1822.6 398.7 L1823.6 397.2 L1824.6 395.8 L1825.6 394.3 L1826.6 392.9 L1827.6 391.4 L1828.6 389.9 L1829.6 388.5 L1830.6 387.0 L1831.6 385.6 L1832.5 384.1 L1833.5 382.6 L1834.5 381.2 L1835.5 379.7 L1836.4 378.2 L1837.4 376.8 L1838.4 375.3 L1839.3 373.8 L1840.3 372.4 L1841.2 370.9 L1842.2 369.4 L1843.1 367.9 L1844.0 366.5 L1845.0 365.0 L1845.9 363.5 L1846.8 362.0 L1847.8 360.5 L1848.7 359.1 L1849.6 357.6 L1850.5 356.1 L1851.4 354.6 L1852.4 353.1 L1853.3 351.6 L1854.2 350.1 L1855.1 348.7 L1856.0 347.2 L1856.9 345.7 L1857.8 344.2 L1858.7 342.7 L1859.6 341.2 L1860.5 339.7 L1861.4 338.2 L1862.2 336.7 L1863.1 335.2 L1864.0 333.7 L1864.9 332.2 L1865.8 330.7 L1866.6 329.2 L1867.5 327.7 L1868.4 326.2 L1869.3 324.7 L1870.1 323.2 L1871.0 321.7 L1871.9 320.2 L1872.7 318.7 L1873.6 317.2 L1874.5 315.7 L1875.3 314.1 L1876.2 312.6 L1877.0 311.1 L1877.9 309.6 L1878.7 308.1 L1879.6 306.6 L1880.4 305.1 L1881.3 303.6 L1882.2 302.0 L1883.0 300.5 L1883.9 299.0 L1884.7 297.5 L1885.5 296.0 L1886.4 294.5 L1887.2 293.0 L1888.1 291.4 L1888.9 289.9 L1889.8 288.4 L1890.6 286.9 L1891.5 285.4 L1892.3 283.8 L1893.1 282.3 L1894.0 280.8 L1894.8 279.3 L1895.7 277.8 L1896.5 276.2 L1897.3 274.7 L1898.2 273.2 L1899.0 271.7 L1899.9 270.1 L1900.7 268.6 L1901.6 267.1 L1902.4 265.6 L1903.2 264.0 L1904.1 262.5 L1904.9 261.0 L1905.8 259.5 L1906.6 257.9 L1907.4 256.4 L1908.3 254.9 L1909.1 253.4 L1910.0 251.8 L1910.8 250.3 L1911.7 248.8 L1912.5 247.3 L1913.4 245.7 L1914.2 244.2 L1915.1 242.7 L1915.9 241.2 L1916.8 239.6 L1917.6 238.1 L1918.5 236.6 L1919.3 235.1 L1920.2 233.5 L1921.0 232.0 L1921.9 230.5 L1922.8 228.9 L1923.6 227.4 L1924.5 225.9 L1925.3 224.4 L1926.2 222.8 L1927.1 221.3 L1927.9 219.8 L1928.8 218.3 L1929.7 216.7 L1930.6 215.2 L1931.4 213.7 L1932.3 212.2 L1933.2 210.6 L1934.1 209.1 L1935.0 207.6 L1935.9 206.1 L1936.7 204.5 L1937.6 203.0 L1938.5 201.5 L1939.4 200.0 L1940.3 198.4 L1941.2 196.9 L1942.1 195.4 L1943.0 193.9 L1943.9 192.4 L1944.8 190.8 L1945.7 189.3 L1946.7 187.8 L1947.6 186.3 L1948.5 184.8 L1949.4 183.2 L1950.3 181.7 L1951.3 180.2 L1952.2 178.7 L1953.1 177.2 L1954.1 175.7 L1955.0 174.2 L1956.0 172.7 L1956.9 171.2 L1957.9 169.7 L1958.8 168.2 L1959.8 166.7 L1960.8 165.2 L1961.7 163.7 L1962.7 162.2 L1963.7 160.7 L1964.7 159.2 L1965.7 157.8 L1966.7 156.3 L1967.6 154.8 L1968.6 153.4 L1969.7 151.9 L1970.7 150.4 L1971.7 149.0 L1972.7 147.6 L1973.7 146.1 L1974.8 144.7 L1975.8 143.3 L1976.8 141.8 L1977.9 140.4 L1978.9 139.0 L1980.0 137.6 L1981.1 136.2 L1982.1 134.8 L1983.2 133.4 L1984.3 132.0 L1985.4 130.7 L1986.5 129.3 L1987.6 128.0 L1988.7 126.6 L1989.8 125.3 L1990.9 123.9 L1992.1 122.6 L1993.2 121.3 L1994.3 120.0 L1995.5 118.7 L1996.7 117.4 L1997.8 116.1 L1999.0 114.8 L2000.2 113.6 L2001.4 112.3 L2002.6 111.1 L2003.8 109.8 L2005.0 108.6 L2006.2 107.4 L2007.4 106.2 L2008.6 105.0 L2009.9 103.8 L2011.1 102.6 L2012.4 101.5 L2013.7 100.3 L2014.9 99.2 L2016.2 98.0 L2017.5 96.9 L2018.8 95.8 L2020.1 94.7 L2021.4 93.6 L2022.8 92.6 L2024.1 91.5 L2025.4 90.5 L2026.8 89.4 L2028.2 88.4 L2029.5 87.4 L2030.9 86.4 L2032.3 85.4 L2033.7 84.5 L2035.1 83.5 L2036.5 82.6 L2038.0 81.6 L2039.4 80.7 L2040.9 79.8 L2042.3 78.9 L2043.8 78.1 L2045.3 77.2 L2046.8 76.4 L2048.3 75.6 L2049.8 74.8 L2051.3 74.0 L2052.9 73.2 L2054.4 72.4 L2056.0 71.7 L2057.5 71.0 L2059.1 70.2 L2060.7 69.5 L2062.3 68.9 L2063.9 68.2 L2065.5 67.5 L2067.2 66.9 L2068.8 66.3 L2070.5 65.7 L2072.1 65.1 L2073.8 64.5 L2075.5 63.9 L2077.1 63.4 L2078.8 62.9 L2080.5 62.3 L2082.2 61.8 L2083.9 61.3 L2085.7 60.8 L2087.4 60.4 L2089.1 59.9 L2090.9 59.5 L2092.6 59.0 L2094.3 58.6 L2096.1 58.2 L2097.8 57.8 L2099.6 57.4 L2101.4 57.0 L2103.1 56.6 L2104.9 56.3 L2106.7 55.9 L2108.5 55.6 L2110.3 55.3 L2112.0 55.0 L2113.8 54.7 L2115.6 54.4 L2117.4 54.1 L2119.2 53.8 L2121.0 53.5 L2122.8 53.3 L2124.6 53.0 L2126.4 52.8 L2128.2 52.5 L2130.0 52.3 L2131.8 52.1 L2133.6 51.9 L2135.4 51.7 L2137.2 51.5 L2139.0 51.3 L2140.8 51.1 L2142.6 50.9 L2144.4 50.7 L2146.2 50.6 L2148.0 50.4 L2149.7 50.2 L2151.5 50.1 L2153.3 50.0 L2155.1 49.8 L2156.8 49.7 L2158.6 49.6 L2160.4 49.4 L2162.1 49.3 L2163.9 49.2 L2165.6 49.1 L2167.4 49.0 L2169.1 48.9 L2170.9 48.8 L2172.6 48.7 L2174.3 48.6 L2176.0 48.5 L2177.7 48.4 L2179.4 48.4 L2181.1 48.3 L2182.8 48.2 L2184.5 48.1 L2186.2 48.0 L2187.8 48.0 L2189.5 47.9 L2191.2 47.8 L2192.8 47.8 L2194.4 47.7 L2196.0 47.6 L2196.5 47.6" fill="none" stroke="#A89EF7" stroke-width="6.2" stroke-linecap="round" stroke-dasharray="0 12.85"/>
<path d="M1412.8 598.5 L1414.6 598.2 L1416.4 597.9 L1418.3 597.6 L1420.1 597.3 L1421.9 597.1 L1423.7 596.8 L1425.6 596.6 L1427.4 596.3 L1429.2 596.1 L1431.0 595.8 L1432.9 595.6 L1434.7 595.4 L1436.5 595.2 L1438.3 595.0 L1440.2 594.8 L1442.0 594.6 L1443.8 594.5 L1445.7 594.3 L1447.5 594.1 L1449.3 594.0 L1451.2 593.8 L1453.0 593.7 L1454.8 593.5 L1456.7 593.4 L1458.5 593.3 L1460.3 593.2 L1462.2 593.0 L1464.0 592.9 L1465.9 592.8 L1467.7 592.7 L1469.5 592.6 L1471.4 592.5 L1473.2 592.5 L1475.0 592.4 L1476.9 592.3 L1478.7 592.2 L1480.6 592.2 L1482.4 592.1 L1484.3 592.0 L1486.1 592.0 L1487.9 591.9 L1489.8 591.9 L1491.6 591.8 L1493.5 591.8 L1495.3 591.7 L1497.1 591.7 L1499.0 591.7 L1500.8 591.6 L1502.7 591.6 L1504.5 591.6 L1506.4 591.5 L1508.2 591.5 L1510.1 591.5 L1511.9 591.5 L1513.7 591.4 L1515.6 591.4 L1517.4 591.4 L1519.3 591.4 L1521.1 591.4 L1523.0 591.4 L1524.8 591.3 L1526.7 591.3 L1528.5 591.3 L1530.4 591.3 L1532.2 591.3 L1534.0 591.3 L1535.9 591.3 L1537.7 591.3 L1539.6 591.2 L1541.4 591.2 L1543.3 591.2 L1545.1 591.2 L1547.0 591.2 L1548.8 591.1 L1550.7 591.1 L1552.5 591.1 L1554.3 591.1 L1556.2 591.1 L1558.0 591.0 L1559.9 591.0 L1561.7 591.0 L1563.6 590.9 L1565.4 590.9 L1567.2 590.8 L1569.1 590.8 L1570.9 590.8 L1572.8 590.7 L1574.6 590.6 L1576.5 590.6 L1578.3 590.5 L1580.1 590.5 L1582.0 590.4 L1583.8 590.3 L1585.7 590.3 L1587.5 590.2 L1589.3 590.1 L1591.2 590.0 L1593.0 589.9 L1594.8 589.8 L1596.7 589.7 L1598.5 589.6 L1600.3 589.5 L1602.2 589.4 L1604.0 589.2 L1605.9 589.1 L1607.7 589.0 L1609.5 588.8 L1611.3 588.7 L1613.2 588.5 L1615.0 588.3 L1616.8 588.2 L1618.7 588.0 L1620.5 587.8 L1622.3 587.6 L1624.2 587.4 L1626.0 587.2 L1627.8 587.0 L1629.6 586.8 L1631.5 586.6 L1633.3 586.3 L1635.1 586.1 L1636.9 585.8 L1638.7 585.6 L1640.6 585.3 L1642.4 585.0 L1644.2 584.8 L1646.0 584.5 L1647.8 584.2 L1649.6 583.8 L1651.5 583.5 L1653.3 583.2 L1655.1 582.9 L1656.9 582.5 L1658.7 582.2 L1660.5 581.8 L1662.3 581.4 L1664.1 581.0 L1665.9 580.7 L1667.6 580.2 L1669.4 579.8 L1671.2 579.4 L1673.0 579.0 L1674.8 578.5 L1676.6 578.1 L1678.3 577.6 L1680.1 577.1 L1681.9 576.7 L1683.6 576.2 L1685.4 575.7 L1687.2 575.1 L1688.9 574.6 L1690.7 574.1 L1692.4 573.5 L1694.2 573.0 L1695.9 572.4 L1697.6 571.8 L1699.4 571.2 L1701.1 570.6 L1702.8 570.0 L1704.6 569.3 L1706.3 568.7 L1708.0 568.0 L1709.7 567.4 L1711.4 566.7 L1713.1 566.0 L1714.8 565.3 L1716.5 564.6 L1718.2 563.9 L1719.9 563.1 L1721.5 562.4 L1723.2 561.6 L1724.9 560.8 L1726.6 560.1 L1728.2 559.3 L1729.9 558.5 L1731.5 557.6 L1733.2 556.8 L1734.8 556.0 L1736.4 555.1 L1738.1 554.3 L1739.7 553.4 L1741.3 552.5 L1742.9 551.6 L1744.5 550.7 L1746.1 549.8 L1747.7 548.9 L1749.3 548.0 L1750.9 547.0 L1752.5 546.1 L1754.0 545.1 L1755.6 544.2 L1757.2 543.2 L1758.7 542.2 L1760.3 541.2 L1761.8 540.2 L1763.4 539.2 L1764.9 538.1 L1766.4 537.1 L1768.0 536.1 L1769.5 535.0 L1771.0 533.9 L1772.5 532.9 L1774.0 531.8 L1775.5 530.7 L1777.0 529.6 L1778.4 528.5 L1779.9 527.4 L1781.4 526.3 L1782.9 525.2 L1784.3 524.0 L1785.8 522.9 L1787.2 521.7 L1788.7 520.6 L1790.1 519.4 L1791.5 518.2 L1792.9 517.0 L1794.3 515.8 L1795.8 514.6 L1797.2 513.4 L1798.5 512.2 L1799.9 511.0 L1801.3 509.8 L1802.7 508.5 L1804.1 507.3 L1805.4 506.0 L1806.8 504.8 L1808.1 503.5 L1809.5 502.2 L1810.8 501.0 L1812.1 499.7 L1813.5 498.4 L1814.8 497.1 L1816.1 495.8 L1817.4 494.5 L1818.7 493.2 L1820.0 491.8 L1821.2 490.5 L1822.5 489.2 L1823.8 487.8 L1825.0 486.5 L1826.3 485.2 L1827.5 483.8 L1828.8 482.4 L1830.0 481.1 L1831.2 479.7 L1832.5 478.3 L1833.7 476.9 L1834.9 475.6 L1836.1 474.2 L1837.3 472.8 L1838.5 471.4 L1839.7 470.0 L1840.9 468.6 L1842.0 467.1 L1843.2 465.7 L1844.4 464.3 L1845.6 462.9 L1846.7 461.5 L1847.9 460.0 L1849.0 458.6 L1850.2 457.2 L1851.3 455.7 L1852.5 454.3 L1853.6 452.9 L1854.8 451.4 L1855.9 450.0 L1857.0 448.5 L1858.1 447.0 L1859.2 445.6 L1860.4 444.1 L1861.5 442.6 L1862.6 441.2 L1863.6 439.7 L1864.7 438.2 L1865.8 436.7 L1866.9 435.2 L1867.9 433.7 L1869.0 432.2 L1870.0 430.7 L1871.1 429.2 L1872.1 427.7 L1873.2 426.2 L1874.2 424.7 L1875.2 423.1 L1876.2 421.6 L1877.2 420.0 L1878.2 418.5 L1879.2 417.0 L1880.2 415.4 L1881.1 413.8 L1882.1 412.3 L1883.1 410.7 L1884.0 409.2 L1885.0 407.6 L1885.9 406.0 L1886.8 404.4 L1887.8 402.8 L1888.7 401.3 L1889.6 399.7 L1890.5 398.1 L1891.5 396.5 L1892.4 394.9 L1893.3 393.3 L1894.2 391.7 L1895.0 390.1 L1895.9 388.4 L1896.8 386.8 L1897.7 385.2 L1898.6 383.6 L1899.4 382.0 L1900.3 380.3 L1901.2 378.7 L1902.0 377.1 L1902.9 375.4 L1903.7 373.8 L1904.6 372.2 L1905.4 370.5 L1906.2 368.9 L1907.1 367.3 L1907.9 365.6 L1908.7 364.0 L1909.6 362.3 L1910.4 360.7 L1911.2 359.0 L1912.0 357.4 L1912.9 355.7 L1913.7 354.1 L1914.5 352.4 L1915.3 350.8 L1916.1 349.1 L1916.9 347.5 L1917.7 345.8 L1918.5 344.1 L1919.3 342.5 L1920.1 340.8 L1920.9 339.2 L1921.7 337.5 L1922.5 335.9 L1923.3 334.2 L1924.1 332.5 L1924.9 330.9 L1925.7 329.2 L1926.5 327.6 L1927.3 325.9 L1928.0 324.2 L1928.8 322.6 L1929.6 320.9 L1930.4 319.2 L1931.2 317.6 L1932.0 315.9 L1932.8 314.3 L1933.5 312.6 L1934.3 310.9 L1935.1 309.3 L1935.9 307.6 L1936.7 305.9 L1937.4 304.3 L1938.2 302.6 L1939.0 301.0 L1939.8 299.3 L1940.5 297.6 L1941.3 296.0 L1942.1 294.3 L1942.9 292.6 L1943.6 291.0 L1944.4 289.3 L1945.2 287.6 L1945.9 286.0 L1946.7 284.3 L1947.5 282.6 L1948.2 281.0 L1949.0 279.3 L1949.8 277.6 L1950.5 276.0 L1951.3 274.3 L1952.1 272.6 L1952.8 270.9 L1953.6 269.3 L1954.4 267.6 L1955.1 265.9 L1955.9 264.3 L1956.7 262.6 L1957.4 260.9 L1958.2 259.3 L1959.0 257.6 L1959.7 255.9 L1960.5 254.2 L1961.2 252.6 L1962.0 250.9 L1962.8 249.2 L1963.5 247.6 L1964.3 245.9 L1965.1 244.2 L1965.8 242.5 L1966.6 240.9 L1967.4 239.2 L1968.1 237.5 L1968.9 235.8 L1969.6 234.2 L1970.4 232.5 L1971.2 230.8 L1971.9 229.1 L1972.7 227.5 L1973.5 225.8 L1974.2 224.1 L1975.0 222.4 L1975.7 220.8 L1976.5 219.1 L1977.3 217.4 L1978.0 215.7 L1978.8 214.1 L1979.6 212.4 L1980.3 210.7 L1981.1 209.0 L1981.9 207.4 L1982.7 205.7 L1983.4 204.0 L1984.2 202.3 L1985.0 200.7 L1985.8 199.0 L1986.6 197.3 L1987.3 195.7 L1988.1 194.0 L1988.9 192.3 L1989.7 190.7 L1990.5 189.0 L1991.3 187.3 L1992.1 185.7 L1992.9 184.0 L1993.8 182.4 L1994.6 180.7 L1995.4 179.1 L1996.2 177.4 L1997.1 175.8 L1997.9 174.1 L1998.8 172.5 L1999.6 170.9 L2000.5 169.2 L2001.3 167.6 L2002.2 166.0 L2003.1 164.4 L2003.9 162.7 L2004.8 161.1 L2005.7 159.5 L2006.6 157.9 L2007.5 156.3 L2008.5 154.7 L2009.4 153.1 L2010.3 151.5 L2011.3 149.9 L2012.2 148.4 L2013.2 146.8 L2014.1 145.2 L2015.1 143.6 L2016.1 142.1 L2017.1 140.5 L2018.1 139.0 L2019.1 137.4 L2020.1 135.9 L2021.1 134.4 L2022.2 132.8 L2023.2 131.3 L2024.3 129.8 L2025.4 128.3 L2026.4 126.8 L2027.5 125.3 L2028.6 123.8 L2029.7 122.3 L2030.9 120.8 L2032.0 119.3 L2033.2 117.9 L2034.3 116.4 L2035.5 115.0 L2036.7 113.6 L2037.8 112.1 L2039.0 110.7 L2040.3 109.3 L2041.5 107.9 L2042.7 106.6 L2044.0 105.2 L2045.2 103.8 L2046.5 102.5 L2047.8 101.2 L2049.0 99.9 L2050.3 98.5 L2051.7 97.3 L2053.0 96.0 L2054.3 94.7 L2055.7 93.5 L2057.0 92.2 L2058.4 91.0 L2059.8 89.8 L2061.2 88.6 L2062.6 87.5 L2064.0 86.3 L2065.4 85.2 L2066.9 84.1 L2068.3 83.0 L2069.8 81.9 L2071.2 80.8 L2072.7 79.8 L2074.2 78.8 L2075.7 77.8 L2077.3 76.8 L2078.8 75.8 L2080.3 74.9 L2081.9 74.0 L2083.5 73.1 L2085.0 72.2 L2086.6 71.3 L2088.2 70.5 L2089.9 69.7 L2091.5 68.9 L2093.1 68.2 L2094.8 67.4 L2096.5 66.7 L2098.1 66.0 L2099.8 65.3 L2101.5 64.7 L2103.3 64.1 L2105.0 63.5 L2106.7 62.9 L2108.5 62.3 L2110.2 61.8 L2112.0 61.3 L2113.8 60.8 L2115.5 60.3 L2117.3 59.8 L2119.1 59.4 L2120.9 59.0 L2122.7 58.5 L2124.5 58.1 L2126.4 57.7 L2128.2 57.4 L2129.8 57.1 L2131.3 56.8 L2132.9 56.5 L2134.5 56.2 L2136.1 55.9 L2137.7 55.6 L2139.2 55.4 L2140.8 55.1 L2142.4 54.9 L2144.0 54.7 L2145.6 54.4 L2147.2 54.2 L2148.8 54.0 L2150.4 53.7 L2152.0 53.5 L2153.6 53.3 L2155.2 53.1 L2156.8 52.9 L2158.4 52.7 L2160.0 52.5 L2161.6 52.3 L2163.2 52.1 L2164.7 51.9 L2166.6 51.7 L2168.4 51.5 L2170.3 51.3 L2172.1 51.0 L2174.0 50.8 L2175.8 50.6 L2177.6 50.3 L2179.4 50.1 L2181.3 49.9 L2183.1 49.6 L2184.9 49.4 L2186.7 49.1 L2188.4 48.9 L2190.2 48.6 L2192.0 48.3 L2193.8 48.1 L2195.5 47.8 L2196.5 47.6" fill="none" stroke="#FF99CC" stroke-width="5.4" stroke-linecap="round" stroke-linejoin="round"/>
<path d="M1417.5 600.5 L1419.3 600.3 L1421.1 600.2 L1422.9 600.0 L1424.7 599.8 L1426.5 599.7 L1428.2 599.5 L1430.0 599.4 L1431.8 599.2 L1433.6 599.1 L1435.5 599.0 L1437.3 598.8 L1439.1 598.7 L1440.9 598.6 L1442.7 598.5 L1444.5 598.4 L1446.3 598.3 L1448.1 598.2 L1450.0 598.1 L1451.8 598.0 L1453.6 597.9 L1455.4 597.8 L1457.2 597.7 L1459.1 597.6 L1460.9 597.6 L1462.7 597.5 L1464.6 597.4 L1466.4 597.4 L1468.2 597.3 L1470.1 597.2 L1471.9 597.2 L1473.7 597.1 L1475.6 597.1 L1477.4 597.0 L1479.3 597.0 L1481.1 596.9 L1483.0 596.9 L1484.8 596.8 L1486.6 596.8 L1488.5 596.7 L1490.3 596.7 L1492.2 596.7 L1494.0 596.6 L1495.9 596.6 L1497.7 596.6 L1499.6 596.5 L1501.5 596.5 L1503.3 596.5 L1505.2 596.4 L1507.0 596.4 L1508.9 596.4 L1510.7 596.3 L1512.6 596.3 L1514.4 596.3 L1516.3 596.3 L1518.2 596.2 L1520.0 596.2 L1521.9 596.2 L1523.7 596.1 L1525.6 596.1 L1527.4 596.1 L1529.3 596.0 L1531.2 596.0 L1533.0 596.0 L1534.9 595.9 L1536.7 595.9 L1538.6 595.8 L1540.5 595.8 L1542.3 595.8 L1544.2 595.7 L1546.0 595.7 L1547.9 595.6 L1549.8 595.6 L1551.6 595.5 L1553.5 595.5 L1555.3 595.4 L1557.2 595.3 L1559.0 595.3 L1560.9 595.2 L1562.8 595.1 L1564.6 595.1 L1566.5 595.0 L1568.3 594.9 L1570.2 594.8 L1572.0 594.7 L1573.9 594.6 L1575.7 594.5 L1577.6 594.4 L1579.4 594.3 L1581.3 594.2 L1583.1 594.1 L1585.0 594.0 L1586.8 593.9 L1588.6 593.8 L1590.5 593.6 L1592.3 593.5 L1594.2 593.4 L1596.0 593.2 L1597.8 593.1 L1599.7 592.9 L1601.5 592.8 L1603.3 592.6 L1605.2 592.4 L1607.0 592.3 L1608.8 592.1 L1610.7 591.9 L1612.5 591.7 L1614.3 591.5 L1616.1 591.3 L1618.0 591.1 L1619.8 590.9 L1621.6 590.7 L1623.4 590.4 L1625.2 590.2 L1627.0 589.9 L1628.8 589.7 L1630.6 589.4 L1632.5 589.2 L1634.3 588.9 L1636.1 588.6 L1637.9 588.3 L1639.7 588.0 L1641.5 587.7 L1643.2 587.4 L1645.0 587.1 L1646.8 586.8 L1648.6 586.4 L1650.4 586.1 L1652.2 585.7 L1654.0 585.4 L1655.7 585.0 L1657.5 584.6 L1659.3 584.2 L1661.0 583.8 L1662.8 583.4 L1664.6 583.0 L1666.3 582.6 L1668.1 582.1 L1669.8 581.7 L1671.6 581.2 L1673.3 580.8 L1675.1 580.3 L1676.8 579.8 L1678.6 579.3 L1680.3 578.8 L1682.1 578.3 L1683.8 577.8 L1685.5 577.2 L1687.2 576.7 L1689.0 576.1 L1690.7 575.6 L1692.4 575.0 L1694.1 574.4 L1695.8 573.8 L1697.5 573.2 L1699.2 572.6 L1700.9 571.9 L1702.6 571.3 L1704.3 570.6 L1706.0 569.9 L1707.7 569.3 L1709.4 568.6 L1711.0 567.9 L1712.7 567.1 L1714.4 566.4 L1716.0 565.7 L1717.7 564.9 L1719.4 564.1 L1721.0 563.3 L1722.7 562.5 L1724.3 561.7 L1726.0 560.9 L1727.6 560.1 L1729.2 559.2 L1730.9 558.4 L1732.5 557.5 L1734.1 556.6 L1735.7 555.7 L1737.3 554.8 L1738.9 553.9 L1740.5 553.0 L1742.1 552.0 L1743.7 551.1 L1745.3 550.1 L1746.9 549.2 L1748.4 548.2 L1750.0 547.2 L1751.6 546.2 L1753.1 545.2 L1754.7 544.1 L1756.2 543.1 L1757.8 542.1 L1759.3 541.0 L1760.8 539.9 L1762.3 538.9 L1763.9 537.8 L1765.4 536.7 L1766.9 535.6 L1768.4 534.5 L1769.9 533.4 L1771.3 532.2 L1772.8 531.1 L1774.3 529.9 L1775.8 528.8 L1777.2 527.6 L1778.7 526.4 L1780.1 525.2 L1781.5 524.1 L1783.0 522.9 L1784.4 521.6 L1785.8 520.4 L1787.2 519.2 L1788.6 518.0 L1790.0 516.7 L1791.4 515.5 L1792.8 514.2 L1794.1 513.0 L1795.5 511.7 L1796.8 510.4 L1798.2 509.1 L1799.5 507.8 L1800.9 506.5 L1802.2 505.2 L1803.5 503.9 L1804.8 502.6 L1806.1 501.2 L1807.4 499.9 L1808.6 498.6 L1809.9 497.2 L1811.2 495.9 L1812.4 494.5 L1813.7 493.1 L1814.9 491.8 L1816.1 490.4 L1817.3 489.0 L1818.5 487.6 L1819.7 486.2 L1820.9 484.8 L1822.1 483.4 L1823.3 482.0 L1824.4 480.6 L1825.6 479.2 L1826.7 477.8 L1827.9 476.3 L1829.0 474.9 L1830.1 473.5 L1831.2 472.0 L1832.3 470.6 L1833.5 469.1 L1834.5 467.7 L1835.6 466.2 L1836.7 464.7 L1837.8 463.3 L1838.9 461.8 L1839.9 460.3 L1841.0 458.8 L1842.1 457.3 L1843.1 455.9 L1844.1 454.4 L1845.2 452.9 L1846.2 451.4 L1847.3 449.9 L1848.3 448.4 L1849.3 446.9 L1850.3 445.4 L1851.4 443.9 L1852.4 442.3 L1853.4 440.8 L1854.4 439.3 L1855.4 437.8 L1856.4 436.3 L1857.4 434.7 L1858.4 433.2 L1859.4 431.7 L1860.4 430.1 L1861.4 428.6 L1862.4 427.1 L1863.4 425.5 L1864.4 424.0 L1865.4 422.5 L1866.4 420.9 L1867.3 419.4 L1868.3 417.8 L1869.3 416.3 L1870.3 414.7 L1871.3 413.2 L1872.2 411.6 L1873.2 410.1 L1874.2 408.5 L1875.2 407.0 L1876.1 405.4 L1877.1 403.9 L1878.1 402.3 L1879.0 400.7 L1880.0 399.2 L1880.9 397.6 L1881.9 396.0 L1882.9 394.5 L1883.8 392.9 L1884.8 391.3 L1885.7 389.7 L1886.6 388.2 L1887.6 386.6 L1888.5 385.0 L1889.5 383.4 L1890.4 381.8 L1891.3 380.2 L1892.2 378.6 L1893.2 377.1 L1894.1 375.5 L1895.0 373.9 L1895.9 372.3 L1896.8 370.7 L1897.7 369.1 L1898.6 367.5 L1899.5 365.9 L1900.4 364.2 L1901.3 362.6 L1902.2 361.0 L1903.1 359.4 L1904.0 357.8 L1904.8 356.2 L1905.7 354.6 L1906.6 352.9 L1907.4 351.3 L1908.3 349.7 L1909.2 348.1 L1910.0 346.4 L1910.9 344.8 L1911.7 343.2 L1912.5 341.5 L1913.4 339.9 L1914.2 338.2 L1915.0 336.6 L1915.9 334.9 L1916.7 333.3 L1917.5 331.7 L1918.3 330.0 L1919.1 328.3 L1919.9 326.7 L1920.7 325.0 L1921.5 323.4 L1922.3 321.7 L1923.1 320.1 L1923.9 318.4 L1924.6 316.7 L1925.4 315.1 L1926.2 313.4 L1927.0 311.7 L1927.7 310.1 L1928.5 308.4 L1929.3 306.7 L1930.0 305.0 L1930.8 303.4 L1931.6 301.7 L1932.3 300.0 L1933.1 298.3 L1933.8 296.7 L1934.6 295.0 L1935.3 293.3 L1936.1 291.6 L1936.8 289.9 L1937.6 288.3 L1938.3 286.6 L1939.0 284.9 L1939.8 283.2 L1940.5 281.5 L1941.3 279.8 L1942.0 278.2 L1942.7 276.5 L1943.5 274.8 L1944.2 273.1 L1944.9 271.4 L1945.7 269.7 L1946.4 268.0 L1947.1 266.4 L1947.9 264.7 L1948.6 263.0 L1949.3 261.3 L1950.1 259.6 L1950.8 257.9 L1951.5 256.2 L1952.3 254.6 L1953.0 252.9 L1953.7 251.2 L1954.5 249.5 L1955.2 247.8 L1955.9 246.1 L1956.7 244.4 L1957.4 242.8 L1958.2 241.1 L1958.9 239.4 L1959.6 237.7 L1960.4 236.0 L1961.1 234.4 L1961.9 232.7 L1962.6 231.0 L1963.4 229.3 L1964.1 227.7 L1964.9 226.0 L1965.6 224.3 L1966.4 222.6 L1967.2 221.0 L1967.9 219.3 L1968.7 217.6 L1969.4 216.0 L1970.2 214.3 L1971.0 212.6 L1971.8 211.0 L1972.5 209.3 L1973.3 207.7 L1974.1 206.0 L1974.9 204.4 L1975.7 202.7 L1976.5 201.0 L1977.3 199.4 L1978.1 197.8 L1978.9 196.1 L1979.7 194.5 L1980.5 192.8 L1981.3 191.2 L1982.2 189.5 L1983.0 187.9 L1983.8 186.3 L1984.7 184.6 L1985.5 183.0 L1986.3 181.4 L1987.2 179.8 L1988.0 178.1 L1988.9 176.5 L1989.8 174.9 L1990.6 173.3 L1991.5 171.7 L1992.4 170.1 L1993.3 168.5 L1994.2 166.9 L1995.1 165.3 L1996.0 163.7 L1996.9 162.1 L1997.8 160.5 L1998.7 158.9 L1999.6 157.3 L2000.5 155.7 L2001.5 154.2 L2002.4 152.6 L2003.4 151.0 L2004.3 149.4 L2005.3 147.9 L2006.3 146.3 L2007.2 144.8 L2008.2 143.2 L2009.2 141.7 L2010.2 140.1 L2011.2 138.6 L2012.2 137.0 L2013.2 135.5 L2014.3 134.0 L2015.3 132.4 L2016.3 130.9 L2017.4 129.4 L2018.4 127.9 L2019.5 126.4 L2020.6 124.9 L2021.7 123.4 L2022.8 121.9 L2023.9 120.4 L2025.0 118.9 L2026.1 117.4 L2027.2 116.0 L2028.3 114.5 L2029.5 113.1 L2030.6 111.6 L2031.8 110.2 L2033.0 108.8 L2034.2 107.4 L2035.4 106.0 L2036.6 104.6 L2037.8 103.2 L2039.0 101.9 L2040.3 100.5 L2041.5 99.2 L2042.8 97.9 L2044.1 96.6 L2045.4 95.3 L2046.7 94.0 L2048.0 92.8 L2049.3 91.5 L2050.6 90.3 L2052.0 89.1 L2053.4 87.9 L2054.7 86.8 L2056.1 85.6 L2057.5 84.5 L2059.0 83.4 L2060.4 82.3 L2061.9 81.3 L2063.3 80.2 L2064.8 79.2 L2066.3 78.2 L2067.8 77.2 L2069.3 76.3 L2070.9 75.3 L2072.5 74.4 L2074.0 73.6 L2075.6 72.7 L2077.2 71.9 L2078.9 71.1 L2080.5 70.3 L2082.1 69.6 L2083.8 68.9 L2085.5 68.2 L2087.2 67.5 L2088.9 66.8 L2090.6 66.2 L2092.4 65.6 L2094.1 65.0 L2095.9 64.4 L2097.6 63.9 L2099.4 63.3 L2101.2 62.8 L2103.0 62.3 L2104.8 61.9 L2106.6 61.4 L2108.4 61.0 L2109.9 60.6 L2111.5 60.3 L2113.1 59.9 L2114.7 59.6 L2116.2 59.3 L2117.8 59.0 L2119.4 58.7 L2121.0 58.4 L2122.6 58.1 L2124.2 57.8 L2125.8 57.5 L2127.4 57.3 L2129.0 57.0 L2130.6 56.8 L2132.2 56.6 L2133.8 56.3 L2135.4 56.1 L2137.0 55.9 L2138.6 55.7 L2140.2 55.4 L2141.8 55.2 L2143.4 55.0 L2145.0 54.8 L2146.6 54.6 L2148.2 54.4 L2149.8 54.3 L2151.4 54.1 L2153.0 53.9 L2154.6 53.7 L2156.2 53.5 L2157.8 53.3 L2159.4 53.1 L2161.3 52.9 L2163.1 52.7 L2165.0 52.5 L2166.8 52.3 L2168.6 52.0 L2170.4 51.8 L2172.3 51.6 L2174.1 51.3 L2175.9 51.1 L2177.7 50.8 L2179.4 50.6 L2181.2 50.3 L2183.0 50.1 L2184.7 49.8 L2186.5 49.5 L2188.2 49.2 L2190.0 48.9 L2191.7 48.6 L2193.4 48.2 L2195.1 47.9 L2196.5 47.6" fill="none" stroke="#FF99CC" stroke-width="6.2" stroke-linecap="round" stroke-dasharray="0 12.85"/>
<path d="M1412.9 553.8 L1414.7 553.6 L1416.5 553.3 L1418.3 553.1 L1420.0 552.8 L1421.8 552.6 L1423.6 552.4 L1425.4 552.2 L1427.2 552.0 L1428.9 551.7 L1430.7 551.5 L1432.5 551.3 L1434.3 551.2 L1436.1 551.0 L1437.9 550.8 L1439.6 550.6 L1441.4 550.4 L1443.2 550.3 L1445.0 550.1 L1446.7 549.9 L1448.5 549.8 L1450.3 549.6 L1452.1 549.5 L1453.9 549.4 L1455.6 549.2 L1457.4 549.1 L1459.2 549.0 L1461.0 548.8 L1462.7 548.7 L1464.5 548.6 L1466.3 548.5 L1468.1 548.4 L1469.8 548.3 L1471.6 548.1 L1473.4 548.0 L1475.2 548.0 L1476.9 547.9 L1478.7 547.8 L1480.5 547.7 L1482.3 547.6 L1484.0 547.5 L1485.8 547.4 L1487.6 547.4 L1489.4 547.3 L1491.1 547.2 L1492.9 547.1 L1494.7 547.1 L1496.5 547.0 L1498.2 546.9 L1500.0 546.9 L1501.8 546.8 L1503.6 546.8 L1505.3 546.7 L1507.1 546.7 L1508.9 546.6 L1510.7 546.6 L1512.4 546.5 L1514.2 546.5 L1516.0 546.4 L1517.7 546.4 L1519.5 546.3 L1521.3 546.3 L1523.1 546.3 L1524.8 546.2 L1526.6 546.2 L1528.4 546.2 L1530.2 546.1 L1531.9 546.1 L1533.7 546.0 L1535.5 546.0 L1537.3 546.0 L1539.0 546.0 L1540.8 545.9 L1542.6 545.9 L1544.4 545.9 L1546.2 545.8 L1547.9 545.8 L1549.7 545.8 L1551.5 545.7 L1553.3 545.7 L1555.0 545.7 L1556.8 545.6 L1558.6 545.6 L1560.4 545.6 L1562.2 545.5 L1563.9 545.5 L1565.7 545.5 L1567.5 545.4 L1569.3 545.4 L1571.1 545.4 L1572.8 545.3 L1574.6 545.3 L1576.4 545.2 L1578.2 545.2 L1580.0 545.2 L1581.7 545.1 L1583.5 545.1 L1585.3 545.0 L1587.1 545.0 L1588.9 544.9 L1590.7 544.9 L1592.4 544.8 L1594.2 544.8 L1596.0 544.7 L1597.8 544.6 L1599.6 544.6 L1601.4 544.5 L1603.2 544.4 L1605.0 544.4 L1606.7 544.3 L1608.5 544.2 L1610.3 544.2 L1612.1 544.1 L1613.9 544.0 L1615.7 543.9 L1617.5 543.8 L1619.3 543.7 L1621.1 543.6 L1622.9 543.5 L1624.7 543.4 L1626.4 543.3 L1628.2 543.2 L1630.0 543.1 L1631.8 542.9 L1633.6 542.8 L1635.4 542.7 L1637.2 542.5 L1639.0 542.4 L1640.7 542.2 L1642.5 542.0 L1644.3 541.9 L1646.1 541.7 L1647.9 541.5 L1649.6 541.3 L1651.4 541.1 L1653.2 540.9 L1655.0 540.7 L1656.7 540.5 L1658.5 540.3 L1660.3 540.0 L1662.0 539.8 L1663.8 539.5 L1665.5 539.3 L1667.3 539.0 L1669.1 538.7 L1670.8 538.4 L1672.6 538.1 L1674.3 537.8 L1676.1 537.5 L1677.8 537.1 L1679.5 536.8 L1681.3 536.4 L1683.0 536.1 L1684.7 535.7 L1686.5 535.3 L1688.2 534.9 L1689.9 534.5 L1691.6 534.1 L1693.3 533.6 L1695.0 533.2 L1696.7 532.7 L1698.4 532.2 L1700.1 531.7 L1701.8 531.2 L1703.5 530.7 L1705.2 530.2 L1706.9 529.6 L1708.6 529.1 L1710.2 528.5 L1711.9 527.9 L1713.6 527.3 L1715.2 526.7 L1716.9 526.1 L1718.5 525.5 L1720.2 524.8 L1721.8 524.2 L1723.4 523.5 L1725.1 522.8 L1726.7 522.1 L1728.3 521.4 L1729.9 520.7 L1731.5 519.9 L1733.1 519.2 L1734.8 518.4 L1736.3 517.6 L1737.9 516.9 L1739.5 516.1 L1741.1 515.3 L1742.7 514.4 L1744.3 513.6 L1745.8 512.8 L1747.4 511.9 L1749.0 511.0 L1750.5 510.2 L1752.1 509.3 L1753.6 508.4 L1755.1 507.5 L1756.7 506.6 L1758.2 505.7 L1759.7 504.7 L1761.2 503.8 L1762.8 502.8 L1764.3 501.9 L1765.8 500.9 L1767.3 499.9 L1768.7 498.9 L1770.2 497.9 L1771.7 496.9 L1773.2 495.9 L1774.7 494.8 L1776.1 493.8 L1777.6 492.8 L1779.0 491.7 L1780.5 490.6 L1781.9 489.6 L1783.4 488.5 L1784.8 487.4 L1786.2 486.3 L1787.6 485.2 L1789.0 484.1 L1790.5 483.0 L1791.9 481.8 L1793.3 480.7 L1794.6 479.6 L1796.0 478.4 L1797.4 477.3 L1798.8 476.1 L1800.2 474.9 L1801.5 473.8 L1802.9 472.6 L1804.2 471.4 L1805.6 470.2 L1806.9 469.0 L1808.2 467.8 L1809.6 466.6 L1810.9 465.3 L1812.2 464.1 L1813.5 462.9 L1814.8 461.7 L1816.1 460.4 L1817.4 459.2 L1818.7 457.9 L1819.9 456.7 L1821.2 455.4 L1822.5 454.1 L1823.7 452.9 L1825.0 451.6 L1826.2 450.3 L1827.5 449.0 L1828.7 447.7 L1829.9 446.4 L1831.2 445.1 L1832.4 443.8 L1833.6 442.5 L1834.8 441.2 L1836.0 439.9 L1837.2 438.6 L1838.4 437.2 L1839.5 435.9 L1840.7 434.6 L1841.9 433.2 L1843.1 431.9 L1844.2 430.5 L1845.4 429.2 L1846.5 427.8 L1847.7 426.4 L1848.8 425.1 L1849.9 423.7 L1851.1 422.3 L1852.2 420.9 L1853.3 419.6 L1854.4 418.2 L1855.5 416.8 L1856.6 415.4 L1857.7 414.0 L1858.8 412.6 L1859.9 411.2 L1861.0 409.8 L1862.1 408.3 L1863.1 406.9 L1864.2 405.5 L1865.3 404.1 L1866.3 402.6 L1867.4 401.2 L1868.4 399.8 L1869.5 398.3 L1870.5 396.9 L1871.5 395.5 L1872.6 394.0 L1873.6 392.6 L1874.6 391.1 L1875.6 389.6 L1876.7 388.2 L1877.7 386.7 L1878.7 385.2 L1879.7 383.8 L1880.7 382.3 L1881.7 380.8 L1882.6 379.3 L1883.6 377.9 L1884.6 376.4 L1885.6 374.9 L1886.5 373.4 L1887.5 371.9 L1888.5 370.4 L1889.4 368.9 L1890.4 367.4 L1891.3 365.9 L1892.3 364.4 L1893.2 362.9 L1894.2 361.4 L1895.1 359.9 L1896.0 358.4 L1897.0 356.9 L1897.9 355.3 L1898.8 353.8 L1899.7 352.3 L1900.6 350.8 L1901.6 349.2 L1902.5 347.7 L1903.4 346.2 L1904.3 344.7 L1905.2 343.1 L1906.1 341.6 L1906.9 340.1 L1907.8 338.5 L1908.7 337.0 L1909.6 335.4 L1910.5 333.9 L1911.4 332.3 L1912.2 330.8 L1913.1 329.2 L1914.0 327.7 L1914.8 326.1 L1915.7 324.6 L1916.5 323.0 L1917.4 321.5 L1918.3 319.9 L1919.1 318.4 L1920.0 316.8 L1920.8 315.3 L1921.6 313.7 L1922.5 312.1 L1923.3 310.6 L1924.2 309.0 L1925.0 307.4 L1925.8 305.9 L1926.7 304.3 L1927.5 302.7 L1928.3 301.2 L1929.2 299.6 L1930.0 298.0 L1930.8 296.4 L1931.6 294.9 L1932.5 293.3 L1933.3 291.7 L1934.1 290.1 L1934.9 288.6 L1935.7 287.0 L1936.5 285.4 L1937.4 283.8 L1938.2 282.3 L1939.0 280.7 L1939.8 279.1 L1940.6 277.5 L1941.4 275.9 L1942.2 274.3 L1943.1 272.8 L1943.9 271.2 L1944.7 269.6 L1945.5 268.0 L1946.3 266.4 L1947.1 264.8 L1947.9 263.3 L1948.7 261.7 L1949.5 260.1 L1950.3 258.5 L1951.2 256.9 L1952.0 255.3 L1952.8 253.7 L1953.6 252.2 L1954.4 250.6 L1955.2 249.0 L1956.0 247.4 L1956.8 245.8 L1957.7 244.2 L1958.5 242.6 L1959.3 241.1 L1960.1 239.5 L1960.9 237.9 L1961.8 236.3 L1962.6 234.7 L1963.4 233.1 L1964.2 231.5 L1965.0 230.0 L1965.9 228.4 L1966.7 226.8 L1967.5 225.2 L1968.4 223.6 L1969.2 222.0 L1970.0 220.5 L1970.9 218.9 L1971.7 217.3 L1972.5 215.7 L1973.4 214.1 L1974.2 212.6 L1975.1 211.0 L1975.9 209.4 L1976.8 207.8 L1977.6 206.3 L1978.5 204.7 L1979.4 203.1 L1980.2 201.5 L1981.1 200.0 L1981.9 198.4 L1982.8 196.8 L1983.7 195.3 L1984.6 193.7 L1985.4 192.1 L1986.3 190.6 L1987.2 189.0 L1988.1 187.5 L1989.0 185.9 L1989.9 184.4 L1990.8 182.8 L1991.7 181.3 L1992.6 179.7 L1993.5 178.2 L1994.4 176.7 L1995.3 175.1 L1996.3 173.6 L1997.2 172.1 L1998.1 170.5 L1999.0 169.0 L2000.0 167.5 L2000.9 166.0 L2001.9 164.4 L2002.8 162.9 L2003.8 161.4 L2004.7 159.9 L2005.7 158.4 L2006.7 156.9 L2007.6 155.4 L2008.6 153.9 L2009.6 152.4 L2010.6 150.9 L2011.6 149.5 L2012.6 148.0 L2013.6 146.5 L2014.6 145.1 L2015.6 143.6 L2016.6 142.1 L2017.7 140.7 L2018.7 139.2 L2019.7 137.8 L2020.8 136.3 L2021.8 134.9 L2022.9 133.5 L2023.9 132.0 L2025.0 130.6 L2026.1 129.2 L2027.1 127.8 L2028.2 126.4 L2029.3 125.0 L2030.4 123.6 L2031.5 122.2 L2032.6 120.8 L2033.7 119.4 L2034.8 118.0 L2036.0 116.7 L2037.1 115.3 L2038.2 113.9 L2039.4 112.6 L2040.5 111.2 L2041.7 109.9 L2042.9 108.6 L2044.1 107.2 L2045.2 105.9 L2046.4 104.6 L2047.6 103.3 L2048.8 102.0 L2050.0 100.7 L2051.3 99.4 L2052.5 98.1 L2053.7 96.8 L2055.0 95.6 L2056.2 94.3 L2057.5 93.1 L2058.8 91.8 L2060.0 90.6 L2061.3 89.4 L2062.6 88.2 L2063.9 87.0 L2065.3 85.8 L2066.6 84.7 L2068.0 83.5 L2069.3 82.4 L2070.7 81.3 L2072.1 80.2 L2073.5 79.1 L2074.9 78.1 L2076.3 77.1 L2077.7 76.1 L2079.2 75.1 L2080.7 74.1 L2082.2 73.2 L2083.7 72.3 L2085.2 71.4 L2086.7 70.5 L2088.3 69.7 L2089.8 68.9 L2091.4 68.1 L2093.0 67.3 L2094.6 66.6 L2096.2 65.9 L2097.8 65.2 L2099.5 64.5 L2101.1 63.8 L2102.8 63.2 L2104.4 62.6 L2106.1 62.0 L2107.8 61.4 L2109.5 60.9 L2111.2 60.3 L2112.9 59.8 L2114.6 59.3 L2116.3 58.9 L2118.1 58.4 L2119.8 58.0 L2121.6 57.5 L2123.3 57.1 L2125.1 56.7 L2126.9 56.3 L2128.6 56.0 L2130.4 55.6 L2132.2 55.3 L2134.0 55.0 L2135.7 54.7 L2137.5 54.4 L2139.3 54.1 L2141.1 53.8 L2142.9 53.5 L2144.7 53.3 L2146.5 53.0 L2148.3 52.8 L2150.1 52.6 L2151.9 52.3 L2153.7 52.1 L2155.5 51.9 L2157.3 51.7 L2159.1 51.5 L2160.9 51.3 L2162.7 51.1 L2164.5 50.9 L2166.3 50.7 L2168.1 50.6 L2169.9 50.4 L2171.6 50.2 L2173.4 50.0 L2175.2 49.9 L2177.0 49.7 L2178.7 49.5 L2180.5 49.4 L2182.2 49.2 L2184.0 49.0 L2185.7 48.8 L2187.5 48.6 L2189.2 48.4 L2190.9 48.3 L2192.6 48.1 L2194.3 47.9 L2196.0 47.7 L2196.5 47.6" fill="none" stroke="#CC33FF" stroke-width="5.4" stroke-linecap="round" stroke-linejoin="round"/>
<path d="M1415.5 535.2 L1417.2 535.1 L1419.0 534.9 L1420.7 534.8 L1422.5 534.6 L1424.2 534.5 L1426.0 534.4 L1427.7 534.2 L1429.5 534.1 L1431.2 534.0 L1432.9 533.9 L1434.7 533.7 L1436.4 533.6 L1438.2 533.5 L1439.9 533.4 L1441.7 533.3 L1443.4 533.2 L1445.2 533.1 L1446.9 533.0 L1448.6 532.9 L1450.4 532.8 L1452.1 532.7 L1453.9 532.7 L1455.6 532.6 L1457.4 532.5 L1459.1 532.4 L1460.9 532.3 L1462.6 532.3 L1464.3 532.2 L1466.1 532.1 L1467.8 532.1 L1469.6 532.0 L1471.3 531.9 L1473.1 531.9 L1474.8 531.8 L1476.6 531.7 L1478.3 531.7 L1480.0 531.6 L1481.8 531.6 L1483.5 531.5 L1485.3 531.5 L1487.0 531.4 L1488.8 531.4 L1490.5 531.3 L1492.3 531.3 L1494.0 531.2 L1495.7 531.2 L1497.5 531.1 L1499.2 531.1 L1501.0 531.1 L1502.7 531.0 L1504.5 531.0 L1506.2 530.9 L1508.0 530.9 L1509.7 530.9 L1511.4 530.8 L1513.2 530.8 L1514.9 530.7 L1516.7 530.7 L1518.4 530.7 L1520.2 530.6 L1521.9 530.6 L1523.7 530.6 L1525.4 530.5 L1527.1 530.5 L1528.9 530.4 L1530.6 530.4 L1532.4 530.4 L1534.1 530.3 L1535.9 530.3 L1537.6 530.2 L1539.3 530.2 L1541.1 530.2 L1542.8 530.1 L1544.6 530.1 L1546.3 530.0 L1548.1 530.0 L1549.8 529.9 L1551.6 529.9 L1553.3 529.9 L1555.0 529.8 L1556.8 529.8 L1558.5 529.7 L1560.3 529.7 L1562.0 529.6 L1563.8 529.5 L1565.5 529.5 L1567.2 529.4 L1569.0 529.4 L1570.7 529.3 L1572.5 529.2 L1574.2 529.2 L1576.0 529.1 L1577.7 529.0 L1579.5 529.0 L1581.2 528.9 L1582.9 528.8 L1584.7 528.7 L1586.4 528.7 L1588.2 528.6 L1589.9 528.5 L1591.7 528.4 L1593.4 528.3 L1595.1 528.2 L1596.9 528.1 L1598.6 528.0 L1600.4 527.9 L1602.1 527.8 L1603.9 527.7 L1605.6 527.6 L1607.3 527.5 L1609.1 527.4 L1610.8 527.3 L1612.6 527.1 L1614.3 527.0 L1616.1 526.9 L1617.8 526.7 L1619.6 526.6 L1621.3 526.5 L1623.0 526.3 L1624.8 526.2 L1626.5 526.0 L1628.3 525.9 L1630.0 525.7 L1631.8 525.6 L1633.5 525.4 L1635.2 525.2 L1637.0 525.0 L1638.7 524.9 L1640.5 524.7 L1642.2 524.5 L1643.9 524.3 L1645.7 524.1 L1647.4 523.9 L1649.2 523.7 L1650.9 523.5 L1652.6 523.2 L1654.4 523.0 L1656.1 522.8 L1657.8 522.5 L1659.6 522.3 L1661.3 522.0 L1663.0 521.8 L1664.8 521.5 L1666.5 521.2 L1668.2 520.9 L1669.9 520.7 L1671.7 520.4 L1673.4 520.1 L1675.1 519.8 L1676.8 519.4 L1678.5 519.1 L1680.2 518.8 L1682.0 518.4 L1683.7 518.1 L1685.4 517.7 L1687.1 517.4 L1688.8 517.0 L1690.5 516.6 L1692.2 516.2 L1693.9 515.8 L1695.6 515.4 L1697.3 515.0 L1699.0 514.6 L1700.7 514.1 L1702.3 513.7 L1704.0 513.2 L1705.7 512.7 L1707.4 512.3 L1709.1 511.8 L1710.7 511.3 L1712.4 510.8 L1714.1 510.3 L1715.7 509.7 L1717.4 509.2 L1719.0 508.6 L1720.7 508.1 L1722.4 507.5 L1724.0 506.9 L1725.6 506.3 L1727.3 505.7 L1728.9 505.1 L1730.6 504.5 L1732.2 503.8 L1733.8 503.2 L1735.4 502.5 L1737.0 501.8 L1738.7 501.2 L1740.3 500.5 L1741.9 499.8 L1743.5 499.0 L1745.1 498.3 L1746.6 497.6 L1748.2 496.8 L1749.8 496.1 L1751.4 495.3 L1752.9 494.5 L1754.5 493.7 L1756.1 492.9 L1757.6 492.1 L1759.1 491.3 L1760.7 490.4 L1762.2 489.6 L1763.7 488.7 L1765.3 487.8 L1766.8 487.0 L1768.3 486.1 L1769.8 485.2 L1771.3 484.3 L1772.8 483.3 L1774.2 482.4 L1775.7 481.4 L1777.2 480.5 L1778.6 479.5 L1780.1 478.5 L1781.5 477.6 L1782.9 476.6 L1784.4 475.5 L1785.8 474.5 L1787.2 473.5 L1788.6 472.5 L1790.0 471.4 L1791.4 470.3 L1792.7 469.3 L1794.1 468.2 L1795.5 467.1 L1796.8 466.0 L1798.1 464.9 L1799.5 463.7 L1800.8 462.6 L1802.1 461.4 L1803.4 460.3 L1804.7 459.1 L1806.0 457.9 L1807.2 456.7 L1808.5 455.5 L1809.8 454.3 L1811.0 453.1 L1812.2 451.9 L1813.5 450.7 L1814.7 449.4 L1815.9 448.2 L1817.1 446.9 L1818.3 445.6 L1819.5 444.4 L1820.7 443.1 L1821.9 441.8 L1823.0 440.5 L1824.2 439.2 L1825.3 437.9 L1826.5 436.5 L1827.6 435.2 L1828.8 433.9 L1829.9 432.6 L1831.1 431.2 L1832.2 429.9 L1833.3 428.5 L1834.4 427.2 L1835.5 425.8 L1836.6 424.5 L1837.7 423.1 L1838.8 421.7 L1839.9 420.4 L1841.0 419.0 L1842.1 417.6 L1843.2 416.2 L1844.3 414.8 L1845.4 413.5 L1846.4 412.1 L1847.5 410.7 L1848.6 409.3 L1849.7 407.9 L1850.7 406.5 L1851.8 405.1 L1852.9 403.7 L1853.9 402.4 L1855.0 401.0 L1856.1 399.6 L1857.1 398.2 L1858.2 396.8 L1859.3 395.4 L1860.3 394.0 L1861.4 392.6 L1862.5 391.2 L1863.5 389.9 L1864.6 388.5 L1865.6 387.1 L1866.7 385.7 L1867.8 384.3 L1868.8 382.9 L1869.9 381.6 L1870.9 380.2 L1872.0 378.8 L1873.0 377.4 L1874.1 376.0 L1875.2 374.6 L1876.2 373.2 L1877.3 371.8 L1878.3 370.5 L1879.4 369.1 L1880.4 367.7 L1881.4 366.3 L1882.5 364.9 L1883.5 363.5 L1884.6 362.1 L1885.6 360.7 L1886.6 359.3 L1887.7 357.9 L1888.7 356.5 L1889.7 355.1 L1890.8 353.8 L1891.8 352.4 L1892.8 351.0 L1893.8 349.6 L1894.9 348.1 L1895.9 346.7 L1896.9 345.3 L1897.9 343.9 L1898.9 342.5 L1899.9 341.1 L1900.9 339.7 L1902.0 338.3 L1903.0 336.9 L1904.0 335.4 L1905.0 334.0 L1905.9 332.6 L1906.9 331.2 L1907.9 329.8 L1908.9 328.3 L1909.9 326.9 L1910.9 325.5 L1911.9 324.0 L1912.8 322.6 L1913.8 321.1 L1914.8 319.7 L1915.7 318.3 L1916.7 316.8 L1917.7 315.4 L1918.6 313.9 L1919.6 312.5 L1920.5 311.0 L1921.5 309.5 L1922.4 308.1 L1923.4 306.6 L1924.3 305.1 L1925.2 303.7 L1926.2 302.2 L1927.1 300.7 L1928.0 299.2 L1929.0 297.7 L1929.9 296.3 L1930.8 294.8 L1931.7 293.3 L1932.6 291.8 L1933.5 290.3 L1934.4 288.8 L1935.3 287.3 L1936.2 285.8 L1937.1 284.3 L1938.0 282.8 L1938.9 281.3 L1939.8 279.8 L1940.7 278.3 L1941.6 276.8 L1942.5 275.2 L1943.4 273.7 L1944.3 272.2 L1945.2 270.7 L1946.1 269.2 L1946.9 267.7 L1947.8 266.1 L1948.7 264.6 L1949.6 263.1 L1950.5 261.6 L1951.3 260.0 L1952.2 258.5 L1953.1 257.0 L1954.0 255.5 L1954.8 253.9 L1955.7 252.4 L1956.6 250.9 L1957.5 249.4 L1958.3 247.8 L1959.2 246.3 L1960.1 244.8 L1961.0 243.2 L1961.8 241.7 L1962.7 240.2 L1963.6 238.7 L1964.4 237.1 L1965.3 235.6 L1966.2 234.1 L1967.1 232.5 L1967.9 231.0 L1968.8 229.5 L1969.7 228.0 L1970.6 226.4 L1971.4 224.9 L1972.3 223.4 L1973.2 221.9 L1974.1 220.3 L1974.9 218.8 L1975.8 217.3 L1976.7 215.8 L1977.6 214.2 L1978.5 212.7 L1979.4 211.2 L1980.2 209.7 L1981.1 208.2 L1982.0 206.7 L1982.9 205.1 L1983.8 203.6 L1984.7 202.1 L1985.6 200.6 L1986.5 199.1 L1987.4 197.6 L1988.3 196.1 L1989.2 194.6 L1990.1 193.1 L1991.0 191.6 L1991.9 190.1 L1992.9 188.6 L1993.8 187.1 L1994.7 185.6 L1995.6 184.1 L1996.5 182.6 L1997.5 181.2 L1998.4 179.7 L1999.3 178.2 L2000.3 176.7 L2001.2 175.2 L2002.1 173.8 L2003.1 172.3 L2004.0 170.8 L2005.0 169.4 L2005.9 167.9 L2006.9 166.5 L2007.9 165.0 L2008.8 163.6 L2009.8 162.1 L2010.8 160.7 L2011.8 159.2 L2012.7 157.8 L2013.7 156.3 L2014.7 154.9 L2015.7 153.5 L2016.7 152.1 L2017.7 150.6 L2018.7 149.2 L2019.7 147.8 L2020.8 146.4 L2021.8 145.0 L2022.8 143.6 L2023.8 142.2 L2024.9 140.8 L2025.9 139.4 L2027.0 138.0 L2028.0 136.7 L2029.1 135.3 L2030.1 133.9 L2031.2 132.6 L2032.3 131.2 L2033.3 129.8 L2034.4 128.5 L2035.5 127.1 L2036.6 125.8 L2037.7 124.4 L2038.8 123.1 L2039.9 121.8 L2041.0 120.5 L2042.2 119.1 L2043.3 117.8 L2044.4 116.5 L2045.6 115.2 L2046.7 113.9 L2047.9 112.6 L2049.0 111.3 L2050.2 110.1 L2051.4 108.8 L2052.5 107.5 L2053.7 106.2 L2054.9 105.0 L2056.1 103.7 L2057.3 102.5 L2058.5 101.2 L2059.8 100.0 L2061.0 98.8 L2062.2 97.6 L2063.5 96.4 L2064.7 95.1 L2066.0 93.9 L2067.2 92.8 L2068.5 91.6 L2069.8 90.4 L2071.1 89.3 L2072.4 88.1 L2073.7 87.0 L2075.0 85.8 L2076.4 84.7 L2077.7 83.6 L2079.0 82.6 L2080.4 81.5 L2081.8 80.4 L2083.1 79.4 L2084.5 78.4 L2085.9 77.3 L2087.3 76.4 L2088.8 75.4 L2090.2 74.4 L2091.6 73.5 L2093.1 72.6 L2094.6 71.7 L2096.0 70.8 L2097.5 69.9 L2099.0 69.1 L2100.5 68.2 L2102.1 67.4 L2103.6 66.7 L2105.2 65.9 L2106.7 65.2 L2108.3 64.5 L2109.9 63.8 L2111.5 63.1 L2113.1 62.5 L2114.7 61.8 L2116.3 61.2 L2118.0 60.6 L2119.6 60.1 L2121.3 59.5 L2123.0 59.0 L2124.7 58.5 L2126.3 58.0 L2128.0 57.5 L2129.7 57.1 L2131.5 56.6 L2133.2 56.2 L2134.9 55.8 L2136.6 55.4 L2138.4 55.0 L2140.1 54.6 L2141.8 54.3 L2143.6 53.9 L2145.3 53.6 L2147.1 53.3 L2148.8 53.0 L2150.6 52.7 L2152.4 52.4 L2154.1 52.1 L2155.9 51.9 L2157.7 51.6 L2159.4 51.4 L2161.2 51.1 L2163.0 50.9 L2164.7 50.7 L2166.5 50.5 L2168.3 50.3 L2170.0 50.1 L2171.8 49.9 L2173.6 49.7 L2175.3 49.5 L2177.1 49.4 L2178.8 49.2 L2180.6 49.0 L2182.3 48.9 L2184.0 48.7 L2185.8 48.6 L2187.5 48.4 L2189.2 48.2 L2190.9 48.1 L2192.6 47.9 L2194.3 47.8 L2196.0 47.6 L2196.5 47.6" fill="none" stroke="#595959" stroke-width="6.2" stroke-linecap="round" stroke-dasharray="0 12.85"/>
<path d="M1412.8 595.6 L1414.6 595.2 L1416.4 594.8 L1418.3 594.4 L1420.1 594.1 L1421.9 593.7 L1423.7 593.4 L1425.5 593.0 L1427.4 592.7 L1429.2 592.4 L1431.0 592.0 L1432.8 591.7 L1434.6 591.5 L1436.5 591.2 L1438.3 590.9 L1440.1 590.6 L1441.9 590.4 L1443.8 590.1 L1445.6 589.9 L1447.4 589.6 L1449.2 589.4 L1451.1 589.2 L1452.9 589.0 L1454.7 588.8 L1456.5 588.6 L1458.4 588.4 L1460.2 588.2 L1462.0 588.0 L1463.8 587.9 L1465.7 587.7 L1467.5 587.6 L1469.3 587.4 L1471.2 587.3 L1473.0 587.1 L1474.8 587.0 L1476.6 586.9 L1478.5 586.8 L1480.3 586.7 L1482.1 586.6 L1484.0 586.5 L1485.8 586.4 L1487.6 586.3 L1489.5 586.2 L1491.3 586.1 L1493.1 586.0 L1495.0 586.0 L1496.8 585.9 L1498.6 585.8 L1500.5 585.8 L1502.3 585.7 L1504.1 585.7 L1506.0 585.6 L1507.8 585.6 L1509.6 585.6 L1511.5 585.5 L1513.3 585.5 L1515.1 585.5 L1517.0 585.4 L1518.8 585.4 L1520.7 585.4 L1522.5 585.4 L1524.3 585.4 L1526.2 585.4 L1528.0 585.4 L1529.8 585.4 L1531.7 585.4 L1533.5 585.4 L1535.4 585.4 L1537.2 585.4 L1539.0 585.4 L1540.9 585.4 L1542.7 585.4 L1544.6 585.4 L1546.4 585.4 L1548.2 585.4 L1550.1 585.4 L1551.9 585.4 L1553.8 585.4 L1555.6 585.4 L1557.5 585.5 L1559.3 585.5 L1561.1 585.5 L1563.0 585.5 L1564.8 585.5 L1566.7 585.5 L1568.5 585.5 L1570.4 585.5 L1572.2 585.5 L1574.0 585.5 L1575.9 585.6 L1577.7 585.6 L1579.6 585.6 L1581.4 585.6 L1583.3 585.6 L1585.1 585.6 L1587.0 585.6 L1588.8 585.6 L1590.7 585.6 L1592.5 585.6 L1594.4 585.5 L1596.2 585.5 L1598.0 585.5 L1599.9 585.5 L1601.7 585.5 L1603.6 585.5 L1605.4 585.4 L1607.3 585.4 L1609.1 585.4 L1611.0 585.3 L1612.8 585.3 L1614.7 585.2 L1616.5 585.2 L1618.4 585.1 L1620.2 585.1 L1622.1 585.0 L1623.9 585.0 L1625.8 584.9 L1627.6 584.8 L1629.5 584.7 L1631.3 584.6 L1633.2 584.5 L1635.0 584.4 L1636.9 584.3 L1638.7 584.1 L1640.5 584.0 L1642.4 583.8 L1644.2 583.7 L1646.1 583.5 L1647.9 583.3 L1649.7 583.1 L1651.5 582.9 L1653.4 582.7 L1655.2 582.4 L1657.0 582.1 L1658.8 581.9 L1660.6 581.6 L1662.4 581.3 L1664.2 580.9 L1666.0 580.6 L1667.8 580.2 L1669.6 579.8 L1671.4 579.4 L1673.2 579.0 L1675.0 578.5 L1676.8 578.1 L1678.5 577.6 L1680.3 577.1 L1682.0 576.5 L1683.8 576.0 L1685.5 575.4 L1687.3 574.8 L1689.0 574.1 L1690.7 573.4 L1692.5 572.8 L1694.2 572.0 L1695.9 571.3 L1697.6 570.5 L1699.3 569.8 L1700.7 569.1 L1702.2 568.4 L1703.6 567.7 L1705.0 566.9 L1706.4 566.2 L1707.9 565.4 L1709.3 564.7 L1710.7 563.9 L1712.1 563.1 L1713.5 562.3 L1714.9 561.5 L1716.3 560.7 L1717.7 559.8 L1719.0 559.0 L1720.4 558.2 L1721.8 557.3 L1723.1 556.5 L1724.7 555.5 L1726.3 554.5 L1727.8 553.5 L1729.4 552.4 L1730.9 551.4 L1732.5 550.4 L1734.0 549.3 L1735.5 548.3 L1737.0 547.2 L1738.5 546.1 L1740.0 545.1 L1741.5 544.0 L1743.0 542.9 L1744.5 541.8 L1745.9 540.7 L1747.4 539.6 L1748.8 538.4 L1750.3 537.3 L1751.7 536.2 L1753.2 535.0 L1754.6 533.9 L1756.0 532.7 L1757.4 531.6 L1758.8 530.4 L1760.2 529.2 L1761.6 528.0 L1763.0 526.8 L1764.3 525.6 L1765.7 524.4 L1767.1 523.2 L1768.4 522.0 L1769.8 520.7 L1771.1 519.5 L1772.4 518.3 L1773.8 517.0 L1775.1 515.8 L1776.4 514.5 L1777.7 513.2 L1779.0 512.0 L1780.3 510.7 L1781.6 509.4 L1782.9 508.1 L1784.1 506.8 L1785.4 505.5 L1786.7 504.2 L1787.9 502.9 L1789.2 501.5 L1790.4 500.2 L1791.6 498.9 L1792.9 497.5 L1794.1 496.2 L1795.3 494.8 L1796.5 493.5 L1797.7 492.1 L1798.9 490.7 L1800.1 489.4 L1801.3 488.0 L1802.5 486.6 L1803.7 485.2 L1804.8 483.8 L1806.0 482.4 L1807.1 481.0 L1808.3 479.6 L1809.4 478.2 L1810.6 476.8 L1811.7 475.3 L1812.8 473.9 L1814.0 472.5 L1815.1 471.0 L1816.2 469.6 L1817.3 468.1 L1818.4 466.7 L1819.5 465.2 L1820.6 463.7 L1821.7 462.3 L1822.8 460.8 L1823.9 459.3 L1824.9 457.8 L1826.0 456.4 L1827.1 454.9 L1828.1 453.4 L1829.2 451.9 L1830.2 450.4 L1831.3 448.9 L1832.3 447.3 L1833.3 445.8 L1834.3 444.3 L1835.4 442.8 L1836.4 441.2 L1837.4 439.7 L1838.4 438.2 L1839.4 436.6 L1840.4 435.1 L1841.4 433.5 L1842.4 432.0 L1843.4 430.4 L1844.4 428.9 L1845.4 427.3 L1846.3 425.8 L1847.3 424.2 L1848.3 422.6 L1849.2 421.0 L1850.2 419.5 L1851.1 417.9 L1852.1 416.3 L1853.0 414.7 L1854.0 413.1 L1854.9 411.5 L1855.8 409.9 L1856.8 408.3 L1857.7 406.7 L1858.6 405.1 L1859.5 403.5 L1860.4 401.9 L1861.3 400.3 L1862.3 398.7 L1863.2 397.1 L1864.1 395.5 L1865.0 393.8 L1865.8 392.2 L1866.7 390.6 L1867.6 389.0 L1868.5 387.3 L1869.4 385.7 L1870.3 384.1 L1871.1 382.4 L1872.0 380.8 L1872.9 379.1 L1873.7 377.5 L1874.6 375.9 L1875.4 374.2 L1876.3 372.6 L1877.1 370.9 L1878.0 369.3 L1878.8 367.6 L1879.7 366.0 L1880.5 364.3 L1881.3 362.6 L1882.2 361.0 L1883.0 359.3 L1883.8 357.7 L1884.7 356.0 L1885.5 354.3 L1886.3 352.7 L1887.1 351.0 L1887.9 349.3 L1888.7 347.7 L1889.6 346.0 L1890.4 344.3 L1891.2 342.7 L1892.0 341.0 L1892.8 339.3 L1893.6 337.6 L1894.4 336.0 L1895.2 334.3 L1896.0 332.6 L1896.7 330.9 L1897.5 329.3 L1898.3 327.6 L1899.1 325.9 L1899.9 324.2 L1900.7 322.6 L1901.4 320.9 L1902.2 319.2 L1903.0 317.5 L1903.8 315.9 L1904.6 314.2 L1905.3 312.5 L1906.1 310.8 L1906.9 309.1 L1907.6 307.5 L1908.4 305.8 L1909.2 304.1 L1909.9 302.4 L1910.7 300.7 L1911.5 299.1 L1912.2 297.4 L1913.0 295.7 L1913.8 294.0 L1914.5 292.3 L1915.3 290.7 L1916.1 289.0 L1916.8 287.3 L1917.6 285.6 L1918.4 284.0 L1919.1 282.3 L1919.9 280.6 L1920.7 278.9 L1921.4 277.3 L1922.2 275.6 L1923.0 273.9 L1923.8 272.2 L1924.5 270.6 L1925.3 268.9 L1926.1 267.2 L1926.8 265.6 L1927.6 263.9 L1928.4 262.2 L1929.2 260.6 L1929.9 258.9 L1930.7 257.2 L1931.5 255.6 L1932.3 253.9 L1933.1 252.2 L1933.9 250.6 L1934.6 248.9 L1935.4 247.3 L1936.2 245.6 L1937.0 243.9 L1937.8 242.3 L1938.6 240.6 L1939.4 239.0 L1940.2 237.3 L1941.0 235.7 L1941.8 234.0 L1942.6 232.4 L1943.4 230.8 L1944.2 229.1 L1945.1 227.5 L1945.9 225.8 L1946.7 224.2 L1947.5 222.6 L1948.4 220.9 L1949.2 219.3 L1950.0 217.7 L1950.9 216.0 L1951.7 214.4 L1952.5 212.8 L1953.4 211.2 L1954.2 209.6 L1955.1 207.9 L1956.0 206.3 L1956.8 204.7 L1957.7 203.1 L1958.6 201.5 L1959.4 199.9 L1960.3 198.3 L1961.2 196.7 L1962.1 195.1 L1963.0 193.5 L1963.9 191.9 L1964.8 190.3 L1965.7 188.7 L1966.6 187.1 L1967.5 185.5 L1968.4 184.0 L1969.3 182.4 L1970.2 180.8 L1971.2 179.2 L1972.1 177.7 L1973.1 176.1 L1974.0 174.5 L1975.0 173.0 L1975.9 171.4 L1976.9 169.8 L1977.8 168.3 L1978.8 166.7 L1979.8 165.2 L1980.8 163.7 L1981.8 162.1 L1982.8 160.6 L1983.8 159.0 L1984.8 157.5 L1985.8 156.0 L1986.8 154.5 L1987.9 152.9 L1988.9 151.4 L1989.9 149.9 L1991.0 148.4 L1992.0 146.9 L1993.1 145.4 L1994.2 143.9 L1995.2 142.4 L1996.3 140.9 L1997.4 139.4 L1998.5 137.9 L1999.6 136.4 L2000.7 135.0 L2001.8 133.5 L2002.9 132.0 L2004.1 130.5 L2005.2 129.1 L2006.4 127.6 L2007.5 126.2 L2008.7 124.7 L2009.8 123.3 L2011.0 121.8 L2012.2 120.4 L2013.4 119.0 L2014.6 117.6 L2015.8 116.2 L2017.0 114.8 L2018.2 113.4 L2019.5 112.0 L2020.7 110.6 L2022.0 109.2 L2023.2 107.9 L2024.5 106.5 L2025.8 105.2 L2027.1 103.9 L2028.4 102.6 L2029.7 101.3 L2031.0 100.0 L2032.3 98.7 L2033.7 97.5 L2035.0 96.2 L2036.4 95.0 L2037.7 93.7 L2039.1 92.5 L2040.5 91.3 L2041.9 90.2 L2043.3 89.0 L2044.7 87.9 L2046.2 86.7 L2047.6 85.6 L2049.1 84.5 L2050.5 83.4 L2052.0 82.4 L2053.5 81.3 L2055.0 80.3 L2056.5 79.3 L2058.1 78.3 L2059.6 77.4 L2061.1 76.4 L2062.7 75.5 L2064.3 74.6 L2065.9 73.7 L2067.5 72.9 L2069.1 72.0 L2070.7 71.2 L2072.3 70.4 L2074.0 69.6 L2075.6 68.9 L2077.3 68.2 L2079.0 67.5 L2080.7 66.8 L2082.4 66.2 L2084.1 65.5 L2085.9 65.0 L2087.6 64.4 L2089.4 63.8 L2091.2 63.3 L2093.0 62.8 L2094.5 62.4 L2096.1 62.1 L2097.7 61.7 L2099.2 61.3 L2100.8 61.0 L2102.4 60.7 L2104.0 60.4 L2105.6 60.1 L2107.2 59.8 L2108.8 59.5 L2110.4 59.2 L2112.0 59.0 L2113.6 58.7 L2115.2 58.4 L2116.8 58.2 L2118.4 57.9 L2120.0 57.7 L2121.6 57.4 L2123.2 57.2 L2124.8 56.9 L2126.4 56.6 L2128.2 56.3 L2130.0 56.0 L2131.8 55.7 L2133.6 55.3 L2135.4 55.0 L2137.2 54.6 L2139.0 54.2 L2140.7 53.8 L2142.4 53.3 L2144.2 52.9 L2145.9 52.4 L2147.6 52.0 L2149.2 51.5 L2150.9 51.0 L2152.6 50.5 L2154.2 50.0 L2155.9 49.6 L2157.6 49.1 L2159.3 48.6 L2160.9 48.2 L2162.6 47.8 L2164.3 47.4 L2166.1 47.0 L2167.8 46.7 L2169.5 46.4 L2171.3 46.2 L2173.1 45.9 L2174.9 45.8 L2176.8 45.6 L2178.4 45.6 L2180.0 45.5 L2181.6 45.6 L2183.3 45.6 L2185.0 45.7 L2186.7 45.9 L2188.5 46.1 L2190.3 46.3 L2192.1 46.6 L2194.0 47.0 L2195.5 47.4 L2196.5 47.6" fill="none" stroke="#990099" stroke-width="5.4" stroke-linecap="round" stroke-linejoin="round"/>
<path d="M1419.8 585.7 L1421.6 585.4 L1423.4 585.0 L1425.2 584.7 L1427.0 584.4 L1428.8 584.1 L1430.6 583.9 L1432.5 583.6 L1434.3 583.3 L1436.1 583.1 L1437.9 582.8 L1439.7 582.6 L1441.5 582.4 L1443.3 582.2 L1445.1 582.0 L1446.9 581.8 L1448.8 581.6 L1450.6 581.4 L1452.4 581.3 L1454.2 581.1 L1456.0 581.0 L1457.8 580.8 L1459.6 580.7 L1461.4 580.6 L1463.3 580.5 L1465.1 580.4 L1466.9 580.3 L1468.7 580.2 L1470.5 580.1 L1472.3 580.0 L1474.1 579.9 L1476.0 579.9 L1477.8 579.8 L1479.6 579.7 L1481.4 579.7 L1483.2 579.6 L1485.0 579.6 L1486.9 579.6 L1488.7 579.5 L1490.5 579.5 L1492.3 579.5 L1494.1 579.5 L1495.9 579.5 L1497.8 579.5 L1499.6 579.5 L1501.4 579.5 L1503.2 579.5 L1505.0 579.5 L1506.8 579.5 L1508.7 579.5 L1510.5 579.5 L1512.3 579.6 L1514.1 579.6 L1515.9 579.6 L1517.8 579.6 L1519.6 579.7 L1521.4 579.7 L1523.2 579.7 L1525.0 579.8 L1526.9 579.8 L1528.7 579.9 L1530.5 579.9 L1532.3 579.9 L1534.1 580.0 L1536.0 580.0 L1537.8 580.1 L1539.6 580.1 L1541.4 580.2 L1543.2 580.2 L1545.1 580.3 L1546.9 580.3 L1548.7 580.3 L1550.5 580.4 L1552.3 580.4 L1554.2 580.5 L1556.0 580.5 L1557.8 580.5 L1559.6 580.6 L1561.5 580.6 L1563.3 580.6 L1565.1 580.7 L1566.9 580.7 L1568.7 580.7 L1570.6 580.8 L1572.4 580.8 L1574.2 580.8 L1576.0 580.8 L1577.8 580.8 L1579.7 580.8 L1581.5 580.8 L1583.3 580.8 L1585.1 580.8 L1587.0 580.8 L1588.8 580.8 L1590.6 580.8 L1592.4 580.7 L1594.3 580.7 L1596.1 580.7 L1597.9 580.6 L1599.7 580.6 L1601.5 580.6 L1603.4 580.5 L1605.2 580.4 L1607.0 580.4 L1608.8 580.3 L1610.7 580.2 L1612.5 580.1 L1614.3 580.0 L1616.1 579.9 L1617.9 579.8 L1619.8 579.7 L1621.6 579.6 L1623.4 579.4 L1625.2 579.3 L1627.1 579.2 L1628.9 579.0 L1630.7 578.8 L1632.5 578.7 L1634.3 578.5 L1636.2 578.3 L1638.0 578.1 L1639.8 577.9 L1641.6 577.7 L1643.4 577.4 L1645.2 577.2 L1647.1 577.0 L1648.9 576.7 L1650.7 576.4 L1652.5 576.2 L1654.3 575.9 L1656.1 575.6 L1657.9 575.3 L1659.7 574.9 L1661.5 574.6 L1663.3 574.3 L1665.1 573.9 L1666.8 573.5 L1668.6 573.2 L1670.4 572.8 L1672.2 572.4 L1673.9 572.0 L1675.7 571.5 L1677.5 571.1 L1679.2 570.7 L1681.0 570.2 L1682.7 569.7 L1684.5 569.2 L1686.2 568.7 L1688.0 568.2 L1689.7 567.7 L1691.4 567.1 L1693.1 566.6 L1694.8 566.0 L1696.6 565.4 L1698.3 564.8 L1700.0 564.2 L1701.6 563.6 L1703.3 562.9 L1705.0 562.3 L1706.7 561.6 L1708.3 560.9 L1710.0 560.2 L1711.7 559.5 L1713.3 558.7 L1714.9 558.0 L1716.6 557.2 L1718.2 556.4 L1719.8 555.6 L1721.4 554.8 L1723.0 554.0 L1724.6 553.1 L1726.2 552.2 L1727.8 551.4 L1729.3 550.5 L1730.9 549.6 L1732.5 548.6 L1734.0 547.7 L1735.5 546.7 L1737.1 545.8 L1738.6 544.8 L1740.1 543.8 L1741.6 542.8 L1743.1 541.7 L1744.6 540.7 L1746.1 539.6 L1747.6 538.6 L1749.1 537.5 L1750.5 536.4 L1752.0 535.3 L1753.4 534.2 L1754.9 533.1 L1756.3 531.9 L1757.8 530.8 L1759.2 529.6 L1760.6 528.5 L1762.0 527.3 L1763.4 526.1 L1764.8 524.9 L1766.2 523.7 L1767.6 522.5 L1769.0 521.2 L1770.3 520.0 L1771.7 518.8 L1773.0 517.5 L1774.4 516.2 L1775.7 515.0 L1777.1 513.7 L1778.4 512.4 L1779.7 511.1 L1781.0 509.8 L1782.4 508.5 L1783.7 507.2 L1785.0 505.9 L1786.2 504.5 L1787.5 503.2 L1788.8 501.9 L1790.1 500.5 L1791.3 499.2 L1792.6 497.8 L1793.9 496.5 L1795.1 495.1 L1796.3 493.7 L1797.6 492.4 L1798.8 491.0 L1800.0 489.6 L1801.2 488.2 L1802.5 486.8 L1803.7 485.4 L1804.9 484.1 L1806.1 482.7 L1807.2 481.3 L1808.4 479.8 L1809.6 478.4 L1810.8 477.0 L1811.9 475.6 L1813.1 474.2 L1814.2 472.8 L1815.4 471.3 L1816.5 469.9 L1817.6 468.5 L1818.8 467.0 L1819.9 465.6 L1821.0 464.1 L1822.1 462.7 L1823.2 461.2 L1824.3 459.8 L1825.4 458.3 L1826.4 456.8 L1827.5 455.4 L1828.6 453.9 L1829.6 452.4 L1830.7 450.9 L1831.7 449.5 L1832.8 448.0 L1833.8 446.5 L1834.9 445.0 L1835.9 443.5 L1836.9 442.0 L1837.9 440.5 L1838.9 439.0 L1840.0 437.5 L1841.0 436.0 L1842.0 434.5 L1842.9 433.0 L1843.9 431.4 L1844.9 429.9 L1845.9 428.4 L1846.9 426.9 L1847.9 425.4 L1848.8 423.8 L1849.8 422.3 L1850.8 420.8 L1851.7 419.2 L1852.7 417.7 L1853.6 416.2 L1854.6 414.6 L1855.5 413.1 L1856.5 411.5 L1857.4 410.0 L1858.4 408.4 L1859.3 406.9 L1860.2 405.3 L1861.1 403.8 L1862.1 402.2 L1863.0 400.7 L1863.9 399.1 L1864.8 397.5 L1865.7 396.0 L1866.6 394.4 L1867.5 392.8 L1868.4 391.2 L1869.3 389.7 L1870.2 388.1 L1871.1 386.5 L1872.0 384.9 L1872.9 383.4 L1873.7 381.8 L1874.6 380.2 L1875.5 378.6 L1876.3 377.0 L1877.2 375.4 L1878.1 373.8 L1878.9 372.2 L1879.8 370.6 L1880.6 369.0 L1881.5 367.4 L1882.3 365.8 L1883.2 364.2 L1884.0 362.6 L1884.9 361.0 L1885.7 359.4 L1886.5 357.8 L1887.3 356.1 L1888.2 354.5 L1889.0 352.9 L1889.8 351.3 L1890.6 349.7 L1891.4 348.0 L1892.3 346.4 L1893.1 344.8 L1893.9 343.1 L1894.7 341.5 L1895.5 339.9 L1896.3 338.2 L1897.1 336.6 L1897.9 335.0 L1898.6 333.3 L1899.4 331.7 L1900.2 330.0 L1901.0 328.4 L1901.8 326.7 L1902.6 325.1 L1903.3 323.4 L1904.1 321.8 L1904.9 320.1 L1905.6 318.5 L1906.4 316.8 L1907.2 315.2 L1908.0 313.5 L1908.7 311.8 L1909.5 310.2 L1910.2 308.5 L1911.0 306.9 L1911.8 305.2 L1912.5 303.5 L1913.3 301.9 L1914.0 300.2 L1914.8 298.5 L1915.5 296.9 L1916.3 295.2 L1917.1 293.5 L1917.8 291.9 L1918.6 290.2 L1919.3 288.5 L1920.1 286.9 L1920.8 285.2 L1921.6 283.5 L1922.3 281.9 L1923.1 280.2 L1923.8 278.5 L1924.6 276.9 L1925.3 275.2 L1926.1 273.5 L1926.9 271.9 L1927.6 270.2 L1928.4 268.5 L1929.1 266.9 L1929.9 265.2 L1930.6 263.5 L1931.4 261.9 L1932.2 260.2 L1932.9 258.5 L1933.7 256.9 L1934.4 255.2 L1935.2 253.6 L1936.0 251.9 L1936.7 250.2 L1937.5 248.6 L1938.3 246.9 L1939.1 245.3 L1939.8 243.6 L1940.6 242.0 L1941.4 240.3 L1942.2 238.7 L1943.0 237.0 L1943.8 235.4 L1944.5 233.7 L1945.3 232.1 L1946.1 230.4 L1946.9 228.8 L1947.7 227.1 L1948.5 225.5 L1949.3 223.9 L1950.1 222.2 L1950.9 220.6 L1951.8 219.0 L1952.6 217.3 L1953.4 215.7 L1954.2 214.1 L1955.0 212.5 L1955.9 210.8 L1956.7 209.2 L1957.6 207.6 L1958.4 206.0 L1959.2 204.4 L1960.1 202.8 L1960.9 201.2 L1961.8 199.6 L1962.7 198.0 L1963.5 196.4 L1964.4 194.8 L1965.3 193.2 L1966.1 191.6 L1967.0 190.0 L1967.9 188.4 L1968.8 186.8 L1969.7 185.3 L1970.6 183.7 L1971.5 182.1 L1972.4 180.5 L1973.3 179.0 L1974.3 177.4 L1975.2 175.9 L1976.1 174.3 L1977.1 172.8 L1978.0 171.2 L1979.0 169.7 L1979.9 168.1 L1980.9 166.6 L1981.8 165.0 L1982.8 163.5 L1983.8 162.0 L1984.8 160.5 L1985.8 159.0 L1986.8 157.4 L1987.8 155.9 L1988.8 154.4 L1989.8 152.9 L1990.8 151.4 L1991.9 149.9 L1992.9 148.4 L1993.9 147.0 L1995.0 145.5 L1996.0 144.0 L1997.1 142.5 L1998.2 141.1 L1999.3 139.6 L2000.3 138.1 L2001.4 136.7 L2002.5 135.2 L2003.6 133.8 L2004.8 132.4 L2005.9 130.9 L2007.0 129.5 L2008.2 128.1 L2009.3 126.7 L2010.5 125.2 L2011.6 123.8 L2012.8 122.4 L2014.0 121.0 L2015.2 119.7 L2016.4 118.3 L2017.6 116.9 L2018.8 115.5 L2020.0 114.2 L2021.2 112.8 L2022.5 111.5 L2023.7 110.2 L2025.0 108.8 L2026.2 107.5 L2027.5 106.2 L2028.8 104.9 L2030.1 103.7 L2031.4 102.4 L2032.7 101.1 L2034.0 99.9 L2035.3 98.6 L2036.7 97.4 L2038.0 96.2 L2039.4 95.0 L2040.7 93.8 L2042.1 92.6 L2043.5 91.5 L2044.9 90.3 L2046.3 89.2 L2047.7 88.1 L2049.1 87.0 L2050.5 85.9 L2052.0 84.8 L2053.4 83.7 L2054.9 82.7 L2056.3 81.6 L2057.8 80.6 L2059.3 79.6 L2060.8 78.6 L2062.3 77.7 L2063.8 76.7 L2065.4 75.8 L2066.9 74.9 L2068.5 74.0 L2070.0 73.1 L2071.6 72.2 L2073.2 71.4 L2074.8 70.6 L2076.4 69.7 L2078.0 69.0 L2079.6 68.2 L2081.3 67.4 L2082.9 66.7 L2084.6 66.0 L2086.2 65.3 L2087.9 64.7 L2089.6 64.0 L2091.3 63.4 L2093.0 62.8 L2094.7 62.2 L2096.5 61.7 L2098.2 61.1 L2100.0 60.6 L2101.7 60.1 L2103.5 59.6 L2105.3 59.2 L2107.1 58.7 L2108.9 58.3 L2110.7 57.9 L2112.5 57.5 L2114.3 57.1 L2116.1 56.8 L2118.0 56.4 L2119.8 56.1 L2121.6 55.8 L2123.2 55.5 L2124.8 55.2 L2126.4 55.0 L2128.0 54.8 L2129.6 54.5 L2131.1 54.3 L2132.7 54.1 L2134.3 53.9 L2135.9 53.7 L2137.5 53.5 L2139.1 53.3 L2140.7 53.1 L2142.3 52.9 L2143.9 52.8 L2145.5 52.6 L2147.1 52.4 L2148.7 52.3 L2150.3 52.1 L2152.1 51.9 L2154.0 51.8 L2155.8 51.6 L2157.7 51.4 L2159.5 51.3 L2161.4 51.1 L2163.2 50.9 L2165.0 50.8 L2166.9 50.6 L2168.7 50.5 L2170.5 50.3 L2172.3 50.2 L2174.1 50.0 L2175.9 49.8 L2177.7 49.7 L2179.5 49.5 L2181.2 49.3 L2183.0 49.2 L2184.8 49.0 L2186.5 48.8 L2188.2 48.6 L2190.0 48.4 L2191.7 48.2 L2193.4 48.0 L2195.1 47.8 L2196.5 47.6" fill="none" stroke="#990099" stroke-width="6.2" stroke-linecap="round" stroke-dasharray="0 12.85"/>
<path d="M1416.0 548.8 L1417.7 548.4 L1419.5 548.1 L1421.2 547.7 L1422.9 547.4 L1424.6 547.0 L1426.4 546.7 L1428.1 546.4 L1429.8 546.1 L1431.6 545.8 L1433.3 545.5 L1435.1 545.2 L1436.8 544.9 L1438.5 544.7 L1440.3 544.4 L1442.0 544.2 L1443.8 543.9 L1445.5 543.7 L1447.3 543.5 L1449.0 543.3 L1450.8 543.1 L1452.5 542.9 L1454.3 542.7 L1456.0 542.5 L1457.8 542.3 L1459.5 542.1 L1461.3 542.0 L1463.0 541.8 L1464.8 541.7 L1466.6 541.5 L1468.3 541.4 L1470.1 541.3 L1471.9 541.1 L1473.6 541.0 L1475.4 540.9 L1477.2 540.8 L1478.9 540.7 L1480.7 540.6 L1482.5 540.5 L1484.2 540.4 L1486.0 540.3 L1487.8 540.3 L1489.5 540.2 L1491.3 540.1 L1493.1 540.1 L1494.9 540.0 L1496.6 539.9 L1498.4 539.9 L1500.2 539.8 L1502.0 539.8 L1503.7 539.8 L1505.5 539.7 L1507.3 539.7 L1509.1 539.6 L1510.8 539.6 L1512.6 539.6 L1514.4 539.6 L1516.2 539.5 L1518.0 539.5 L1519.7 539.5 L1521.5 539.5 L1523.3 539.5 L1525.1 539.5 L1526.9 539.5 L1528.6 539.4 L1530.4 539.4 L1532.2 539.4 L1534.0 539.4 L1535.8 539.4 L1537.5 539.4 L1539.3 539.4 L1541.1 539.4 L1542.9 539.4 L1544.7 539.4 L1546.5 539.4 L1548.2 539.4 L1550.0 539.4 L1551.8 539.4 L1553.6 539.4 L1555.4 539.4 L1557.2 539.4 L1558.9 539.4 L1560.7 539.4 L1562.5 539.4 L1564.3 539.3 L1566.1 539.3 L1567.8 539.3 L1569.6 539.3 L1571.4 539.3 L1573.2 539.3 L1575.0 539.2 L1576.7 539.2 L1578.5 539.2 L1580.3 539.2 L1582.1 539.1 L1583.8 539.1 L1585.6 539.0 L1587.4 539.0 L1589.2 539.0 L1590.9 538.9 L1592.7 538.8 L1594.5 538.8 L1596.3 538.7 L1598.0 538.7 L1599.8 538.6 L1601.6 538.5 L1603.4 538.4 L1605.1 538.4 L1606.9 538.3 L1608.7 538.2 L1610.4 538.1 L1612.2 538.0 L1614.0 537.9 L1615.7 537.7 L1617.5 537.6 L1619.3 537.5 L1621.0 537.4 L1622.8 537.2 L1624.5 537.1 L1626.3 536.9 L1628.1 536.8 L1629.8 536.6 L1631.6 536.4 L1633.3 536.2 L1635.1 536.1 L1636.8 535.9 L1638.6 535.7 L1640.3 535.5 L1642.1 535.2 L1643.8 535.0 L1645.6 534.8 L1647.3 534.5 L1649.1 534.3 L1650.8 534.0 L1652.5 533.8 L1654.3 533.5 L1656.0 533.2 L1657.8 532.9 L1659.5 532.6 L1661.2 532.3 L1663.0 532.0 L1664.7 531.6 L1666.4 531.3 L1668.2 530.9 L1669.9 530.6 L1671.6 530.2 L1673.3 529.8 L1675.0 529.4 L1676.8 529.0 L1678.5 528.6 L1680.2 528.2 L1681.9 527.8 L1683.6 527.3 L1685.3 526.9 L1687.0 526.4 L1688.7 525.9 L1690.4 525.5 L1692.1 525.0 L1693.8 524.5 L1695.5 523.9 L1697.2 523.4 L1698.9 522.9 L1700.6 522.3 L1702.3 521.8 L1703.9 521.2 L1705.6 520.6 L1707.3 520.0 L1709.0 519.4 L1710.6 518.8 L1712.3 518.2 L1713.9 517.6 L1715.6 516.9 L1717.2 516.3 L1718.9 515.6 L1720.5 514.9 L1722.1 514.3 L1723.7 513.6 L1725.4 512.9 L1727.0 512.1 L1728.6 511.4 L1730.2 510.7 L1731.8 509.9 L1733.4 509.2 L1735.0 508.4 L1736.6 507.6 L1738.2 506.8 L1739.7 506.0 L1741.3 505.2 L1742.9 504.4 L1744.4 503.6 L1746.0 502.7 L1747.5 501.9 L1749.0 501.0 L1750.6 500.1 L1752.1 499.2 L1753.6 498.3 L1755.1 497.4 L1756.6 496.5 L1758.1 495.6 L1759.6 494.6 L1761.1 493.7 L1762.6 492.7 L1764.0 491.7 L1765.5 490.8 L1766.9 489.8 L1768.4 488.8 L1769.8 487.7 L1771.3 486.7 L1772.7 485.7 L1774.1 484.6 L1775.5 483.6 L1776.9 482.5 L1778.3 481.4 L1779.7 480.3 L1781.1 479.2 L1782.4 478.1 L1783.8 477.0 L1785.2 475.9 L1786.5 474.7 L1787.9 473.6 L1789.2 472.4 L1790.5 471.3 L1791.8 470.1 L1793.2 468.9 L1794.5 467.7 L1795.8 466.5 L1797.1 465.3 L1798.4 464.1 L1799.7 462.9 L1800.9 461.7 L1802.2 460.4 L1803.5 459.2 L1804.7 457.9 L1806.0 456.7 L1807.2 455.4 L1808.5 454.1 L1809.7 452.9 L1811.0 451.6 L1812.2 450.3 L1813.4 449.0 L1814.6 447.7 L1815.8 446.4 L1817.0 445.1 L1818.2 443.8 L1819.4 442.4 L1820.6 441.1 L1821.8 439.8 L1823.0 438.4 L1824.1 437.1 L1825.3 435.7 L1826.5 434.4 L1827.6 433.0 L1828.8 431.6 L1829.9 430.3 L1831.1 428.9 L1832.2 427.5 L1833.3 426.1 L1834.5 424.7 L1835.6 423.3 L1836.7 421.9 L1837.8 420.5 L1838.9 419.1 L1840.1 417.7 L1841.2 416.3 L1842.3 414.9 L1843.3 413.5 L1844.4 412.1 L1845.5 410.7 L1846.6 409.2 L1847.7 407.8 L1848.8 406.4 L1849.8 405.0 L1850.9 403.5 L1852.0 402.1 L1853.0 400.7 L1854.1 399.2 L1855.1 397.8 L1856.2 396.4 L1857.2 394.9 L1858.3 393.5 L1859.3 392.0 L1860.3 390.6 L1861.4 389.1 L1862.4 387.7 L1863.4 386.3 L1864.4 384.8 L1865.4 383.4 L1866.5 381.9 L1867.5 380.4 L1868.5 379.0 L1869.5 377.5 L1870.5 376.1 L1871.5 374.6 L1872.5 373.1 L1873.5 371.7 L1874.4 370.2 L1875.4 368.7 L1876.4 367.3 L1877.4 365.8 L1878.3 364.3 L1879.3 362.9 L1880.3 361.4 L1881.2 359.9 L1882.2 358.4 L1883.1 356.9 L1884.1 355.5 L1885.0 354.0 L1886.0 352.5 L1886.9 351.0 L1887.9 349.5 L1888.8 348.0 L1889.7 346.5 L1890.7 345.0 L1891.6 343.5 L1892.5 342.0 L1893.4 340.5 L1894.3 339.0 L1895.3 337.5 L1896.2 336.0 L1897.1 334.5 L1898.0 333.0 L1898.9 331.5 L1899.8 330.0 L1900.6 328.5 L1901.5 326.9 L1902.4 325.4 L1903.3 323.9 L1904.2 322.4 L1905.1 320.8 L1905.9 319.3 L1906.8 317.8 L1907.7 316.3 L1908.5 314.7 L1909.4 313.2 L1910.2 311.7 L1911.1 310.1 L1911.9 308.6 L1912.8 307.0 L1913.6 305.5 L1914.5 303.9 L1915.3 302.4 L1916.1 300.8 L1917.0 299.3 L1917.8 297.7 L1918.6 296.2 L1919.4 294.6 L1920.2 293.0 L1921.1 291.5 L1921.9 289.9 L1922.7 288.3 L1923.5 286.8 L1924.3 285.2 L1925.1 283.6 L1925.9 282.0 L1926.7 280.5 L1927.5 278.9 L1928.2 277.3 L1929.0 275.7 L1929.8 274.1 L1930.6 272.5 L1931.4 271.0 L1932.1 269.4 L1932.9 267.8 L1933.7 266.2 L1934.4 264.6 L1935.2 263.0 L1936.0 261.4 L1936.7 259.8 L1937.5 258.2 L1938.3 256.6 L1939.0 255.0 L1939.8 253.4 L1940.5 251.7 L1941.3 250.1 L1942.0 248.5 L1942.8 246.9 L1943.6 245.3 L1944.3 243.7 L1945.1 242.1 L1945.8 240.5 L1946.6 238.9 L1947.3 237.3 L1948.1 235.7 L1948.9 234.1 L1949.6 232.4 L1950.4 230.8 L1951.1 229.2 L1951.9 227.6 L1952.7 226.0 L1953.4 224.4 L1954.2 222.8 L1955.0 221.2 L1955.7 219.6 L1956.5 218.0 L1957.3 216.4 L1958.1 214.8 L1958.8 213.2 L1959.6 211.6 L1960.4 210.0 L1961.2 208.4 L1962.0 206.8 L1962.8 205.2 L1963.6 203.6 L1964.4 202.0 L1965.2 200.4 L1966.0 198.9 L1966.8 197.3 L1967.6 195.7 L1968.4 194.1 L1969.3 192.5 L1970.1 191.0 L1970.9 189.4 L1971.8 187.8 L1972.6 186.3 L1973.5 184.7 L1974.3 183.1 L1975.2 181.6 L1976.0 180.0 L1976.9 178.5 L1977.8 176.9 L1978.7 175.4 L1979.5 173.8 L1980.4 172.3 L1981.3 170.7 L1982.2 169.2 L1983.2 167.7 L1984.1 166.2 L1985.0 164.6 L1985.9 163.1 L1986.9 161.6 L1987.8 160.1 L1988.8 158.6 L1989.7 157.1 L1990.7 155.6 L1991.7 154.1 L1992.7 152.6 L1993.7 151.1 L1994.6 149.6 L1995.7 148.2 L1996.7 146.7 L1997.7 145.2 L1998.7 143.8 L1999.8 142.3 L2000.8 140.9 L2001.8 139.5 L2002.9 138.0 L2004.0 136.6 L2005.0 135.2 L2006.1 133.8 L2007.2 132.4 L2008.3 131.0 L2009.4 129.6 L2010.5 128.2 L2011.7 126.8 L2012.8 125.4 L2013.9 124.1 L2015.1 122.7 L2016.2 121.4 L2017.4 120.1 L2018.5 118.7 L2019.7 117.4 L2020.9 116.1 L2022.1 114.8 L2023.3 113.5 L2024.5 112.2 L2025.7 111.0 L2027.0 109.7 L2028.2 108.5 L2029.4 107.2 L2030.7 106.0 L2031.9 104.8 L2033.2 103.5 L2034.5 102.3 L2035.8 101.2 L2037.1 100.0 L2038.4 98.8 L2039.7 97.7 L2041.0 96.5 L2042.3 95.4 L2043.6 94.3 L2045.0 93.2 L2046.3 92.1 L2047.7 91.0 L2049.1 89.9 L2050.4 88.8 L2051.8 87.8 L2053.2 86.8 L2054.6 85.8 L2056.0 84.7 L2057.5 83.8 L2058.9 82.8 L2060.3 81.8 L2061.8 80.9 L2063.2 79.9 L2064.7 79.0 L2066.2 78.1 L2067.7 77.2 L2069.2 76.3 L2070.7 75.5 L2072.2 74.6 L2073.7 73.8 L2075.2 73.0 L2076.8 72.2 L2078.3 71.4 L2079.9 70.6 L2081.4 69.8 L2083.0 69.1 L2084.6 68.4 L2086.2 67.7 L2087.8 67.0 L2089.4 66.3 L2091.0 65.7 L2092.6 65.0 L2094.3 64.4 L2095.9 63.8 L2097.6 63.2 L2099.3 62.6 L2100.9 62.1 L2102.6 61.6 L2104.3 61.0 L2106.0 60.5 L2107.7 60.1 L2109.4 59.6 L2111.2 59.1 L2112.9 58.7 L2114.6 58.2 L2116.4 57.8 L2118.1 57.4 L2119.9 57.0 L2121.6 56.7 L2123.4 56.3 L2125.2 55.9 L2126.9 55.6 L2128.7 55.3 L2130.5 55.0 L2132.3 54.7 L2134.0 54.4 L2135.8 54.1 L2137.6 53.8 L2139.4 53.5 L2141.2 53.3 L2143.0 53.0 L2144.8 52.8 L2146.6 52.5 L2148.4 52.3 L2150.2 52.1 L2152.0 51.9 L2153.8 51.7 L2155.6 51.4 L2157.4 51.3 L2159.2 51.1 L2161.0 50.9 L2162.8 50.7 L2164.5 50.5 L2166.3 50.3 L2168.1 50.2 L2169.9 50.0 L2171.7 49.8 L2173.4 49.7 L2175.2 49.5 L2177.0 49.4 L2178.7 49.2 L2180.5 49.1 L2182.2 48.9 L2184.0 48.7 L2185.7 48.6 L2187.5 48.4 L2189.2 48.3 L2190.9 48.1 L2192.6 48.0 L2194.3 47.8 L2196.0 47.7 L2196.5 47.6" fill="none" stroke="#CC33FF" stroke-width="6.2" stroke-linecap="round" stroke-dasharray="0 12.85"/>
<path d="M1419.8 430.7 L1421.5 430.2 L1423.3 429.8 L1425.0 429.4 L1426.7 429.0 L1428.5 428.6 L1430.2 428.2 L1431.9 427.8 L1433.7 427.4 L1435.4 427.0 L1437.2 426.7 L1438.9 426.3 L1440.7 425.9 L1442.4 425.6 L1444.2 425.2 L1445.9 424.8 L1447.7 424.5 L1449.4 424.1 L1451.2 423.8 L1453.0 423.4 L1454.7 423.1 L1456.5 422.8 L1458.3 422.4 L1460.0 422.1 L1461.8 421.8 L1463.6 421.4 L1465.4 421.1 L1467.2 420.8 L1468.9 420.5 L1470.7 420.2 L1472.5 419.9 L1474.3 419.5 L1476.1 419.2 L1477.9 418.9 L1479.7 418.6 L1481.4 418.3 L1483.2 418.0 L1485.0 417.7 L1486.8 417.4 L1488.6 417.1 L1490.4 416.8 L1492.2 416.5 L1494.0 416.2 L1495.8 415.9 L1497.6 415.7 L1499.4 415.4 L1501.2 415.1 L1503.0 414.8 L1504.8 414.5 L1506.6 414.2 L1508.4 413.9 L1510.2 413.6 L1512.0 413.3 L1513.8 413.0 L1515.6 412.7 L1517.4 412.4 L1519.2 412.1 L1521.0 411.9 L1522.8 411.6 L1524.6 411.3 L1526.4 411.0 L1528.2 410.7 L1530.0 410.4 L1531.8 410.1 L1533.6 409.8 L1535.4 409.5 L1537.2 409.1 L1539.0 408.8 L1540.8 408.5 L1542.6 408.2 L1544.4 407.9 L1546.2 407.6 L1548.0 407.3 L1549.8 406.9 L1551.6 406.6 L1553.4 406.3 L1555.1 406.0 L1556.9 405.6 L1558.7 405.3 L1560.5 404.9 L1562.3 404.6 L1564.1 404.2 L1565.9 403.9 L1567.6 403.5 L1569.4 403.2 L1571.2 402.8 L1573.0 402.5 L1574.7 402.1 L1576.5 401.7 L1578.3 401.3 L1580.0 400.9 L1581.8 400.6 L1583.6 400.2 L1585.3 399.8 L1587.1 399.4 L1588.9 399.0 L1590.6 398.5 L1592.4 398.1 L1594.1 397.7 L1595.9 397.3 L1597.6 396.8 L1599.4 396.4 L1601.1 395.9 L1602.8 395.5 L1604.6 395.0 L1606.3 394.6 L1608.0 394.1 L1609.8 393.6 L1611.5 393.1 L1613.2 392.6 L1614.9 392.2 L1616.6 391.6 L1618.4 391.1 L1620.1 390.6 L1621.8 390.1 L1623.5 389.6 L1625.2 389.0 L1626.9 388.5 L1628.6 387.9 L1630.3 387.4 L1631.9 386.8 L1633.6 386.2 L1635.3 385.6 L1637.0 385.0 L1638.7 384.4 L1640.3 383.8 L1642.0 383.2 L1643.6 382.6 L1645.3 381.9 L1646.9 381.3 L1648.6 380.6 L1650.2 380.0 L1651.9 379.3 L1653.5 378.6 L1655.2 377.9 L1656.8 377.2 L1658.4 376.5 L1660.0 375.8 L1661.6 375.1 L1663.3 374.4 L1664.9 373.6 L1666.5 372.9 L1668.1 372.1 L1669.7 371.4 L1671.3 370.6 L1672.9 369.8 L1674.5 369.0 L1676.0 368.2 L1677.6 367.4 L1679.2 366.6 L1680.8 365.8 L1682.4 365.0 L1683.9 364.1 L1685.5 363.3 L1687.1 362.5 L1688.6 361.6 L1690.2 360.7 L1691.7 359.9 L1693.3 359.0 L1694.8 358.1 L1696.3 357.2 L1697.9 356.3 L1699.4 355.4 L1701.0 354.5 L1702.5 353.6 L1704.0 352.7 L1705.5 351.7 L1707.0 350.8 L1708.6 349.9 L1710.1 348.9 L1711.6 348.0 L1713.1 347.0 L1714.6 346.0 L1716.1 345.1 L1717.6 344.1 L1719.1 343.1 L1720.6 342.1 L1722.1 341.1 L1723.5 340.1 L1725.0 339.1 L1726.5 338.1 L1728.0 337.1 L1729.5 336.0 L1730.9 335.0 L1732.4 334.0 L1733.9 332.9 L1735.3 331.9 L1736.8 330.8 L1738.2 329.8 L1739.7 328.7 L1741.1 327.7 L1742.6 326.6 L1744.0 325.5 L1745.5 324.4 L1746.9 323.3 L1748.3 322.3 L1749.8 321.2 L1751.2 320.1 L1752.6 319.0 L1754.1 317.9 L1755.5 316.7 L1756.9 315.6 L1758.3 314.5 L1759.7 313.4 L1761.2 312.3 L1762.6 311.1 L1764.0 310.0 L1765.4 308.8 L1766.8 307.7 L1768.2 306.6 L1769.6 305.4 L1771.0 304.2 L1772.4 303.1 L1773.8 301.9 L1775.2 300.8 L1776.5 299.6 L1777.9 298.4 L1779.3 297.2 L1780.7 296.1 L1782.1 294.9 L1783.4 293.7 L1784.8 292.5 L1786.2 291.3 L1787.5 290.1 L1788.9 288.9 L1790.3 287.7 L1791.6 286.5 L1793.0 285.3 L1794.3 284.1 L1795.7 282.9 L1797.1 281.7 L1798.4 280.5 L1799.8 279.3 L1801.1 278.1 L1802.4 276.8 L1803.8 275.6 L1805.1 274.4 L1806.5 273.2 L1807.8 271.9 L1809.1 270.7 L1810.5 269.5 L1811.8 268.2 L1813.1 267.0 L1814.5 265.8 L1815.8 264.5 L1817.1 263.3 L1818.4 262.1 L1819.7 260.8 L1821.1 259.6 L1822.4 258.3 L1823.7 257.1 L1825.0 255.8 L1826.3 254.6 L1827.6 253.3 L1828.9 252.1 L1830.2 250.8 L1831.6 249.6 L1832.9 248.3 L1834.2 247.1 L1835.5 245.8 L1836.8 244.6 L1838.1 243.3 L1839.4 242.1 L1840.6 240.8 L1841.9 239.6 L1843.2 238.3 L1844.5 237.1 L1845.8 235.8 L1847.1 234.5 L1848.4 233.3 L1849.7 232.0 L1851.0 230.8 L1852.3 229.5 L1853.6 228.3 L1854.8 227.0 L1856.1 225.7 L1857.4 224.5 L1858.7 223.2 L1860.0 222.0 L1861.3 220.7 L1862.5 219.4 L1863.8 218.2 L1865.1 216.9 L1866.4 215.7 L1867.7 214.4 L1869.0 213.1 L1870.2 211.9 L1871.5 210.6 L1872.8 209.4 L1874.1 208.1 L1875.4 206.9 L1876.7 205.6 L1877.9 204.3 L1879.2 203.1 L1880.5 201.8 L1881.8 200.6 L1883.1 199.3 L1884.4 198.1 L1885.6 196.8 L1886.9 195.6 L1888.2 194.3 L1889.5 193.1 L1890.8 191.8 L1892.1 190.6 L1893.4 189.3 L1894.7 188.1 L1895.9 186.8 L1897.2 185.6 L1898.5 184.3 L1899.8 183.1 L1901.1 181.9 L1902.4 180.6 L1903.7 179.4 L1905.0 178.1 L1906.3 176.9 L1907.6 175.7 L1908.9 174.4 L1910.2 173.2 L1911.5 172.0 L1912.8 170.7 L1914.1 169.5 L1915.4 168.3 L1916.8 167.1 L1918.1 165.8 L1919.4 164.6 L1920.7 163.4 L1922.0 162.2 L1923.3 161.0 L1924.7 159.7 L1926.0 158.5 L1927.3 157.3 L1928.6 156.1 L1930.0 154.9 L1931.3 153.7 L1932.6 152.5 L1934.0 151.3 L1935.3 150.1 L1936.6 148.9 L1938.0 147.7 L1939.3 146.5 L1940.7 145.3 L1942.0 144.1 L1943.4 142.9 L1944.7 141.8 L1946.1 140.6 L1947.5 139.4 L1948.8 138.2 L1950.2 137.0 L1951.6 135.9 L1952.9 134.7 L1954.3 133.5 L1955.7 132.4 L1957.1 131.2 L1958.4 130.0 L1959.8 128.9 L1961.2 127.7 L1962.6 126.6 L1964.0 125.4 L1965.4 124.3 L1966.8 123.2 L1968.2 122.0 L1969.6 120.9 L1971.1 119.7 L1972.5 118.6 L1973.9 117.5 L1975.3 116.4 L1976.7 115.2 L1978.2 114.1 L1979.6 113.0 L1981.1 111.9 L1982.5 110.8 L1983.9 109.7 L1985.4 108.6 L1986.9 107.5 L1988.3 106.4 L1989.8 105.3 L1991.2 104.3 L1992.7 103.2 L1994.2 102.1 L1995.7 101.0 L1997.2 100.0 L1998.6 98.9 L2000.1 97.9 L2001.6 96.9 L2003.1 95.8 L2004.6 94.8 L2006.2 93.8 L2007.7 92.8 L2009.2 91.8 L2010.7 90.8 L2012.2 89.8 L2013.8 88.8 L2015.3 87.9 L2016.9 86.9 L2018.4 85.9 L2020.0 85.0 L2021.5 84.1 L2023.1 83.1 L2024.6 82.2 L2026.2 81.3 L2027.8 80.4 L2029.4 79.5 L2031.0 78.7 L2032.5 77.8 L2034.1 77.0 L2035.7 76.1 L2037.3 75.3 L2039.0 74.5 L2040.6 73.7 L2042.2 72.9 L2043.8 72.1 L2045.4 71.3 L2047.1 70.6 L2048.7 69.8 L2050.4 69.1 L2052.0 68.4 L2053.7 67.7 L2055.3 67.0 L2057.0 66.3 L2058.7 65.6 L2060.4 65.0 L2062.1 64.4 L2063.7 63.7 L2065.4 63.1 L2067.1 62.5 L2068.8 62.0 L2070.6 61.4 L2072.3 60.9 L2074.0 60.3 L2075.7 59.8 L2077.5 59.3 L2079.2 58.8 L2080.9 58.4 L2082.7 57.9 L2084.4 57.5 L2086.2 57.0 L2087.9 56.6 L2089.7 56.2 L2091.5 55.8 L2093.2 55.4 L2095.0 55.1 L2096.8 54.7 L2098.5 54.4 L2100.3 54.0 L2102.1 53.7 L2103.9 53.4 L2105.7 53.1 L2107.5 52.8 L2109.3 52.5 L2111.1 52.2 L2112.9 52.0 L2114.7 51.7 L2116.5 51.5 L2118.3 51.2 L2120.1 51.0 L2121.9 50.8 L2123.7 50.6 L2125.5 50.4 L2127.3 50.2 L2129.1 50.0 L2130.9 49.8 L2132.8 49.6 L2134.6 49.5 L2136.4 49.3 L2138.2 49.2 L2140.0 49.0 L2141.8 48.9 L2143.7 48.7 L2145.5 48.6 L2147.3 48.5 L2149.1 48.3 L2150.9 48.2 L2152.8 48.1 L2154.6 48.0 L2156.4 47.9 L2158.2 47.8 L2160.0 47.7 L2161.8 47.6 L2163.7 47.5 L2165.5 47.4 L2167.3 47.3 L2169.1 47.2 L2170.9 47.2 L2172.7 47.1 L2174.5 47.0 L2176.3 46.9 L2178.1 46.8 L2179.9 46.7 L2181.7 46.7 L2183.5 46.6 L2185.3 46.5 L2187.1 46.4 L2188.9 46.4 L2190.7 46.3 L2192.4 46.2 L2194.2 46.1 L2196.0 46.0 L2196.4 46.0" fill="none" stroke="#00B8F2" stroke-width="6.2" stroke-linecap="round" stroke-dasharray="0 12.85"/>
<path d="M1414.0 433.8 L1415.7 433.4 L1417.4 432.9 L1419.1 432.5 L1420.8 432.1 L1422.6 431.6 L1424.3 431.2 L1426.0 430.8 L1427.7 430.4 L1429.5 430.0 L1431.2 429.6 L1432.9 429.2 L1434.7 428.8 L1436.4 428.5 L1438.1 428.1 L1439.9 427.7 L1441.6 427.3 L1443.4 427.0 L1445.1 426.6 L1446.9 426.3 L1448.6 425.9 L1450.4 425.6 L1452.2 425.2 L1453.9 424.9 L1455.7 424.5 L1457.5 424.2 L1459.2 423.9 L1461.0 423.5 L1462.8 423.2 L1464.6 422.9 L1466.3 422.6 L1468.1 422.3 L1469.9 421.9 L1471.7 421.6 L1473.4 421.3 L1475.2 421.0 L1477.0 420.7 L1478.8 420.4 L1480.6 420.1 L1482.4 419.8 L1484.2 419.5 L1486.0 419.2 L1487.8 418.9 L1489.5 418.6 L1491.3 418.3 L1493.1 418.0 L1494.9 417.7 L1496.7 417.4 L1498.5 417.1 L1500.3 416.8 L1502.1 416.5 L1503.9 416.2 L1505.7 416.0 L1507.5 415.7 L1509.3 415.4 L1511.1 415.1 L1512.9 414.8 L1514.7 414.5 L1516.5 414.2 L1518.3 413.9 L1520.1 413.6 L1521.9 413.3 L1523.7 413.0 L1525.5 412.7 L1527.3 412.4 L1529.1 412.1 L1530.9 411.8 L1532.7 411.5 L1534.5 411.2 L1536.3 410.9 L1538.1 410.6 L1539.9 410.3 L1541.7 410.0 L1543.5 409.7 L1545.3 409.4 L1547.1 409.0 L1548.9 408.7 L1550.7 408.4 L1552.5 408.1 L1554.3 407.7 L1556.1 407.4 L1557.9 407.1 L1559.7 406.7 L1561.5 406.4 L1563.3 406.0 L1565.0 405.7 L1566.8 405.3 L1568.6 405.0 L1570.4 404.6 L1572.2 404.3 L1574.0 403.9 L1575.7 403.5 L1577.5 403.1 L1579.3 402.7 L1581.1 402.4 L1582.8 402.0 L1584.6 401.6 L1586.4 401.2 L1588.1 400.8 L1589.9 400.4 L1591.6 399.9 L1593.4 399.5 L1595.2 399.1 L1596.9 398.7 L1598.7 398.2 L1600.4 397.8 L1602.2 397.3 L1603.9 396.9 L1605.6 396.4 L1607.4 395.9 L1609.1 395.5 L1610.8 395.0 L1612.6 394.5 L1614.3 394.0 L1616.0 393.5 L1617.7 393.0 L1619.5 392.5 L1621.2 392.0 L1622.9 391.4 L1624.6 390.9 L1626.3 390.3 L1628.0 389.8 L1629.7 389.2 L1631.4 388.7 L1633.1 388.1 L1634.8 387.5 L1636.5 386.9 L1638.1 386.3 L1639.8 385.7 L1641.5 385.1 L1643.2 384.5 L1644.8 383.8 L1646.5 383.2 L1648.2 382.5 L1649.8 381.9 L1651.5 381.2 L1653.1 380.5 L1654.8 379.8 L1656.4 379.1 L1658.0 378.4 L1659.7 377.7 L1661.3 377.0 L1662.9 376.3 L1664.5 375.5 L1666.1 374.8 L1667.8 374.0 L1669.4 373.3 L1671.0 372.5 L1672.6 371.7 L1674.2 370.9 L1675.8 370.2 L1677.4 369.4 L1679.0 368.5 L1680.5 367.7 L1682.1 366.9 L1683.7 366.1 L1685.3 365.2 L1686.8 364.4 L1688.4 363.5 L1690.0 362.7 L1691.5 361.8 L1693.1 360.9 L1694.6 360.1 L1696.2 359.2 L1697.7 358.3 L1699.3 357.4 L1700.8 356.5 L1702.3 355.5 L1703.9 354.6 L1705.4 353.7 L1706.9 352.8 L1708.5 351.8 L1710.0 350.9 L1711.5 349.9 L1713.0 349.0 L1714.5 348.0 L1716.0 347.0 L1717.5 346.0 L1719.0 345.1 L1720.5 344.1 L1722.0 343.1 L1723.5 342.1 L1725.0 341.1 L1726.5 340.0 L1728.0 339.0 L1729.4 338.0 L1730.9 337.0 L1732.4 335.9 L1733.9 334.9 L1735.3 333.9 L1736.8 332.8 L1738.3 331.7 L1739.7 330.7 L1741.2 329.6 L1742.6 328.5 L1744.1 327.5 L1745.5 326.4 L1747.0 325.3 L1748.4 324.2 L1749.9 323.1 L1751.3 322.0 L1752.7 320.9 L1754.2 319.8 L1755.6 318.7 L1757.0 317.6 L1758.4 316.5 L1759.9 315.3 L1761.3 314.2 L1762.7 313.1 L1764.1 311.9 L1765.5 310.8 L1766.9 309.7 L1768.3 308.5 L1769.7 307.4 L1771.1 306.2 L1772.5 305.0 L1773.9 303.9 L1775.3 302.7 L1776.7 301.5 L1778.1 300.4 L1779.5 299.2 L1780.9 298.0 L1782.2 296.8 L1783.6 295.7 L1785.0 294.5 L1786.4 293.3 L1787.7 292.1 L1789.1 290.9 L1790.5 289.7 L1791.8 288.5 L1793.2 287.3 L1794.6 286.1 L1795.9 284.9 L1797.3 283.7 L1798.6 282.4 L1800.0 281.2 L1801.3 280.0 L1802.7 278.8 L1804.0 277.6 L1805.4 276.3 L1806.7 275.1 L1808.1 273.9 L1809.4 272.7 L1810.7 271.4 L1812.1 270.2 L1813.4 269.0 L1814.7 267.7 L1816.0 266.5 L1817.4 265.2 L1818.7 264.0 L1820.0 262.8 L1821.3 261.5 L1822.7 260.3 L1824.0 259.0 L1825.3 257.8 L1826.6 256.5 L1827.9 255.3 L1829.2 254.0 L1830.5 252.8 L1831.8 251.5 L1833.1 250.3 L1834.5 249.0 L1835.8 247.8 L1837.1 246.5 L1838.4 245.3 L1839.7 244.0 L1841.0 242.8 L1842.2 241.5 L1843.5 240.2 L1844.8 239.0 L1846.1 237.7 L1847.4 236.5 L1848.7 235.2 L1850.0 234.0 L1851.3 232.7 L1852.6 231.4 L1853.9 230.2 L1855.2 228.9 L1856.4 227.7 L1857.7 226.4 L1859.0 225.1 L1860.3 223.9 L1861.6 222.6 L1862.9 221.4 L1864.1 220.1 L1865.4 218.8 L1866.7 217.6 L1868.0 216.3 L1869.3 215.1 L1870.6 213.8 L1871.8 212.6 L1873.1 211.3 L1874.4 210.0 L1875.7 208.8 L1877.0 207.5 L1878.3 206.3 L1879.5 205.0 L1880.8 203.8 L1882.1 202.5 L1883.4 201.3 L1884.7 200.0 L1886.0 198.7 L1887.2 197.5 L1888.5 196.2 L1889.8 195.0 L1891.1 193.7 L1892.4 192.5 L1893.7 191.2 L1895.0 190.0 L1896.2 188.8 L1897.5 187.5 L1898.8 186.3 L1900.1 185.0 L1901.4 183.8 L1902.7 182.5 L1904.0 181.3 L1905.3 180.1 L1906.6 178.8 L1907.9 177.6 L1909.2 176.4 L1910.5 175.1 L1911.8 173.9 L1913.1 172.7 L1914.4 171.4 L1915.7 170.2 L1917.0 169.0 L1918.3 167.8 L1919.6 166.5 L1921.0 165.3 L1922.3 164.1 L1923.6 162.9 L1924.9 161.7 L1926.2 160.5 L1927.6 159.3 L1928.9 158.0 L1930.2 156.8 L1931.5 155.6 L1932.9 154.4 L1934.2 153.2 L1935.5 152.0 L1936.9 150.8 L1938.2 149.6 L1939.6 148.4 L1940.9 147.3 L1942.2 146.1 L1943.6 144.9 L1944.9 143.7 L1946.3 142.5 L1947.7 141.3 L1949.0 140.2 L1950.4 139.0 L1951.7 137.8 L1953.1 136.6 L1954.5 135.5 L1955.9 134.3 L1957.2 133.2 L1958.6 132.0 L1960.0 130.8 L1961.4 129.7 L1962.8 128.5 L1964.2 127.4 L1965.6 126.2 L1967.0 125.1 L1968.4 124.0 L1969.8 122.8 L1971.2 121.7 L1972.6 120.6 L1974.0 119.4 L1975.4 118.3 L1976.8 117.2 L1978.3 116.1 L1979.7 115.0 L1981.1 113.9 L1982.6 112.8 L1984.0 111.7 L1985.5 110.6 L1986.9 109.5 L1988.4 108.4 L1989.8 107.3 L1991.3 106.2 L1992.7 105.1 L1994.2 104.1 L1995.7 103.0 L1997.2 102.0 L1998.6 100.9 L2000.1 99.9 L2001.6 98.8 L2003.1 97.8 L2004.6 96.8 L2006.1 95.7 L2007.6 94.7 L2009.1 93.7 L2010.6 92.7 L2012.2 91.8 L2013.7 90.8 L2015.2 89.8 L2016.7 88.8 L2018.3 87.9 L2019.8 87.0 L2021.4 86.0 L2022.9 85.1 L2024.5 84.2 L2026.0 83.3 L2027.6 82.4 L2029.2 81.5 L2030.7 80.6 L2032.3 79.8 L2033.9 78.9 L2035.5 78.1 L2037.1 77.2 L2038.7 76.4 L2040.3 75.6 L2041.9 74.8 L2043.5 74.0 L2045.1 73.2 L2046.7 72.5 L2048.4 71.7 L2050.0 71.0 L2051.6 70.3 L2053.3 69.6 L2054.9 68.9 L2056.6 68.2 L2058.2 67.5 L2059.9 66.9 L2061.6 66.2 L2063.2 65.6 L2064.9 65.0 L2066.6 64.4 L2068.3 63.8 L2070.0 63.3 L2071.7 62.7 L2073.4 62.2 L2075.1 61.7 L2076.8 61.2 L2078.5 60.7 L2080.3 60.2 L2082.0 59.7 L2083.7 59.3 L2085.5 58.9 L2087.2 58.4 L2089.0 58.0 L2090.7 57.6 L2092.5 57.2 L2094.2 56.9 L2096.0 56.5 L2097.7 56.1 L2099.5 55.8 L2101.3 55.5 L2103.1 55.2 L2104.8 54.9 L2106.6 54.6 L2108.4 54.3 L2110.2 54.0 L2112.0 53.7 L2113.8 53.5 L2115.6 53.2 L2117.4 53.0 L2119.1 52.7 L2120.9 52.5 L2122.8 52.3 L2124.6 52.1 L2126.4 51.9 L2128.2 51.7 L2130.0 51.5 L2131.8 51.3 L2133.6 51.2 L2135.4 51.0 L2137.2 50.8 L2139.0 50.7 L2140.8 50.6 L2142.7 50.4 L2144.5 50.3 L2146.3 50.1 L2148.1 50.0 L2149.9 49.9 L2151.7 49.8 L2153.5 49.7 L2155.4 49.6 L2157.2 49.5 L2159.0 49.4 L2160.8 49.3 L2162.6 49.2 L2164.4 49.1 L2166.2 49.0 L2168.0 48.9 L2169.8 48.8 L2171.6 48.7 L2173.5 48.6 L2175.3 48.6 L2177.1 48.5 L2178.9 48.4 L2180.7 48.3 L2182.4 48.2 L2184.2 48.2 L2186.0 48.1 L2187.8 48.0 L2189.6 47.9 L2191.4 47.8 L2193.2 47.8 L2194.9 47.7 L2196.5 47.6" fill="none" stroke="#00B8F2" stroke-width="5.9" stroke-linecap="round" stroke-linejoin="round"/>
</g>
<text x="1346" y="131" class="big">B</text>
<text transform="translate(1748.5,817.4) scale(1.05,1)" text-anchor="middle" class="t"><tspan font-style="italic">E</tspan> (V vs. RHE)</text>
<text transform="translate(1173,368) rotate(-90) scale(1.05,1)" text-anchor="middle" class="t"><tspan font-style="italic">j</tspan> (mA/μgPt)</text>
</g>
</svg>
</body></html>
